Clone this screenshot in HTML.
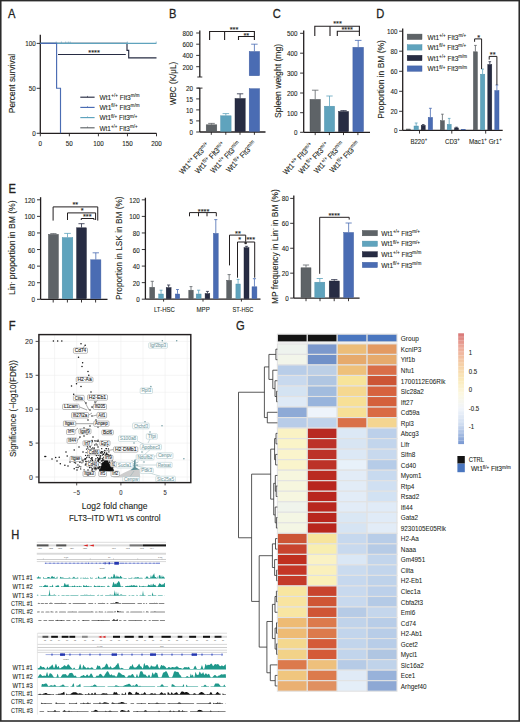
<!DOCTYPE html>
<html><head><meta charset="utf-8"><style>
html,body{margin:0;padding:0;background:#fff;}
svg{display:block;}
text{font-family:"Liberation Sans", sans-serif;}
</style></head><body>
<svg width="520" height="722" viewBox="0 0 520 722">
<rect x="0.75" y="0.6" width="518.5" height="720.4" fill="none" stroke="#2b2b2b" stroke-width="1.6"/>
<text transform="translate(8.00,18.10) scale(0.82,1)" font-size="13.6" text-anchor="start" fill="#231f20" stroke="#231f20" stroke-width="0.3">A</text>
<text transform="translate(169.00,18.20) scale(0.82,1)" font-size="13.6" text-anchor="start" fill="#231f20" stroke="#231f20" stroke-width="0.3">B</text>
<text transform="translate(272.70,18.20) scale(0.82,1)" font-size="13.6" text-anchor="start" fill="#231f20" stroke="#231f20" stroke-width="0.3">C</text>
<text transform="translate(376.20,18.20) scale(0.82,1)" font-size="13.6" text-anchor="start" fill="#231f20" stroke="#231f20" stroke-width="0.3">D</text>
<text transform="translate(8.40,192.80) scale(0.82,1)" font-size="13.6" text-anchor="start" fill="#231f20" stroke="#231f20" stroke-width="0.3">E</text>
<text transform="translate(8.70,329.50) scale(0.82,1)" font-size="13.6" text-anchor="start" fill="#231f20" stroke="#231f20" stroke-width="0.3">F</text>
<text transform="translate(235.90,329.50) scale(0.82,1)" font-size="13.6" text-anchor="start" fill="#231f20" stroke="#231f20" stroke-width="0.3">G</text>
<text transform="translate(11.20,539.00) scale(0.82,1)" font-size="13.6" text-anchor="start" fill="#231f20" stroke="#231f20" stroke-width="0.3">H</text>
<line x1="40.30" y1="34.80" x2="40.30" y2="133.30" stroke="#231f20" stroke-width="1.3"/>
<line x1="36.70" y1="43.40" x2="40.30" y2="43.40" stroke="#231f20" stroke-width="0.9"/>
<text transform="translate(35.70,46.40) scale(0.94,1)" font-size="6.7" text-anchor="end" fill="#231f20" stroke="#231f20" stroke-width="0.1">100</text>
<line x1="36.70" y1="88.30" x2="40.30" y2="88.30" stroke="#231f20" stroke-width="0.9"/>
<text transform="translate(35.70,91.30) scale(0.94,1)" font-size="6.7" text-anchor="end" fill="#231f20" stroke="#231f20" stroke-width="0.1">50</text>
<line x1="36.70" y1="133.30" x2="40.30" y2="133.30" stroke="#231f20" stroke-width="0.9"/>
<text transform="translate(35.70,136.30) scale(0.94,1)" font-size="6.7" text-anchor="end" fill="#231f20" stroke="#231f20" stroke-width="0.1">0</text>
<line x1="40.30" y1="133.30" x2="156.50" y2="133.30" stroke="#231f20" stroke-width="1.3"/>
<line x1="40.30" y1="133.30" x2="40.30" y2="136.30" stroke="#231f20" stroke-width="0.9"/>
<text transform="translate(40.30,146.00) scale(0.94,1)" font-size="6.7" text-anchor="middle" fill="#231f20" stroke="#231f20" stroke-width="0.1">0</text>
<line x1="69.35" y1="133.30" x2="69.35" y2="136.30" stroke="#231f20" stroke-width="0.9"/>
<text transform="translate(69.35,146.00) scale(0.94,1)" font-size="6.7" text-anchor="middle" fill="#231f20" stroke="#231f20" stroke-width="0.1">50</text>
<line x1="98.40" y1="133.30" x2="98.40" y2="136.30" stroke="#231f20" stroke-width="0.9"/>
<text transform="translate(98.40,146.00) scale(0.94,1)" font-size="6.7" text-anchor="middle" fill="#231f20" stroke="#231f20" stroke-width="0.1">100</text>
<line x1="127.45" y1="133.30" x2="127.45" y2="136.30" stroke="#231f20" stroke-width="0.9"/>
<text transform="translate(127.45,146.00) scale(0.94,1)" font-size="6.7" text-anchor="middle" fill="#231f20" stroke="#231f20" stroke-width="0.1">150</text>
<line x1="156.50" y1="133.30" x2="156.50" y2="136.30" stroke="#231f20" stroke-width="0.9"/>
<text transform="translate(156.50,146.00) scale(0.94,1)" font-size="6.7" text-anchor="middle" fill="#231f20" stroke="#231f20" stroke-width="0.1">200</text>
<text transform="translate(15.40,83.50) rotate(-90)" font-size="9.0" text-anchor="middle" fill="#231f20" stroke="#231f20" stroke-width="0.1" textLength="59.40" lengthAdjust="spacingAndGlyphs">Percent survival</text>
<path d="M40.3,43.4 H127 V50.4 H128.7 V57.9 H156.5" stroke="#272c43" stroke-width="1.15" fill="none"/>
<path d="M40.3,43.4 H156.5" stroke="#5fa3bd" stroke-width="1.15" fill="none"/>
<path d="M40.3,43.4 H56.6 V88.2 H60.5 V133.3" stroke="#4a6cb3" stroke-width="1.15" fill="none"/>
<line x1="56.20" y1="41.50" x2="56.20" y2="43.00" stroke="#5fa3bd" stroke-width="0.6"/>
<line x1="61.40" y1="41.50" x2="61.40" y2="43.00" stroke="#5fa3bd" stroke-width="0.6"/>
<line x1="65.70" y1="41.50" x2="65.70" y2="43.00" stroke="#5fa3bd" stroke-width="0.6"/>
<line x1="68.30" y1="41.50" x2="68.30" y2="43.00" stroke="#5fa3bd" stroke-width="0.6"/>
<line x1="70.20" y1="41.50" x2="70.20" y2="43.00" stroke="#5fa3bd" stroke-width="0.6"/>
<line x1="127.30" y1="41.50" x2="127.30" y2="43.00" stroke="#5fa3bd" stroke-width="0.6"/>
<line x1="156.20" y1="41.50" x2="156.20" y2="43.00" stroke="#5fa3bd" stroke-width="0.6"/>
<line x1="58.00" y1="54.50" x2="125.80" y2="54.50" stroke="#272c43" stroke-width="1.05"/>
<text transform="translate(94.00,54.90)" font-size="7.4" text-anchor="middle" fill="#231f20" stroke="#231f20" stroke-width="0.12">****</text>
<line x1="80.30" y1="97.20" x2="94.60" y2="97.20" stroke="#272c43" stroke-width="1.15"/>
<line x1="87.50" y1="95.90" x2="87.50" y2="97.20" stroke="#272c43" stroke-width="0.6"/>
<text transform="translate(99.50,100.00)" font-size="7.8" text-anchor="start" fill="#231f20" stroke="#231f20" stroke-width="0.1" textLength="40.00" lengthAdjust="spacingAndGlyphs">Wt1<tspan dy="-2.9" font-size="5.4">+/+</tspan><tspan dy="2.9"> Flt3</tspan><tspan dy="-2.9" font-size="5.4">m/m</tspan></text>
<line x1="80.30" y1="107.40" x2="94.60" y2="107.40" stroke="#4a6cb3" stroke-width="1.15"/>
<line x1="87.50" y1="106.10" x2="87.50" y2="107.40" stroke="#4a6cb3" stroke-width="0.6"/>
<text transform="translate(99.50,110.20)" font-size="7.8" text-anchor="start" fill="#231f20" stroke="#231f20" stroke-width="0.1" textLength="40.00" lengthAdjust="spacingAndGlyphs">Wt1<tspan dy="-2.9" font-size="5.4">fl/+</tspan><tspan dy="2.9"> Flt3</tspan><tspan dy="-2.9" font-size="5.4">m/m</tspan></text>
<line x1="80.30" y1="117.60" x2="94.60" y2="117.60" stroke="#5fa3bd" stroke-width="1.15"/>
<line x1="87.50" y1="116.30" x2="87.50" y2="117.60" stroke="#5fa3bd" stroke-width="0.6"/>
<text transform="translate(99.50,120.40)" font-size="7.8" text-anchor="start" fill="#231f20" stroke="#231f20" stroke-width="0.1" textLength="38.00" lengthAdjust="spacingAndGlyphs">Wt1<tspan dy="-2.9" font-size="5.4">fl/+</tspan><tspan dy="2.9"> Flt3</tspan><tspan dy="-2.9" font-size="5.4">m/+</tspan></text>
<line x1="80.30" y1="127.80" x2="94.60" y2="127.80" stroke="#5e6367" stroke-width="1.15"/>
<line x1="87.50" y1="126.50" x2="87.50" y2="127.80" stroke="#5e6367" stroke-width="0.6"/>
<text transform="translate(99.50,130.60)" font-size="7.8" text-anchor="start" fill="#231f20" stroke="#231f20" stroke-width="0.1" textLength="38.00" lengthAdjust="spacingAndGlyphs">Wt1<tspan dy="-2.9" font-size="5.4">+/+</tspan><tspan dy="2.9"> Flt3</tspan><tspan dy="-2.9" font-size="5.4">m/+</tspan></text>
<line x1="199.80" y1="30.40" x2="199.80" y2="77.00" stroke="#231f20" stroke-width="1.3"/>
<line x1="196.20" y1="33.00" x2="199.80" y2="33.00" stroke="#231f20" stroke-width="0.9"/>
<text transform="translate(193.00,36.00) scale(0.94,1)" font-size="6.7" text-anchor="end" fill="#231f20" stroke="#231f20" stroke-width="0.1">800</text>
<line x1="196.20" y1="44.20" x2="199.80" y2="44.20" stroke="#231f20" stroke-width="0.9"/>
<text transform="translate(193.00,47.20) scale(0.94,1)" font-size="6.7" text-anchor="end" fill="#231f20" stroke="#231f20" stroke-width="0.1">600</text>
<line x1="196.20" y1="55.40" x2="199.80" y2="55.40" stroke="#231f20" stroke-width="0.9"/>
<text transform="translate(193.00,58.40) scale(0.94,1)" font-size="6.7" text-anchor="end" fill="#231f20" stroke="#231f20" stroke-width="0.1">400</text>
<line x1="196.20" y1="66.70" x2="199.80" y2="66.70" stroke="#231f20" stroke-width="0.9"/>
<text transform="translate(193.00,69.70) scale(0.94,1)" font-size="6.7" text-anchor="end" fill="#231f20" stroke="#231f20" stroke-width="0.1">200</text>
<line x1="197.30" y1="77.00" x2="202.30" y2="77.00" stroke="#231f20" stroke-width="0.9"/>
<line x1="199.80" y1="88.00" x2="199.80" y2="132.00" stroke="#231f20" stroke-width="1.3"/>
<line x1="197.30" y1="88.10" x2="202.50" y2="88.10" stroke="#231f20" stroke-width="0.9"/>
<line x1="196.20" y1="88.10" x2="199.80" y2="88.10" stroke="#231f20" stroke-width="0.9"/>
<text transform="translate(193.00,91.10) scale(0.94,1)" font-size="6.7" text-anchor="end" fill="#231f20" stroke="#231f20" stroke-width="0.1">20</text>
<line x1="196.20" y1="98.90" x2="199.80" y2="98.90" stroke="#231f20" stroke-width="0.9"/>
<text transform="translate(193.00,101.90) scale(0.94,1)" font-size="6.7" text-anchor="end" fill="#231f20" stroke="#231f20" stroke-width="0.1">15</text>
<line x1="196.20" y1="109.90" x2="199.80" y2="109.90" stroke="#231f20" stroke-width="0.9"/>
<text transform="translate(193.00,112.90) scale(0.94,1)" font-size="6.7" text-anchor="end" fill="#231f20" stroke="#231f20" stroke-width="0.1">10</text>
<line x1="196.20" y1="120.90" x2="199.80" y2="120.90" stroke="#231f20" stroke-width="0.9"/>
<text transform="translate(193.00,123.90) scale(0.94,1)" font-size="6.7" text-anchor="end" fill="#231f20" stroke="#231f20" stroke-width="0.1">5</text>
<line x1="196.20" y1="132.00" x2="199.80" y2="132.00" stroke="#231f20" stroke-width="0.9"/>
<text transform="translate(193.00,135.00) scale(0.94,1)" font-size="6.7" text-anchor="end" fill="#231f20" stroke="#231f20" stroke-width="0.1">0</text>
<line x1="199.80" y1="132.00" x2="265.50" y2="132.00" stroke="#231f20" stroke-width="1.3"/>
<line x1="211.30" y1="132.00" x2="211.30" y2="134.80" stroke="#231f20" stroke-width="0.9"/>
<line x1="225.80" y1="132.00" x2="225.80" y2="134.80" stroke="#231f20" stroke-width="0.9"/>
<line x1="240.00" y1="132.00" x2="240.00" y2="134.80" stroke="#231f20" stroke-width="0.9"/>
<line x1="254.40" y1="132.00" x2="254.40" y2="134.80" stroke="#231f20" stroke-width="0.9"/>
<rect x="206.20" y="124.80" width="10.60" height="6.65" fill="#5e6367" stroke="#4b5053" stroke-width="0.45"/>
<line x1="211.50" y1="124.60" x2="211.50" y2="123.40" stroke="#5e6367" stroke-width="0.8"/>
<line x1="208.20" y1="123.40" x2="214.80" y2="123.40" stroke="#5e6367" stroke-width="0.8"/>
<rect x="220.60" y="115.80" width="10.50" height="15.65" fill="#5fa3bd" stroke="#4f91aa" stroke-width="0.45"/>
<line x1="225.85" y1="115.60" x2="225.85" y2="113.60" stroke="#5fa3bd" stroke-width="0.8"/>
<line x1="222.58" y1="113.60" x2="229.12" y2="113.60" stroke="#5fa3bd" stroke-width="0.8"/>
<rect x="235.00" y="98.50" width="10.20" height="32.95" fill="#272c43" stroke="#1d2133" stroke-width="0.45"/>
<line x1="240.10" y1="98.30" x2="240.10" y2="93.80" stroke="#272c43" stroke-width="0.8"/>
<line x1="236.92" y1="93.80" x2="243.28" y2="93.80" stroke="#272c43" stroke-width="0.8"/>
<rect x="249.20" y="88.70" width="10.40" height="42.75" fill="#4a6cb3" stroke="#3e5da0" stroke-width="0.45"/>
<rect x="249.20" y="51.50" width="10.40" height="24.25" fill="#4a6cb3" stroke="#3e5da0" stroke-width="0.45"/>
<line x1="254.40" y1="51.30" x2="254.40" y2="44.20" stroke="#4a6cb3" stroke-width="0.8"/>
<line x1="251.16" y1="44.20" x2="257.64" y2="44.20" stroke="#4a6cb3" stroke-width="0.8"/>
<path d="M209.6,40 V31.5 H254.4 V36.5" stroke="#231f20" stroke-width="1.1" fill="none"/>
<line x1="224.60" y1="31.50" x2="224.60" y2="40.00" stroke="#231f20" stroke-width="1.1"/>
<path d="M238.5,40 V36.5 H254.4 V40" stroke="#231f20" stroke-width="1.1" fill="none"/>
<text transform="translate(234.00,32.20)" font-size="7.4" text-anchor="middle" fill="#231f20" stroke="#231f20" stroke-width="0.12">***</text>
<text transform="translate(246.30,37.80)" font-size="7.4" text-anchor="middle" fill="#231f20" stroke="#231f20" stroke-width="0.12">**</text>
<text transform="translate(176.20,83.50) rotate(-90)" font-size="9.0" text-anchor="middle" fill="#231f20" stroke="#231f20" stroke-width="0.1" textLength="43.40" lengthAdjust="spacingAndGlyphs">WBC (K/μL)</text>
<text transform="translate(209.70,145.60) rotate(-47)" font-size="7.8" text-anchor="end" fill="#231f20" stroke="#231f20" stroke-width="0.1" textLength="40.00" lengthAdjust="spacingAndGlyphs">Wt1<tspan dy="-2.8" font-size="5.2">+/+</tspan><tspan dy="2.8"> Flt3</tspan><tspan dy="-2.8" font-size="5.2">m/+</tspan></text>
<text transform="translate(225.50,145.00) rotate(-47)" font-size="7.8" text-anchor="end" fill="#231f20" stroke="#231f20" stroke-width="0.1" textLength="40.00" lengthAdjust="spacingAndGlyphs">Wt1<tspan dy="-2.8" font-size="5.2">fl/+</tspan><tspan dy="2.8"> Flt3</tspan><tspan dy="-2.8" font-size="5.2">m/+</tspan></text>
<text transform="translate(241.00,144.40) rotate(-47)" font-size="7.8" text-anchor="end" fill="#231f20" stroke="#231f20" stroke-width="0.1" textLength="40.00" lengthAdjust="spacingAndGlyphs">Wt1<tspan dy="-2.8" font-size="5.2">+/+</tspan><tspan dy="2.8"> Flt3</tspan><tspan dy="-2.8" font-size="5.2">m/m</tspan></text>
<text transform="translate(256.70,143.80) rotate(-47)" font-size="7.8" text-anchor="end" fill="#231f20" stroke="#231f20" stroke-width="0.1" textLength="40.00" lengthAdjust="spacingAndGlyphs">Wt1<tspan dy="-2.8" font-size="5.2">fl/+</tspan><tspan dy="2.8"> Flt3</tspan><tspan dy="-2.8" font-size="5.2">m/m</tspan></text>
<line x1="303.70" y1="30.40" x2="303.70" y2="132.30" stroke="#231f20" stroke-width="1.3"/>
<line x1="300.10" y1="33.30" x2="303.70" y2="33.30" stroke="#231f20" stroke-width="0.9"/>
<text transform="translate(297.60,36.30) scale(0.94,1)" font-size="6.7" text-anchor="end" fill="#231f20" stroke="#231f20" stroke-width="0.1">500</text>
<line x1="300.10" y1="53.20" x2="303.70" y2="53.20" stroke="#231f20" stroke-width="0.9"/>
<text transform="translate(297.60,56.20) scale(0.94,1)" font-size="6.7" text-anchor="end" fill="#231f20" stroke="#231f20" stroke-width="0.1">400</text>
<line x1="300.10" y1="73.10" x2="303.70" y2="73.10" stroke="#231f20" stroke-width="0.9"/>
<text transform="translate(297.60,76.10) scale(0.94,1)" font-size="6.7" text-anchor="end" fill="#231f20" stroke="#231f20" stroke-width="0.1">300</text>
<line x1="300.10" y1="93.00" x2="303.70" y2="93.00" stroke="#231f20" stroke-width="0.9"/>
<text transform="translate(297.60,96.00) scale(0.94,1)" font-size="6.7" text-anchor="end" fill="#231f20" stroke="#231f20" stroke-width="0.1">200</text>
<line x1="300.10" y1="112.70" x2="303.70" y2="112.70" stroke="#231f20" stroke-width="0.9"/>
<text transform="translate(297.60,115.70) scale(0.94,1)" font-size="6.7" text-anchor="end" fill="#231f20" stroke="#231f20" stroke-width="0.1">100</text>
<line x1="300.10" y1="132.30" x2="303.70" y2="132.30" stroke="#231f20" stroke-width="0.9"/>
<text transform="translate(297.60,135.30) scale(0.94,1)" font-size="6.7" text-anchor="end" fill="#231f20" stroke="#231f20" stroke-width="0.1">0</text>
<line x1="303.70" y1="132.30" x2="370.00" y2="132.30" stroke="#231f20" stroke-width="1.3"/>
<line x1="315.20" y1="132.30" x2="315.20" y2="135.10" stroke="#231f20" stroke-width="0.9"/>
<line x1="329.40" y1="132.30" x2="329.40" y2="135.10" stroke="#231f20" stroke-width="0.9"/>
<line x1="343.50" y1="132.30" x2="343.50" y2="135.10" stroke="#231f20" stroke-width="0.9"/>
<line x1="357.90" y1="132.30" x2="357.90" y2="135.10" stroke="#231f20" stroke-width="0.9"/>
<rect x="310.00" y="99.40" width="10.40" height="32.35" fill="#5e6367" stroke="#4b5053" stroke-width="0.45"/>
<line x1="315.20" y1="99.20" x2="315.20" y2="90.20" stroke="#5e6367" stroke-width="0.8"/>
<line x1="311.96" y1="90.20" x2="318.44" y2="90.20" stroke="#5e6367" stroke-width="0.8"/>
<rect x="324.40" y="106.20" width="10.20" height="25.55" fill="#5fa3bd" stroke="#4f91aa" stroke-width="0.45"/>
<line x1="329.50" y1="106.00" x2="329.50" y2="96.00" stroke="#5fa3bd" stroke-width="0.8"/>
<line x1="326.32" y1="96.00" x2="332.68" y2="96.00" stroke="#5fa3bd" stroke-width="0.8"/>
<rect x="338.50" y="111.50" width="10.10" height="20.25" fill="#272c43" stroke="#1d2133" stroke-width="0.45"/>
<line x1="343.55" y1="111.30" x2="343.55" y2="110.60" stroke="#272c43" stroke-width="0.8"/>
<line x1="340.40" y1="110.60" x2="346.70" y2="110.60" stroke="#272c43" stroke-width="0.8"/>
<rect x="352.90" y="47.30" width="10.60" height="84.45" fill="#4a6cb3" stroke="#3e5da0" stroke-width="0.45"/>
<line x1="358.20" y1="47.10" x2="358.20" y2="40.40" stroke="#4a6cb3" stroke-width="0.8"/>
<line x1="354.90" y1="40.40" x2="361.50" y2="40.40" stroke="#4a6cb3" stroke-width="0.8"/>
<path d="M314.8,36 V26.2 H359.4 V31.2" stroke="#231f20" stroke-width="1.1" fill="none"/>
<line x1="330.00" y1="26.20" x2="330.00" y2="36.00" stroke="#231f20" stroke-width="1.1"/>
<path d="M337.3,36 V31.2 H359.4 V36" stroke="#231f20" stroke-width="1.1" fill="none"/>
<text transform="translate(337.50,26.30)" font-size="7.4" text-anchor="middle" fill="#231f20" stroke="#231f20" stroke-width="0.12">***</text>
<text transform="translate(347.20,32.30)" font-size="7.4" text-anchor="middle" fill="#231f20" stroke="#231f20" stroke-width="0.12">****</text>
<text transform="translate(280.50,80.90) rotate(-90)" font-size="9.0" text-anchor="middle" fill="#231f20" stroke="#231f20" stroke-width="0.1" textLength="74.00" lengthAdjust="spacingAndGlyphs">Spleen weight (mg)</text>
<text transform="translate(313.60,145.90) rotate(-47)" font-size="7.8" text-anchor="end" fill="#231f20" stroke="#231f20" stroke-width="0.1" textLength="40.00" lengthAdjust="spacingAndGlyphs">Wt1<tspan dy="-2.8" font-size="5.2">+/+</tspan><tspan dy="2.8"> Flt3</tspan><tspan dy="-2.8" font-size="5.2">m/+</tspan></text>
<text transform="translate(329.10,145.30) rotate(-47)" font-size="7.8" text-anchor="end" fill="#231f20" stroke="#231f20" stroke-width="0.1" textLength="40.00" lengthAdjust="spacingAndGlyphs">Wt1<tspan dy="-2.8" font-size="5.2">fl/+</tspan><tspan dy="2.8"> Flt3</tspan><tspan dy="-2.8" font-size="5.2">m/+</tspan></text>
<text transform="translate(344.50,144.70) rotate(-47)" font-size="7.8" text-anchor="end" fill="#231f20" stroke="#231f20" stroke-width="0.1" textLength="40.00" lengthAdjust="spacingAndGlyphs">Wt1<tspan dy="-2.8" font-size="5.2">+/+</tspan><tspan dy="2.8"> Flt3</tspan><tspan dy="-2.8" font-size="5.2">m/m</tspan></text>
<text transform="translate(360.20,144.10) rotate(-47)" font-size="7.8" text-anchor="end" fill="#231f20" stroke="#231f20" stroke-width="0.1" textLength="40.00" lengthAdjust="spacingAndGlyphs">Wt1<tspan dy="-2.8" font-size="5.2">fl/+</tspan><tspan dy="2.8"> Flt3</tspan><tspan dy="-2.8" font-size="5.2">m/m</tspan></text>
<line x1="402.70" y1="28.50" x2="402.70" y2="130.40" stroke="#231f20" stroke-width="1.3"/>
<line x1="399.10" y1="31.20" x2="402.70" y2="31.20" stroke="#231f20" stroke-width="0.9"/>
<text transform="translate(397.50,34.20) scale(0.94,1)" font-size="6.7" text-anchor="end" fill="#231f20" stroke="#231f20" stroke-width="0.1">100</text>
<line x1="399.10" y1="51.20" x2="402.70" y2="51.20" stroke="#231f20" stroke-width="0.9"/>
<text transform="translate(397.50,54.20) scale(0.94,1)" font-size="6.7" text-anchor="end" fill="#231f20" stroke="#231f20" stroke-width="0.1">80</text>
<line x1="399.10" y1="71.30" x2="402.70" y2="71.30" stroke="#231f20" stroke-width="0.9"/>
<text transform="translate(397.50,74.30) scale(0.94,1)" font-size="6.7" text-anchor="end" fill="#231f20" stroke="#231f20" stroke-width="0.1">60</text>
<line x1="399.10" y1="91.30" x2="402.70" y2="91.30" stroke="#231f20" stroke-width="0.9"/>
<text transform="translate(397.50,94.30) scale(0.94,1)" font-size="6.7" text-anchor="end" fill="#231f20" stroke="#231f20" stroke-width="0.1">40</text>
<line x1="399.10" y1="111.30" x2="402.70" y2="111.30" stroke="#231f20" stroke-width="0.9"/>
<text transform="translate(397.50,114.30) scale(0.94,1)" font-size="6.7" text-anchor="end" fill="#231f20" stroke="#231f20" stroke-width="0.1">20</text>
<line x1="399.10" y1="130.40" x2="402.70" y2="130.40" stroke="#231f20" stroke-width="0.9"/>
<text transform="translate(397.50,133.40) scale(0.94,1)" font-size="6.7" text-anchor="end" fill="#231f20" stroke="#231f20" stroke-width="0.1">0</text>
<line x1="402.70" y1="130.40" x2="502.70" y2="130.40" stroke="#231f20" stroke-width="1.3"/>
<line x1="419.50" y1="130.40" x2="419.50" y2="133.60" stroke="#231f20" stroke-width="0.9"/>
<line x1="451.80" y1="130.40" x2="451.80" y2="133.60" stroke="#231f20" stroke-width="0.9"/>
<line x1="485.70" y1="130.40" x2="485.70" y2="133.60" stroke="#231f20" stroke-width="0.9"/>
<rect x="406.50" y="129.00" width="3.90" height="0.85" fill="#5e6367" stroke="#4b5053" stroke-width="0.45"/>
<rect x="414.00" y="126.00" width="4.40" height="3.85" fill="#5fa3bd" stroke="#4f91aa" stroke-width="0.45"/>
<line x1="416.20" y1="125.80" x2="416.20" y2="123.00" stroke="#5fa3bd" stroke-width="0.8"/>
<line x1="414.76" y1="123.00" x2="417.64" y2="123.00" stroke="#5fa3bd" stroke-width="0.8"/>
<rect x="421.20" y="125.40" width="4.00" height="4.45" fill="#272c43" stroke="#1d2133" stroke-width="0.45"/>
<line x1="423.20" y1="125.20" x2="423.20" y2="124.60" stroke="#272c43" stroke-width="0.8"/>
<line x1="421.88" y1="124.60" x2="424.52" y2="124.60" stroke="#272c43" stroke-width="0.8"/>
<rect x="428.20" y="117.40" width="4.40" height="12.45" fill="#4a6cb3" stroke="#3e5da0" stroke-width="0.45"/>
<line x1="430.40" y1="117.20" x2="430.40" y2="108.30" stroke="#4a6cb3" stroke-width="0.8"/>
<line x1="428.96" y1="108.30" x2="431.84" y2="108.30" stroke="#4a6cb3" stroke-width="0.8"/>
<rect x="440.40" y="120.70" width="4.00" height="9.15" fill="#5e6367" stroke="#4b5053" stroke-width="0.45"/>
<line x1="442.40" y1="120.50" x2="442.40" y2="114.20" stroke="#5e6367" stroke-width="0.8"/>
<line x1="441.08" y1="114.20" x2="443.72" y2="114.20" stroke="#5e6367" stroke-width="0.8"/>
<rect x="447.20" y="124.30" width="4.00" height="5.55" fill="#5fa3bd" stroke="#4f91aa" stroke-width="0.45"/>
<line x1="449.20" y1="124.10" x2="449.20" y2="118.40" stroke="#5fa3bd" stroke-width="0.8"/>
<line x1="447.88" y1="118.40" x2="450.52" y2="118.40" stroke="#5fa3bd" stroke-width="0.8"/>
<rect x="454.60" y="127.90" width="3.80" height="1.95" fill="#272c43" stroke="#1d2133" stroke-width="0.45"/>
<line x1="456.50" y1="127.70" x2="456.50" y2="127.20" stroke="#272c43" stroke-width="0.8"/>
<line x1="455.24" y1="127.20" x2="457.76" y2="127.20" stroke="#272c43" stroke-width="0.8"/>
<rect x="461.50" y="129.40" width="3.90" height="0.45" fill="#4a6cb3" stroke="#3e5da0" stroke-width="0.45"/>
<rect x="473.40" y="51.80" width="4.00" height="78.05" fill="#5e6367" stroke="#4b5053" stroke-width="0.45"/>
<line x1="475.40" y1="51.60" x2="475.40" y2="45.40" stroke="#5e6367" stroke-width="0.8"/>
<line x1="474.08" y1="45.40" x2="476.72" y2="45.40" stroke="#5e6367" stroke-width="0.8"/>
<rect x="480.40" y="74.20" width="4.40" height="55.65" fill="#5fa3bd" stroke="#4f91aa" stroke-width="0.45"/>
<line x1="482.60" y1="74.00" x2="482.60" y2="69.10" stroke="#5fa3bd" stroke-width="0.8"/>
<line x1="481.16" y1="69.10" x2="484.04" y2="69.10" stroke="#5fa3bd" stroke-width="0.8"/>
<rect x="487.80" y="64.50" width="4.00" height="65.35" fill="#272c43" stroke="#1d2133" stroke-width="0.45"/>
<line x1="489.80" y1="64.30" x2="489.80" y2="61.70" stroke="#272c43" stroke-width="0.8"/>
<line x1="488.48" y1="61.70" x2="491.12" y2="61.70" stroke="#272c43" stroke-width="0.8"/>
<rect x="494.80" y="90.50" width="4.20" height="39.35" fill="#4a6cb3" stroke="#3e5da0" stroke-width="0.45"/>
<line x1="496.90" y1="90.30" x2="496.90" y2="85.00" stroke="#4a6cb3" stroke-width="0.8"/>
<line x1="495.52" y1="85.00" x2="498.28" y2="85.00" stroke="#4a6cb3" stroke-width="0.8"/>
<path d="M474.6,41.8 V38.9 H481.6 V69" stroke="#231f20" stroke-width="1.0" fill="none"/>
<path d="M489.2,59.6 V56.4 H496.9 V85" stroke="#231f20" stroke-width="1.0" fill="none"/>
<text transform="translate(478.60,39.70)" font-size="7.4" text-anchor="middle" fill="#231f20" stroke="#231f20" stroke-width="0.12">*</text>
<text transform="translate(492.70,57.10)" font-size="7.4" text-anchor="middle" fill="#231f20" stroke="#231f20" stroke-width="0.12">**</text>
<text transform="translate(418.80,144.30)" font-size="7.6" text-anchor="middle" fill="#231f20" stroke="#231f20" stroke-width="0.1" textLength="16.70" lengthAdjust="spacingAndGlyphs">B220<tspan dy="-3.3" font-size="5.4">+</tspan></text>
<text transform="translate(452.40,144.30)" font-size="7.6" text-anchor="middle" fill="#231f20" stroke="#231f20" stroke-width="0.1" textLength="14.80" lengthAdjust="spacingAndGlyphs">CD3<tspan dy="-3.3" font-size="5.4">+</tspan></text>
<text transform="translate(485.40,144.30)" font-size="7.6" text-anchor="middle" fill="#231f20" stroke="#231f20" stroke-width="0.1" textLength="32.70" lengthAdjust="spacingAndGlyphs">Mac1<tspan dy="-3.3" font-size="5.4">+</tspan><tspan dy="3.3"> Gr1</tspan><tspan dy="-3.3" font-size="5.4">+</tspan></text>
<text transform="translate(384.10,79.40) rotate(-90)" font-size="9.0" text-anchor="middle" fill="#231f20" stroke="#231f20" stroke-width="0.1" textLength="78.60" lengthAdjust="spacingAndGlyphs">Proportion in BM (%)</text>
<rect x="407.2" y="34.10" width="14.8" height="5.4" fill="#5e6367" stroke="#4b5053" stroke-width="0.45"/>
<text transform="translate(427.50,39.60)" font-size="7.8" text-anchor="start" fill="#231f20" stroke="#231f20" stroke-width="0.1" textLength="38.60" lengthAdjust="spacingAndGlyphs">Wt1<tspan dy="-2.9" font-size="5.4">+/+</tspan><tspan dy="2.9"> Flt3</tspan><tspan dy="-2.9" font-size="5.4">m/+</tspan></text>
<rect x="407.2" y="44.70" width="14.8" height="5.4" fill="#5fa3bd" stroke="#4f91aa" stroke-width="0.45"/>
<text transform="translate(427.50,50.20)" font-size="7.8" text-anchor="start" fill="#231f20" stroke="#231f20" stroke-width="0.1" textLength="38.60" lengthAdjust="spacingAndGlyphs">Wt1<tspan dy="-2.9" font-size="5.4">fl/+</tspan><tspan dy="2.9"> Flt3</tspan><tspan dy="-2.9" font-size="5.4">m/+</tspan></text>
<rect x="407.2" y="55.30" width="14.8" height="5.4" fill="#272c43" stroke="#1d2133" stroke-width="0.45"/>
<text transform="translate(427.50,60.80)" font-size="7.8" text-anchor="start" fill="#231f20" stroke="#231f20" stroke-width="0.1" textLength="39.60" lengthAdjust="spacingAndGlyphs">Wt1<tspan dy="-2.9" font-size="5.4">+/+</tspan><tspan dy="2.9"> Flt3</tspan><tspan dy="-2.9" font-size="5.4">m/m</tspan></text>
<rect x="407.2" y="65.90" width="14.8" height="5.4" fill="#4a6cb3" stroke="#3e5da0" stroke-width="0.45"/>
<text transform="translate(427.50,71.40)" font-size="7.8" text-anchor="start" fill="#231f20" stroke="#231f20" stroke-width="0.1" textLength="39.60" lengthAdjust="spacingAndGlyphs">Wt1<tspan dy="-2.9" font-size="5.4">fl/+</tspan><tspan dy="2.9"> Flt3</tspan><tspan dy="-2.9" font-size="5.4">m/m</tspan></text>
<line x1="40.60" y1="197.20" x2="40.60" y2="299.30" stroke="#231f20" stroke-width="1.3"/>
<line x1="37.00" y1="299.30" x2="40.60" y2="299.30" stroke="#231f20" stroke-width="0.9"/>
<text transform="translate(35.00,302.30) scale(0.94,1)" font-size="6.7" text-anchor="end" fill="#231f20" stroke="#231f20" stroke-width="0.1">0</text>
<line x1="37.00" y1="282.72" x2="40.60" y2="282.72" stroke="#231f20" stroke-width="0.9"/>
<text transform="translate(35.00,285.72) scale(0.94,1)" font-size="6.7" text-anchor="end" fill="#231f20" stroke="#231f20" stroke-width="0.1">20</text>
<line x1="37.00" y1="266.13" x2="40.60" y2="266.13" stroke="#231f20" stroke-width="0.9"/>
<text transform="translate(35.00,269.13) scale(0.94,1)" font-size="6.7" text-anchor="end" fill="#231f20" stroke="#231f20" stroke-width="0.1">40</text>
<line x1="37.00" y1="249.55" x2="40.60" y2="249.55" stroke="#231f20" stroke-width="0.9"/>
<text transform="translate(35.00,252.55) scale(0.94,1)" font-size="6.7" text-anchor="end" fill="#231f20" stroke="#231f20" stroke-width="0.1">60</text>
<line x1="37.00" y1="232.96" x2="40.60" y2="232.96" stroke="#231f20" stroke-width="0.9"/>
<text transform="translate(35.00,235.96) scale(0.94,1)" font-size="6.7" text-anchor="end" fill="#231f20" stroke="#231f20" stroke-width="0.1">80</text>
<line x1="37.00" y1="216.38" x2="40.60" y2="216.38" stroke="#231f20" stroke-width="0.9"/>
<text transform="translate(35.00,219.38) scale(0.94,1)" font-size="6.7" text-anchor="end" fill="#231f20" stroke="#231f20" stroke-width="0.1">100</text>
<line x1="37.00" y1="199.80" x2="40.60" y2="199.80" stroke="#231f20" stroke-width="0.9"/>
<text transform="translate(35.00,202.80) scale(0.94,1)" font-size="6.7" text-anchor="end" fill="#231f20" stroke="#231f20" stroke-width="0.1">120</text>
<line x1="40.60" y1="299.30" x2="107.50" y2="299.30" stroke="#231f20" stroke-width="1.3"/>
<line x1="53.20" y1="299.30" x2="53.20" y2="302.50" stroke="#231f20" stroke-width="0.9"/>
<line x1="67.40" y1="299.30" x2="67.40" y2="302.50" stroke="#231f20" stroke-width="0.9"/>
<line x1="81.50" y1="299.30" x2="81.50" y2="302.50" stroke="#231f20" stroke-width="0.9"/>
<line x1="95.60" y1="299.30" x2="95.60" y2="302.50" stroke="#231f20" stroke-width="0.9"/>
<rect x="48.40" y="234.40" width="10.00" height="64.35" fill="#5e6367" stroke="#4b5053" stroke-width="0.45"/>
<line x1="53.40" y1="234.20" x2="53.40" y2="233.60" stroke="#5e6367" stroke-width="0.8"/>
<line x1="50.28" y1="233.60" x2="56.52" y2="233.60" stroke="#5e6367" stroke-width="0.8"/>
<rect x="62.20" y="237.60" width="10.60" height="61.15" fill="#5fa3bd" stroke="#4f91aa" stroke-width="0.45"/>
<line x1="67.50" y1="237.40" x2="67.50" y2="233.40" stroke="#5fa3bd" stroke-width="0.8"/>
<line x1="64.20" y1="233.40" x2="70.80" y2="233.40" stroke="#5fa3bd" stroke-width="0.8"/>
<rect x="76.60" y="227.80" width="9.80" height="70.95" fill="#272c43" stroke="#1d2133" stroke-width="0.45"/>
<line x1="81.50" y1="227.60" x2="81.50" y2="223.70" stroke="#272c43" stroke-width="0.8"/>
<line x1="78.44" y1="223.70" x2="84.56" y2="223.70" stroke="#272c43" stroke-width="0.8"/>
<rect x="90.70" y="259.80" width="10.20" height="38.95" fill="#4a6cb3" stroke="#3e5da0" stroke-width="0.45"/>
<line x1="95.80" y1="259.60" x2="95.80" y2="252.80" stroke="#4a6cb3" stroke-width="0.8"/>
<line x1="92.62" y1="252.80" x2="98.98" y2="252.80" stroke="#4a6cb3" stroke-width="0.8"/>
<path d="M53.1,220.6 V206.9 H97.75 V220.6" stroke="#231f20" stroke-width="1.0" fill="none"/>
<path d="M67.5,220 V212.9 H95.6 V220" stroke="#231f20" stroke-width="1.0" fill="none"/>
<path d="M81.25,220 V218.5 H94 V220" stroke="#231f20" stroke-width="1.0" fill="none"/>
<text transform="translate(75.25,206.90)" font-size="7.4" text-anchor="middle" fill="#231f20" stroke="#231f20" stroke-width="0.12">**</text>
<text transform="translate(82.25,212.80)" font-size="7.4" text-anchor="middle" fill="#231f20" stroke="#231f20" stroke-width="0.12">*</text>
<text transform="translate(87.25,219.00)" font-size="7.4" text-anchor="middle" fill="#231f20" stroke="#231f20" stroke-width="0.12">***</text>
<text transform="translate(15.40,247.65) rotate(-90)" font-size="9.0" text-anchor="middle" fill="#231f20" stroke="#231f20" stroke-width="0.1" textLength="94.50" lengthAdjust="spacingAndGlyphs">Lin<tspan dy="-2.8" font-size="5.4">-</tspan><tspan dy="2.8"> proportion in BM (%)</tspan></text>
<line x1="145.40" y1="197.70" x2="145.40" y2="299.20" stroke="#231f20" stroke-width="1.3"/>
<line x1="141.80" y1="299.20" x2="145.40" y2="299.20" stroke="#231f20" stroke-width="0.9"/>
<text transform="translate(139.80,302.20) scale(0.94,1)" font-size="6.7" text-anchor="end" fill="#231f20" stroke="#231f20" stroke-width="0.1">0</text>
<line x1="141.80" y1="282.64" x2="145.40" y2="282.64" stroke="#231f20" stroke-width="0.9"/>
<text transform="translate(139.80,285.64) scale(0.94,1)" font-size="6.7" text-anchor="end" fill="#231f20" stroke="#231f20" stroke-width="0.1">20</text>
<line x1="141.80" y1="266.08" x2="145.40" y2="266.08" stroke="#231f20" stroke-width="0.9"/>
<text transform="translate(139.80,269.08) scale(0.94,1)" font-size="6.7" text-anchor="end" fill="#231f20" stroke="#231f20" stroke-width="0.1">40</text>
<line x1="141.80" y1="249.52" x2="145.40" y2="249.52" stroke="#231f20" stroke-width="0.9"/>
<text transform="translate(139.80,252.52) scale(0.94,1)" font-size="6.7" text-anchor="end" fill="#231f20" stroke="#231f20" stroke-width="0.1">60</text>
<line x1="141.80" y1="232.96" x2="145.40" y2="232.96" stroke="#231f20" stroke-width="0.9"/>
<text transform="translate(139.80,235.96) scale(0.94,1)" font-size="6.7" text-anchor="end" fill="#231f20" stroke="#231f20" stroke-width="0.1">80</text>
<line x1="141.80" y1="216.40" x2="145.40" y2="216.40" stroke="#231f20" stroke-width="0.9"/>
<text transform="translate(139.80,219.40) scale(0.94,1)" font-size="6.7" text-anchor="end" fill="#231f20" stroke="#231f20" stroke-width="0.1">100</text>
<line x1="141.80" y1="199.84" x2="145.40" y2="199.84" stroke="#231f20" stroke-width="0.9"/>
<text transform="translate(139.80,202.84) scale(0.94,1)" font-size="6.7" text-anchor="end" fill="#231f20" stroke="#231f20" stroke-width="0.1">120</text>
<line x1="145.40" y1="299.20" x2="260.50" y2="299.20" stroke="#231f20" stroke-width="1.3"/>
<line x1="163.60" y1="299.20" x2="163.60" y2="301.60" stroke="#231f20" stroke-width="0.9"/>
<line x1="203.00" y1="299.20" x2="203.00" y2="301.60" stroke="#231f20" stroke-width="0.9"/>
<line x1="241.40" y1="299.20" x2="241.40" y2="301.60" stroke="#231f20" stroke-width="0.9"/>
<rect x="149.80" y="287.30" width="4.90" height="11.35" fill="#5e6367" stroke="#4b5053" stroke-width="0.45"/>
<line x1="152.25" y1="287.10" x2="152.25" y2="281.30" stroke="#5e6367" stroke-width="0.8"/>
<line x1="150.66" y1="281.30" x2="153.84" y2="281.30" stroke="#5e6367" stroke-width="0.8"/>
<rect x="158.70" y="294.00" width="4.70" height="4.65" fill="#5fa3bd" stroke="#4f91aa" stroke-width="0.45"/>
<line x1="161.05" y1="293.80" x2="161.05" y2="290.20" stroke="#5fa3bd" stroke-width="0.8"/>
<line x1="159.52" y1="290.20" x2="162.58" y2="290.20" stroke="#5fa3bd" stroke-width="0.8"/>
<rect x="166.20" y="287.60" width="4.90" height="11.05" fill="#272c43" stroke="#1d2133" stroke-width="0.45"/>
<line x1="168.65" y1="287.40" x2="168.65" y2="285.00" stroke="#272c43" stroke-width="0.8"/>
<line x1="167.06" y1="285.00" x2="170.24" y2="285.00" stroke="#272c43" stroke-width="0.8"/>
<rect x="175.30" y="294.00" width="4.40" height="4.65" fill="#4a6cb3" stroke="#3e5da0" stroke-width="0.45"/>
<line x1="177.50" y1="293.80" x2="177.50" y2="289.50" stroke="#4a6cb3" stroke-width="0.8"/>
<line x1="176.06" y1="289.50" x2="178.94" y2="289.50" stroke="#4a6cb3" stroke-width="0.8"/>
<rect x="188.80" y="290.20" width="4.40" height="8.45" fill="#5e6367" stroke="#4b5053" stroke-width="0.45"/>
<line x1="191.00" y1="290.00" x2="191.00" y2="286.60" stroke="#5e6367" stroke-width="0.8"/>
<line x1="189.56" y1="286.60" x2="192.44" y2="286.60" stroke="#5e6367" stroke-width="0.8"/>
<rect x="196.20" y="294.00" width="4.90" height="4.65" fill="#5fa3bd" stroke="#4f91aa" stroke-width="0.45"/>
<line x1="198.65" y1="293.80" x2="198.65" y2="290.20" stroke="#5fa3bd" stroke-width="0.8"/>
<line x1="197.06" y1="290.20" x2="200.24" y2="290.20" stroke="#5fa3bd" stroke-width="0.8"/>
<rect x="205.10" y="293.60" width="4.70" height="5.05" fill="#272c43" stroke="#1d2133" stroke-width="0.45"/>
<line x1="207.45" y1="293.40" x2="207.45" y2="291.40" stroke="#272c43" stroke-width="0.8"/>
<line x1="205.92" y1="291.40" x2="208.98" y2="291.40" stroke="#272c43" stroke-width="0.8"/>
<rect x="213.40" y="233.40" width="4.80" height="65.25" fill="#4a6cb3" stroke="#3e5da0" stroke-width="0.45"/>
<line x1="215.80" y1="233.20" x2="215.80" y2="219.60" stroke="#4a6cb3" stroke-width="0.8"/>
<line x1="214.24" y1="219.60" x2="217.36" y2="219.60" stroke="#4a6cb3" stroke-width="0.8"/>
<rect x="226.70" y="280.30" width="4.90" height="18.35" fill="#5e6367" stroke="#4b5053" stroke-width="0.45"/>
<line x1="229.15" y1="280.10" x2="229.15" y2="274.60" stroke="#5e6367" stroke-width="0.8"/>
<line x1="227.56" y1="274.60" x2="230.74" y2="274.60" stroke="#5e6367" stroke-width="0.8"/>
<rect x="235.90" y="284.00" width="4.40" height="14.65" fill="#5fa3bd" stroke="#4f91aa" stroke-width="0.45"/>
<line x1="238.10" y1="283.80" x2="238.10" y2="279.40" stroke="#5fa3bd" stroke-width="0.8"/>
<line x1="236.66" y1="279.40" x2="239.54" y2="279.40" stroke="#5fa3bd" stroke-width="0.8"/>
<rect x="244.00" y="247.60" width="5.00" height="51.05" fill="#272c43" stroke="#1d2133" stroke-width="0.45"/>
<line x1="246.50" y1="247.40" x2="246.50" y2="246.30" stroke="#272c43" stroke-width="0.8"/>
<line x1="244.88" y1="246.30" x2="248.12" y2="246.30" stroke="#272c43" stroke-width="0.8"/>
<rect x="252.00" y="286.80" width="4.90" height="11.85" fill="#4a6cb3" stroke="#3e5da0" stroke-width="0.45"/>
<line x1="254.45" y1="286.60" x2="254.45" y2="278.70" stroke="#4a6cb3" stroke-width="0.8"/>
<line x1="252.86" y1="278.70" x2="256.04" y2="278.70" stroke="#4a6cb3" stroke-width="0.8"/>
<path d="M189.5,216.3 V212.6 H216.3 V216.3" stroke="#231f20" stroke-width="1.0" fill="none"/>
<line x1="198.50" y1="212.60" x2="198.50" y2="216.30" stroke="#231f20" stroke-width="1.0"/>
<line x1="207.00" y1="212.60" x2="207.00" y2="216.30" stroke="#231f20" stroke-width="1.0"/>
<text transform="translate(203.50,214.00)" font-size="7.4" text-anchor="middle" fill="#231f20" stroke="#231f20" stroke-width="0.12">****</text>
<path d="M229.5,265.4 V235.1 H245.7 V244.1" stroke="#231f20" stroke-width="1.0" fill="none"/>
<path d="M237.5,277.7 V242 H245 V244.1" stroke="#231f20" stroke-width="1.0" fill="none"/>
<path d="M246.2,244.1 V242 H254.7 V277.7" stroke="#231f20" stroke-width="1.0" fill="none"/>
<text transform="translate(237.90,235.60)" font-size="7.4" text-anchor="middle" fill="#231f20" stroke="#231f20" stroke-width="0.12">**</text>
<text transform="translate(239.70,242.10)" font-size="7.4" text-anchor="middle" fill="#231f20" stroke="#231f20" stroke-width="0.12">*</text>
<text transform="translate(250.70,242.10)" font-size="7.4" text-anchor="middle" fill="#231f20" stroke="#231f20" stroke-width="0.12">***</text>
<text transform="translate(164.40,312.00)" font-size="7.6" text-anchor="middle" fill="#231f20" stroke="#231f20" stroke-width="0.1" textLength="20.90" lengthAdjust="spacingAndGlyphs">LT-HSC</text>
<text transform="translate(203.10,312.00)" font-size="7.6" text-anchor="middle" fill="#231f20" stroke="#231f20" stroke-width="0.1" textLength="13.20" lengthAdjust="spacingAndGlyphs">MPP</text>
<text transform="translate(243.00,312.00)" font-size="7.6" text-anchor="middle" fill="#231f20" stroke="#231f20" stroke-width="0.1" textLength="21.00" lengthAdjust="spacingAndGlyphs">ST-HSC</text>
<text transform="translate(121.70,248.25) rotate(-90)" font-size="9.0" text-anchor="middle" fill="#231f20" stroke="#231f20" stroke-width="0.1" textLength="103.50" lengthAdjust="spacingAndGlyphs">Proportion in LSK in BM (%)</text>
<line x1="293.80" y1="195.40" x2="293.80" y2="298.10" stroke="#231f20" stroke-width="1.3"/>
<line x1="290.20" y1="298.10" x2="293.80" y2="298.10" stroke="#231f20" stroke-width="0.9"/>
<text transform="translate(288.70,301.10) scale(0.94,1)" font-size="6.7" text-anchor="end" fill="#231f20" stroke="#231f20" stroke-width="0.1">0</text>
<line x1="290.20" y1="273.17" x2="293.80" y2="273.17" stroke="#231f20" stroke-width="0.9"/>
<text transform="translate(288.70,276.17) scale(0.94,1)" font-size="6.7" text-anchor="end" fill="#231f20" stroke="#231f20" stroke-width="0.1">20</text>
<line x1="290.20" y1="248.25" x2="293.80" y2="248.25" stroke="#231f20" stroke-width="0.9"/>
<text transform="translate(288.70,251.25) scale(0.94,1)" font-size="6.7" text-anchor="end" fill="#231f20" stroke="#231f20" stroke-width="0.1">40</text>
<line x1="290.20" y1="223.32" x2="293.80" y2="223.32" stroke="#231f20" stroke-width="0.9"/>
<text transform="translate(288.70,226.32) scale(0.94,1)" font-size="6.7" text-anchor="end" fill="#231f20" stroke="#231f20" stroke-width="0.1">60</text>
<line x1="290.20" y1="198.40" x2="293.80" y2="198.40" stroke="#231f20" stroke-width="0.9"/>
<text transform="translate(288.70,201.40) scale(0.94,1)" font-size="6.7" text-anchor="end" fill="#231f20" stroke="#231f20" stroke-width="0.1">80</text>
<line x1="293.80" y1="298.10" x2="359.60" y2="298.10" stroke="#231f20" stroke-width="1.3"/>
<line x1="306.00" y1="298.10" x2="306.00" y2="301.20" stroke="#231f20" stroke-width="0.9"/>
<line x1="320.00" y1="298.10" x2="320.00" y2="301.20" stroke="#231f20" stroke-width="0.9"/>
<line x1="334.20" y1="298.10" x2="334.20" y2="301.20" stroke="#231f20" stroke-width="0.9"/>
<line x1="348.50" y1="298.10" x2="348.50" y2="301.20" stroke="#231f20" stroke-width="0.9"/>
<rect x="301.00" y="267.80" width="10.00" height="29.75" fill="#5e6367" stroke="#4b5053" stroke-width="0.45"/>
<line x1="306.00" y1="267.60" x2="306.00" y2="265.00" stroke="#5e6367" stroke-width="0.8"/>
<line x1="302.88" y1="265.00" x2="309.12" y2="265.00" stroke="#5e6367" stroke-width="0.8"/>
<rect x="314.80" y="282.20" width="10.00" height="15.35" fill="#5fa3bd" stroke="#4f91aa" stroke-width="0.45"/>
<line x1="319.80" y1="282.00" x2="319.80" y2="278.50" stroke="#5fa3bd" stroke-width="0.8"/>
<line x1="316.68" y1="278.50" x2="322.92" y2="278.50" stroke="#5fa3bd" stroke-width="0.8"/>
<rect x="329.20" y="281.00" width="10.10" height="16.55" fill="#272c43" stroke="#1d2133" stroke-width="0.45"/>
<line x1="334.25" y1="280.80" x2="334.25" y2="279.60" stroke="#272c43" stroke-width="0.8"/>
<line x1="331.10" y1="279.60" x2="337.40" y2="279.60" stroke="#272c43" stroke-width="0.8"/>
<rect x="343.70" y="232.50" width="9.90" height="65.05" fill="#4a6cb3" stroke="#3e5da0" stroke-width="0.45"/>
<line x1="348.65" y1="232.30" x2="348.65" y2="223.00" stroke="#4a6cb3" stroke-width="0.8"/>
<line x1="345.56" y1="223.00" x2="351.74" y2="223.00" stroke="#4a6cb3" stroke-width="0.8"/>
<path d="M319.7,273.8 V217.3 H349.2 V219.6" stroke="#231f20" stroke-width="1.0" fill="none"/>
<text transform="translate(334.20,217.90)" font-size="7.4" text-anchor="middle" fill="#231f20" stroke="#231f20" stroke-width="0.12">****</text>
<text transform="translate(277.60,246.60) rotate(-90)" font-size="9.0" text-anchor="middle" fill="#231f20" stroke="#231f20" stroke-width="0.1" textLength="114.70" lengthAdjust="spacingAndGlyphs">MP frequency in Lin<tspan dy="-2.8" font-size="5.4">-</tspan><tspan dy="2.8"> in BM (%)</tspan></text>
<rect x="362.3" y="230.50" width="15.1" height="5.3" fill="#5e6367" stroke="#4b5053" stroke-width="0.45"/>
<text transform="translate(381.30,235.80)" font-size="7.4" text-anchor="start" fill="#231f20" stroke="#231f20" stroke-width="0.1" textLength="38.70" lengthAdjust="spacingAndGlyphs">Wt1<tspan dy="-2.8" font-size="5.2">+/+</tspan><tspan dy="2.8"> Flt3</tspan><tspan dy="-2.8" font-size="5.2">m/+</tspan></text>
<rect x="362.3" y="241.10" width="15.1" height="5.3" fill="#5fa3bd" stroke="#4f91aa" stroke-width="0.45"/>
<text transform="translate(381.30,246.40)" font-size="7.4" text-anchor="start" fill="#231f20" stroke="#231f20" stroke-width="0.1" textLength="38.70" lengthAdjust="spacingAndGlyphs">Wt1<tspan dy="-2.8" font-size="5.2">fl/+</tspan><tspan dy="2.8"> Flt3</tspan><tspan dy="-2.8" font-size="5.2">m/+</tspan></text>
<rect x="362.3" y="251.70" width="15.1" height="5.3" fill="#272c43" stroke="#1d2133" stroke-width="0.45"/>
<text transform="translate(381.30,257.00)" font-size="7.4" text-anchor="start" fill="#231f20" stroke="#231f20" stroke-width="0.1" textLength="40.00" lengthAdjust="spacingAndGlyphs">Wt1<tspan dy="-2.8" font-size="5.2">+/+</tspan><tspan dy="2.8"> Flt3</tspan><tspan dy="-2.8" font-size="5.2">m/m</tspan></text>
<rect x="362.3" y="262.30" width="15.1" height="5.3" fill="#4a6cb3" stroke="#3e5da0" stroke-width="0.45"/>
<text transform="translate(381.30,267.60)" font-size="7.4" text-anchor="start" fill="#231f20" stroke="#231f20" stroke-width="0.1" textLength="40.00" lengthAdjust="spacingAndGlyphs">Wt1<tspan dy="-2.8" font-size="5.2">fl/+</tspan><tspan dy="2.8"> Flt3</tspan><tspan dy="-2.8" font-size="5.2">m/m</tspan></text>
<rect x="38.80" y="334.50" width="152.00" height="148.10" fill="#ffffff"/>
<line x1="54.60" y1="335.20" x2="54.60" y2="481.40" stroke="#ececec" stroke-width="0.55"/>
<line x1="76.70" y1="335.20" x2="76.70" y2="481.40" stroke="#ececec" stroke-width="0.55"/>
<line x1="98.80" y1="335.20" x2="98.80" y2="481.40" stroke="#ececec" stroke-width="0.55"/>
<line x1="120.90" y1="335.20" x2="120.90" y2="481.40" stroke="#ececec" stroke-width="0.55"/>
<line x1="143.00" y1="335.20" x2="143.00" y2="481.40" stroke="#ececec" stroke-width="0.55"/>
<line x1="165.10" y1="335.20" x2="165.10" y2="481.40" stroke="#ececec" stroke-width="0.55"/>
<line x1="187.20" y1="335.20" x2="187.20" y2="481.40" stroke="#ececec" stroke-width="0.55"/>
<line x1="39.20" y1="477.00" x2="190.20" y2="477.00" stroke="#ececec" stroke-width="0.55"/>
<line x1="39.20" y1="460.05" x2="190.20" y2="460.05" stroke="#ececec" stroke-width="0.55"/>
<line x1="39.20" y1="443.10" x2="190.20" y2="443.10" stroke="#ececec" stroke-width="0.55"/>
<line x1="39.20" y1="426.15" x2="190.20" y2="426.15" stroke="#ececec" stroke-width="0.55"/>
<line x1="39.20" y1="409.20" x2="190.20" y2="409.20" stroke="#ececec" stroke-width="0.55"/>
<line x1="39.20" y1="392.25" x2="190.20" y2="392.25" stroke="#ececec" stroke-width="0.55"/>
<line x1="39.20" y1="375.30" x2="190.20" y2="375.30" stroke="#ececec" stroke-width="0.55"/>
<line x1="39.20" y1="358.35" x2="190.20" y2="358.35" stroke="#ececec" stroke-width="0.55"/>
<line x1="39.20" y1="341.40" x2="190.20" y2="341.40" stroke="#ececec" stroke-width="0.55"/>
<path d="M112,477.5 L118,476 L124,472.8 L131,469.4 L139.5,469 L140.2,477.2 Z" fill="#cdcdcd"/>
<path d="M99.5,471 L101.5,465 L104,461 L105.8,458 L107.5,460 L109,463 L111.5,467 L114,470 L113.5,471.5 Z" fill="#111"/>
<circle cx="53.4" cy="341" r="0.75" fill="#111"/>
<circle cx="57.7" cy="341" r="0.75" fill="#111"/>
<circle cx="61.8" cy="341" r="0.75" fill="#111"/>
<circle cx="81" cy="343.8" r="0.75" fill="#111"/>
<circle cx="85.2" cy="345.3" r="0.75" fill="#111"/>
<circle cx="78.5" cy="357.2" r="0.75" fill="#111"/>
<circle cx="82.6" cy="362.7" r="0.75" fill="#111"/>
<circle cx="82" cy="366.5" r="0.75" fill="#111"/>
<circle cx="88" cy="371.5" r="0.75" fill="#111"/>
<circle cx="88.8" cy="375.3" r="0.75" fill="#111"/>
<circle cx="76.5" cy="383.8" r="0.75" fill="#111"/>
<circle cx="71.5" cy="386" r="0.75" fill="#111"/>
<circle cx="81" cy="386.5" r="0.75" fill="#111"/>
<circle cx="73.7" cy="394.2" r="0.75" fill="#111"/>
<circle cx="44.9" cy="456.5" r="0.75" fill="#111"/>
<circle cx="55.7" cy="457.6" r="0.75" fill="#111"/>
<circle cx="59.2" cy="457.2" r="0.75" fill="#111"/>
<circle cx="67.2" cy="456" r="0.75" fill="#111"/>
<circle cx="74.2" cy="449.9" r="0.75" fill="#111"/>
<circle cx="60.3" cy="463.8" r="0.75" fill="#111"/>
<circle cx="64.9" cy="465.3" r="0.75" fill="#111"/>
<circle cx="68" cy="466" r="0.75" fill="#111"/>
<circle cx="74.2" cy="468.8" r="0.75" fill="#111"/>
<circle cx="78" cy="467.6" r="0.75" fill="#111"/>
<circle cx="45.7" cy="456.6" r="0.75" fill="#111"/>
<circle cx="52" cy="459" r="0.75" fill="#111"/>
<circle cx="57" cy="461" r="0.75" fill="#111"/>
<circle cx="70" cy="462" r="0.75" fill="#111"/>
<circle cx="66" cy="452" r="0.75" fill="#111"/>
<circle cx="80" cy="437" r="0.75" fill="#111"/>
<circle cx="84" cy="436" r="0.75" fill="#111"/>
<circle cx="88" cy="420" r="0.75" fill="#111"/>
<circle cx="90" cy="410" r="0.75" fill="#111"/>
<circle cx="92" cy="407" r="0.75" fill="#111"/>
<circle cx="86" cy="403" r="0.75" fill="#111"/>
<circle cx="95" cy="402" r="0.75" fill="#111"/>
<circle cx="89" cy="398" r="0.75" fill="#111"/>
<circle cx="91" cy="392" r="0.75" fill="#111"/>
<circle cx="84" cy="428" r="0.75" fill="#111"/>
<circle cx="79" cy="447" r="0.75" fill="#111"/>
<circle cx="83" cy="452" r="0.75" fill="#111"/>
<circle cx="86" cy="444" r="0.75" fill="#111"/>
<circle cx="93" cy="437" r="0.75" fill="#111"/>
<circle cx="96" cy="441" r="0.75" fill="#111"/>
<circle cx="98" cy="447" r="0.75" fill="#111"/>
<circle cx="85" cy="459" r="0.75" fill="#111"/>
<circle cx="80" cy="462" r="0.75" fill="#111"/>
<circle cx="77" cy="470" r="0.75" fill="#111"/>
<circle cx="88" cy="470" r="0.75" fill="#111"/>
<circle cx="92" cy="469" r="0.75" fill="#111"/>
<circle cx="95" cy="465" r="0.75" fill="#111"/>
<circle cx="100" cy="458" r="0.75" fill="#111"/>
<circle cx="102" cy="452" r="0.75" fill="#111"/>
<circle cx="96" cy="452" r="0.75" fill="#111"/>
<circle cx="98" cy="427" r="0.75" fill="#111"/>
<circle cx="96" cy="420" r="0.75" fill="#111"/>
<circle cx="92" cy="416" r="0.75" fill="#111"/>
<circle cx="90" cy="426" r="0.75" fill="#111"/>
<circle cx="87" cy="434" r="0.75" fill="#111"/>
<circle cx="94" cy="449" r="0.75" fill="#111"/>
<circle cx="97.6" cy="465.7" r="0.65" fill="#111"/>
<circle cx="98.9" cy="451.0" r="0.65" fill="#111"/>
<circle cx="98.2" cy="441.1" r="0.65" fill="#111"/>
<circle cx="95.2" cy="454.6" r="0.65" fill="#111"/>
<circle cx="108.2" cy="455.7" r="0.65" fill="#111"/>
<circle cx="101.1" cy="468.4" r="0.65" fill="#111"/>
<circle cx="102.3" cy="470.5" r="0.65" fill="#111"/>
<circle cx="106.6" cy="448.7" r="0.65" fill="#111"/>
<circle cx="88.8" cy="449.3" r="0.65" fill="#111"/>
<circle cx="98.3" cy="464.7" r="0.65" fill="#111"/>
<circle cx="102.0" cy="464.2" r="0.65" fill="#111"/>
<circle cx="87.4" cy="446.2" r="0.65" fill="#111"/>
<circle cx="102.8" cy="460.3" r="0.65" fill="#111"/>
<circle cx="103.2" cy="460.0" r="0.65" fill="#111"/>
<circle cx="106.4" cy="458.8" r="0.65" fill="#111"/>
<circle cx="104.2" cy="468.5" r="0.65" fill="#111"/>
<circle cx="100.5" cy="470.6" r="0.65" fill="#111"/>
<circle cx="96.0" cy="462.7" r="0.65" fill="#111"/>
<circle cx="97.7" cy="441.2" r="0.65" fill="#111"/>
<circle cx="107.3" cy="464.6" r="0.65" fill="#111"/>
<circle cx="80.8" cy="466.8" r="0.65" fill="#111"/>
<circle cx="104.9" cy="462.8" r="0.65" fill="#111"/>
<circle cx="110.7" cy="463.1" r="0.65" fill="#111"/>
<circle cx="94.8" cy="466.3" r="0.65" fill="#111"/>
<circle cx="112.8" cy="467.9" r="0.65" fill="#111"/>
<circle cx="95.3" cy="460.1" r="0.65" fill="#111"/>
<circle cx="97.1" cy="445.0" r="0.65" fill="#111"/>
<circle cx="87.4" cy="463.0" r="0.65" fill="#111"/>
<circle cx="91.9" cy="451.7" r="0.65" fill="#111"/>
<circle cx="74.3" cy="462.6" r="0.65" fill="#111"/>
<circle cx="109.3" cy="467.8" r="0.65" fill="#111"/>
<circle cx="79.8" cy="462.1" r="0.65" fill="#111"/>
<circle cx="109.3" cy="470.0" r="0.65" fill="#111"/>
<circle cx="90.2" cy="447.0" r="0.65" fill="#111"/>
<circle cx="97.6" cy="457.7" r="0.65" fill="#111"/>
<circle cx="86.1" cy="452.6" r="0.65" fill="#111"/>
<circle cx="104.7" cy="469.9" r="0.65" fill="#111"/>
<circle cx="104.1" cy="465.2" r="0.65" fill="#111"/>
<circle cx="94.6" cy="468.9" r="0.65" fill="#111"/>
<circle cx="109.1" cy="467.6" r="0.65" fill="#111"/>
<circle cx="102.4" cy="455.0" r="0.65" fill="#111"/>
<circle cx="94.9" cy="453.7" r="0.65" fill="#111"/>
<circle cx="89.9" cy="450.2" r="0.65" fill="#111"/>
<circle cx="86.0" cy="444.5" r="0.65" fill="#111"/>
<circle cx="94.7" cy="440.8" r="0.65" fill="#111"/>
<circle cx="89.2" cy="457.5" r="0.65" fill="#111"/>
<circle cx="94.3" cy="450.9" r="0.65" fill="#111"/>
<circle cx="106.4" cy="469.8" r="0.65" fill="#111"/>
<circle cx="103.6" cy="454.4" r="0.65" fill="#111"/>
<circle cx="94.2" cy="447.9" r="0.65" fill="#111"/>
<circle cx="97.9" cy="451.3" r="0.65" fill="#111"/>
<circle cx="86.8" cy="457.5" r="0.65" fill="#111"/>
<circle cx="93.2" cy="463.9" r="0.65" fill="#111"/>
<circle cx="96.2" cy="466.8" r="0.65" fill="#111"/>
<circle cx="94.8" cy="445.0" r="0.65" fill="#111"/>
<circle cx="104.3" cy="467.3" r="0.65" fill="#111"/>
<circle cx="99.3" cy="467.7" r="0.65" fill="#111"/>
<circle cx="95.9" cy="468.7" r="0.65" fill="#111"/>
<circle cx="106.9" cy="458.4" r="0.65" fill="#111"/>
<circle cx="101.7" cy="451.7" r="0.65" fill="#111"/>
<circle cx="92.7" cy="447.8" r="0.65" fill="#111"/>
<circle cx="111.1" cy="462.7" r="0.65" fill="#111"/>
<circle cx="99.7" cy="471.2" r="0.65" fill="#111"/>
<circle cx="99.2" cy="458.4" r="0.65" fill="#111"/>
<circle cx="90.9" cy="458.7" r="0.65" fill="#111"/>
<circle cx="95.5" cy="463.2" r="0.65" fill="#111"/>
<circle cx="107.8" cy="454.4" r="0.65" fill="#111"/>
<circle cx="109.8" cy="467.4" r="0.65" fill="#111"/>
<circle cx="103.5" cy="457.3" r="0.65" fill="#111"/>
<circle cx="101.3" cy="467.6" r="0.65" fill="#111"/>
<circle cx="83.1" cy="461.8" r="0.65" fill="#111"/>
<circle cx="92.3" cy="457.9" r="0.65" fill="#111"/>
<circle cx="89.6" cy="467.1" r="0.65" fill="#111"/>
<circle cx="97.5" cy="467.9" r="0.65" fill="#111"/>
<circle cx="90.4" cy="461.0" r="0.65" fill="#111"/>
<circle cx="97.1" cy="450.6" r="0.65" fill="#111"/>
<circle cx="90.2" cy="464.0" r="0.65" fill="#111"/>
<circle cx="84.1" cy="469.8" r="0.65" fill="#111"/>
<circle cx="99.0" cy="459.0" r="0.65" fill="#111"/>
<circle cx="91.8" cy="457.6" r="0.65" fill="#111"/>
<circle cx="96.1" cy="443.9" r="0.65" fill="#111"/>
<circle cx="81.9" cy="462.8" r="0.65" fill="#111"/>
<circle cx="109.7" cy="462.2" r="0.65" fill="#111"/>
<circle cx="86.0" cy="464.0" r="0.65" fill="#111"/>
<circle cx="92.7" cy="462.5" r="0.65" fill="#111"/>
<circle cx="86.1" cy="464.0" r="0.65" fill="#111"/>
<circle cx="97.4" cy="461.8" r="0.65" fill="#111"/>
<circle cx="101.2" cy="463.8" r="0.65" fill="#111"/>
<circle cx="107.6" cy="455.1" r="0.65" fill="#111"/>
<circle cx="99.8" cy="459.5" r="0.65" fill="#111"/>
<circle cx="104.0" cy="464.4" r="0.65" fill="#111"/>
<circle cx="109.9" cy="462.6" r="0.65" fill="#111"/>
<circle cx="103.9" cy="463.7" r="0.65" fill="#111"/>
<circle cx="103.2" cy="464.0" r="0.65" fill="#111"/>
<circle cx="110.6" cy="466.3" r="0.65" fill="#111"/>
<circle cx="98.4" cy="459.4" r="0.65" fill="#111"/>
<circle cx="110.7" cy="468.1" r="0.65" fill="#111"/>
<circle cx="88.9" cy="453.3" r="0.65" fill="#111"/>
<circle cx="91.8" cy="442.2" r="0.65" fill="#111"/>
<circle cx="107.6" cy="468.9" r="0.65" fill="#111"/>
<circle cx="103.2" cy="459.8" r="0.65" fill="#111"/>
<circle cx="107.2" cy="469.0" r="0.65" fill="#111"/>
<circle cx="108.9" cy="451.9" r="0.65" fill="#111"/>
<circle cx="112.6" cy="468.0" r="0.65" fill="#111"/>
<circle cx="96.4" cy="455.5" r="0.65" fill="#111"/>
<circle cx="98.7" cy="460.4" r="0.65" fill="#111"/>
<circle cx="92.7" cy="464.3" r="0.65" fill="#111"/>
<circle cx="92.6" cy="460.6" r="0.65" fill="#111"/>
<circle cx="104.0" cy="453.6" r="0.65" fill="#111"/>
<circle cx="94.1" cy="471.5" r="0.65" fill="#111"/>
<circle cx="92.4" cy="441.2" r="0.65" fill="#111"/>
<circle cx="100.2" cy="455.9" r="0.65" fill="#111"/>
<circle cx="109.9" cy="467.8" r="0.65" fill="#111"/>
<circle cx="89.6" cy="467.6" r="0.65" fill="#111"/>
<circle cx="106.4" cy="454.6" r="0.65" fill="#111"/>
<circle cx="102.5" cy="452.8" r="0.65" fill="#111"/>
<circle cx="108.5" cy="459.0" r="0.65" fill="#111"/>
<circle cx="95.7" cy="468.3" r="0.65" fill="#111"/>
<circle cx="106.7" cy="453.6" r="0.65" fill="#111"/>
<circle cx="104.6" cy="469.3" r="0.65" fill="#111"/>
<circle cx="89.1" cy="455.8" r="0.65" fill="#111"/>
<circle cx="88.6" cy="444.8" r="0.65" fill="#111"/>
<circle cx="90.8" cy="449.4" r="0.65" fill="#111"/>
<circle cx="107.2" cy="459.8" r="0.65" fill="#111"/>
<circle cx="98.3" cy="460.9" r="0.65" fill="#111"/>
<circle cx="92.0" cy="440.5" r="0.65" fill="#111"/>
<circle cx="104.5" cy="457.5" r="0.65" fill="#111"/>
<circle cx="110.5" cy="455.1" r="0.65" fill="#111"/>
<circle cx="102.9" cy="463.4" r="0.65" fill="#111"/>
<circle cx="102.3" cy="463.6" r="0.65" fill="#111"/>
<circle cx="112.2" cy="460.8" r="0.65" fill="#111"/>
<circle cx="106.5" cy="465.5" r="0.65" fill="#111"/>
<circle cx="101.6" cy="453.1" r="0.65" fill="#111"/>
<circle cx="87.7" cy="462.2" r="0.65" fill="#111"/>
<circle cx="89.9" cy="442.5" r="0.65" fill="#111"/>
<circle cx="109.0" cy="465.9" r="0.65" fill="#111"/>
<circle cx="91.8" cy="448.8" r="0.65" fill="#111"/>
<circle cx="97.8" cy="462.6" r="0.65" fill="#111"/>
<circle cx="109.1" cy="469.2" r="0.65" fill="#111"/>
<circle cx="99.7" cy="470.2" r="0.65" fill="#111"/>
<circle cx="101.7" cy="448.7" r="0.65" fill="#111"/>
<circle cx="103.5" cy="463.5" r="0.65" fill="#111"/>
<circle cx="98.1" cy="440.1" r="0.65" fill="#111"/>
<circle cx="88.2" cy="452.0" r="0.65" fill="#111"/>
<circle cx="86.5" cy="449.1" r="0.65" fill="#111"/>
<circle cx="100.1" cy="455.9" r="0.65" fill="#111"/>
<circle cx="105.9" cy="466.5" r="0.65" fill="#111"/>
<circle cx="82.9" cy="460.5" r="0.65" fill="#111"/>
<circle cx="76.2" cy="467.3" r="0.65" fill="#111"/>
<circle cx="94.1" cy="468.0" r="0.65" fill="#111"/>
<circle cx="89.6" cy="467.5" r="0.65" fill="#111"/>
<circle cx="97.3" cy="463.9" r="0.65" fill="#111"/>
<circle cx="108.4" cy="467.7" r="0.65" fill="#111"/>
<circle cx="105.0" cy="468.8" r="0.65" fill="#111"/>
<circle cx="106.3" cy="458.5" r="0.65" fill="#111"/>
<circle cx="89.2" cy="450.8" r="0.65" fill="#111"/>
<circle cx="106.1" cy="456.8" r="0.65" fill="#111"/>
<circle cx="105.5" cy="466.1" r="0.65" fill="#111"/>
<circle cx="91.1" cy="467.6" r="0.65" fill="#111"/>
<circle cx="103.9" cy="464.0" r="0.65" fill="#111"/>
<circle cx="95.0" cy="466.8" r="0.65" fill="#111"/>
<circle cx="87.8" cy="448.0" r="0.65" fill="#111"/>
<circle cx="98.9" cy="466.8" r="0.65" fill="#111"/>
<circle cx="85.8" cy="461.5" r="0.65" fill="#111"/>
<circle cx="106.2" cy="467.2" r="0.65" fill="#111"/>
<circle cx="105.7" cy="454.1" r="0.65" fill="#111"/>
<circle cx="92.1" cy="462.3" r="0.65" fill="#111"/>
<circle cx="104.8" cy="450.4" r="0.65" fill="#111"/>
<circle cx="92.5" cy="460.2" r="0.65" fill="#111"/>
<circle cx="106.1" cy="459.8" r="0.65" fill="#111"/>
<circle cx="103.4" cy="463.0" r="0.65" fill="#111"/>
<circle cx="107.4" cy="446.0" r="0.65" fill="#111"/>
<circle cx="98.2" cy="455.3" r="0.65" fill="#111"/>
<circle cx="108.1" cy="470.3" r="0.65" fill="#111"/>
<circle cx="100.2" cy="458.0" r="0.65" fill="#111"/>
<circle cx="77.9" cy="464.9" r="0.65" fill="#111"/>
<circle cx="98.6" cy="468.6" r="0.65" fill="#111"/>
<circle cx="105.7" cy="455.3" r="0.65" fill="#111"/>
<circle cx="91.7" cy="458.9" r="0.65" fill="#111"/>
<circle cx="85.6" cy="455.4" r="0.65" fill="#111"/>
<circle cx="97.8" cy="453.5" r="0.65" fill="#111"/>
<circle cx="97.4" cy="460.8" r="0.65" fill="#111"/>
<circle cx="108.5" cy="448.9" r="0.65" fill="#111"/>
<circle cx="108.4" cy="455.6" r="0.65" fill="#111"/>
<circle cx="92.0" cy="470.3" r="0.65" fill="#111"/>
<circle cx="94.9" cy="451.8" r="0.65" fill="#111"/>
<circle cx="88.5" cy="461.1" r="0.65" fill="#111"/>
<circle cx="100.3" cy="452.8" r="0.65" fill="#111"/>
<circle cx="106.0" cy="448.6" r="0.65" fill="#111"/>
<circle cx="79.0" cy="459.5" r="0.65" fill="#111"/>
<circle cx="98.5" cy="461.4" r="0.65" fill="#111"/>
<circle cx="96.8" cy="468.8" r="0.65" fill="#111"/>
<circle cx="109.9" cy="469.6" r="0.65" fill="#111"/>
<circle cx="106.7" cy="452.9" r="0.65" fill="#111"/>
<circle cx="103.2" cy="467.0" r="0.65" fill="#111"/>
<circle cx="100.5" cy="452.8" r="0.65" fill="#111"/>
<circle cx="75.6" cy="463.0" r="0.65" fill="#111"/>
<circle cx="100.7" cy="466.8" r="0.65" fill="#111"/>
<circle cx="79.3" cy="466.2" r="0.65" fill="#111"/>
<circle cx="104.6" cy="461.8" r="0.65" fill="#111"/>
<circle cx="89.9" cy="446.2" r="0.65" fill="#111"/>
<circle cx="85.9" cy="458.7" r="0.65" fill="#111"/>
<circle cx="99.9" cy="462.6" r="0.65" fill="#111"/>
<circle cx="90.6" cy="442.7" r="0.65" fill="#111"/>
<circle cx="95.9" cy="458.7" r="0.65" fill="#111"/>
<circle cx="99.7" cy="466.6" r="0.65" fill="#111"/>
<circle cx="102.6" cy="462.1" r="0.65" fill="#111"/>
<circle cx="102.0" cy="460.7" r="0.65" fill="#111"/>
<circle cx="92.7" cy="469.0" r="0.65" fill="#111"/>
<circle cx="98.1" cy="458.9" r="0.65" fill="#111"/>
<circle cx="78.0" cy="459.6" r="0.65" fill="#111"/>
<circle cx="95.6" cy="453.4" r="0.65" fill="#111"/>
<circle cx="95.8" cy="469.8" r="0.65" fill="#111"/>
<circle cx="86.8" cy="461.3" r="0.65" fill="#111"/>
<circle cx="85.3" cy="465.0" r="0.65" fill="#111"/>
<circle cx="95.4" cy="467.8" r="0.65" fill="#111"/>
<circle cx="108.7" cy="470.4" r="0.65" fill="#111"/>
<circle cx="88.6" cy="444.6" r="0.65" fill="#111"/>
<circle cx="106.2" cy="469.6" r="0.65" fill="#111"/>
<circle cx="105.8" cy="467.2" r="0.65" fill="#111"/>
<circle cx="104.6" cy="452.4" r="0.65" fill="#111"/>
<circle cx="99.5" cy="469.2" r="0.65" fill="#111"/>
<circle cx="100.8" cy="455.8" r="0.65" fill="#111"/>
<circle cx="101.3" cy="461.0" r="0.65" fill="#111"/>
<circle cx="87.7" cy="455.7" r="0.65" fill="#111"/>
<circle cx="102.2" cy="458.4" r="0.65" fill="#111"/>
<circle cx="92.0" cy="460.0" r="0.65" fill="#111"/>
<circle cx="111.2" cy="465.6" r="0.65" fill="#111"/>
<circle cx="85.3" cy="459.0" r="0.65" fill="#111"/>
<circle cx="109.1" cy="461.1" r="0.65" fill="#111"/>
<circle cx="92.9" cy="463.5" r="0.65" fill="#111"/>
<circle cx="102.7" cy="459.1" r="0.65" fill="#111"/>
<circle cx="110.2" cy="458.4" r="0.65" fill="#111"/>
<circle cx="94.1" cy="452.6" r="0.65" fill="#111"/>
<circle cx="98.7" cy="467.6" r="0.65" fill="#111"/>
<circle cx="103.9" cy="457.9" r="0.65" fill="#111"/>
<circle cx="80.7" cy="468.9" r="0.65" fill="#111"/>
<circle cx="91.3" cy="462.8" r="0.65" fill="#111"/>
<circle cx="108.8" cy="454.9" r="0.65" fill="#111"/>
<circle cx="91.4" cy="452.5" r="0.65" fill="#111"/>
<path d="M130.5,470.2 L133.5,467.5 L134.3,460 L135.3,459 L135.6,467.2 L139.5,469.6 Z" fill="#5b8d96"/>
<line x1="134.80" y1="462.00" x2="131.50" y2="460.50" stroke="#5b8d96" stroke-width="0.5"/>
<line x1="135.00" y1="463.50" x2="138.50" y2="461.80" stroke="#5b8d96" stroke-width="0.5"/>
<line x1="134.60" y1="465.00" x2="132.00" y2="466.00" stroke="#5b8d96" stroke-width="0.5"/>
<line x1="135.20" y1="466.00" x2="138.00" y2="465.50" stroke="#5b8d96" stroke-width="0.5"/>
<line x1="135.00" y1="461.00" x2="136.50" y2="458.80" stroke="#5b8d96" stroke-width="0.5"/>
<line x1="134.70" y1="464.00" x2="131.00" y2="463.50" stroke="#5b8d96" stroke-width="0.5"/>
<circle cx="162.3" cy="340.8" r="0.75" fill="#6e9aa1"/>
<circle cx="176.7" cy="340.8" r="0.75" fill="#6e9aa1"/>
<circle cx="150.9" cy="386.5" r="0.75" fill="#6e9aa1"/>
<circle cx="145" cy="421.8" r="0.75" fill="#6e9aa1"/>
<circle cx="162" cy="425.7" r="0.75" fill="#6e9aa1"/>
<circle cx="183.9" cy="458.7" r="0.75" fill="#6e9aa1"/>
<circle cx="150" cy="432" r="0.75" fill="#6e9aa1"/>
<circle cx="134" cy="443" r="0.75" fill="#6e9aa1"/>
<circle cx="142" cy="452" r="0.75" fill="#6e9aa1"/>
<circle cx="138" cy="457" r="0.75" fill="#6e9aa1"/>
<circle cx="144" cy="462" r="0.75" fill="#6e9aa1"/>
<circle cx="135" cy="462" r="0.75" fill="#6e9aa1"/>
<circle cx="137" cy="465" r="0.75" fill="#6e9aa1"/>
<line x1="85.00" y1="345.30" x2="83.00" y2="348.00" stroke="#222" stroke-width="0.4"/>
<line x1="84.20" y1="400.70" x2="89.00" y2="410.00" stroke="#222" stroke-width="0.4"/>
<line x1="97.50" y1="400.20" x2="92.00" y2="408.00" stroke="#222" stroke-width="0.4"/>
<line x1="75.70" y1="423.70" x2="93.80" y2="423.70" stroke="#222" stroke-width="0.4"/>
<line x1="79.20" y1="406.80" x2="87.00" y2="410.00" stroke="#222" stroke-width="0.4"/>
<line x1="88.50" y1="415.20" x2="92.00" y2="413.00" stroke="#222" stroke-width="0.4"/>
<line x1="97.00" y1="415.00" x2="93.00" y2="416.00" stroke="#222" stroke-width="0.4"/>
<line x1="109.00" y1="423.00" x2="96.00" y2="424.00" stroke="#222" stroke-width="0.4"/>
<line x1="73.00" y1="432.00" x2="78.00" y2="428.00" stroke="#222" stroke-width="0.4"/>
<line x1="77.00" y1="441.00" x2="80.00" y2="437.00" stroke="#222" stroke-width="0.4"/>
<line x1="113.60" y1="449.50" x2="100.00" y2="452.00" stroke="#222" stroke-width="0.4"/>
<line x1="81.50" y1="459.00" x2="86.00" y2="460.00" stroke="#222" stroke-width="0.4"/>
<line x1="110.00" y1="463.00" x2="104.00" y2="462.00" stroke="#222" stroke-width="0.4"/>
<line x1="137.50" y1="441.00" x2="144.00" y2="444.30" stroke="#7da3a8" stroke-width="0.4"/>
<line x1="150.00" y1="449.70" x2="144.00" y2="455.00" stroke="#7da3a8" stroke-width="0.4"/>
<line x1="156.60" y1="455.60" x2="141.00" y2="460.00" stroke="#7da3a8" stroke-width="0.4"/>
<line x1="156.60" y1="465.00" x2="135.00" y2="465.00" stroke="#7da3a8" stroke-width="0.4"/>
<line x1="146.00" y1="468.00" x2="137.00" y2="466.00" stroke="#7da3a8" stroke-width="0.4"/>
<line x1="150.00" y1="439.00" x2="148.00" y2="443.00" stroke="#7da3a8" stroke-width="0.4"/>
<line x1="160.00" y1="476.20" x2="140.00" y2="470.00" stroke="#7da3a8" stroke-width="0.4"/>
<line x1="130.00" y1="476.70" x2="134.00" y2="471.00" stroke="#7da3a8" stroke-width="0.4"/>
<rect x="73.4" y="348.0" width="14.1" height="5.3" rx="1.0" fill="#fff" stroke="#7a7a7a" stroke-width="0.5"/>
<text x="80.5" y="352.2" font-size="5.4" text-anchor="middle" fill="#1e1e1e" stroke="#1e1e1e" stroke-width="0.12" textLength="11.5" lengthAdjust="spacingAndGlyphs">Cd74</text>
<rect x="76.2" y="377.2" width="16.8" height="5.0" rx="1.0" fill="#fff" stroke="#7a7a7a" stroke-width="0.5"/>
<text x="84.6" y="381.1" font-size="5.4" text-anchor="middle" fill="#1e1e1e" stroke="#1e1e1e" stroke-width="0.12" textLength="14.2" lengthAdjust="spacingAndGlyphs">H2-Aa</text>
<rect x="73.4" y="395.3" width="10.8" height="5.4" rx="1.0" fill="#fff" stroke="#7a7a7a" stroke-width="0.5"/>
<text x="78.8" y="399.6" font-size="5.4" text-anchor="middle" fill="#1e1e1e" stroke="#1e1e1e" stroke-width="0.12" textLength="8.2" lengthAdjust="spacingAndGlyphs">Ciita</text>
<rect x="87.5" y="394.8" width="20.0" height="5.4" rx="1.0" fill="#fff" stroke="#7a7a7a" stroke-width="0.5"/>
<text x="97.5" y="399.1" font-size="5.4" text-anchor="middle" fill="#1e1e1e" stroke="#1e1e1e" stroke-width="0.12" textLength="17.4" lengthAdjust="spacingAndGlyphs">H2-Eb1</text>
<rect x="62.6" y="404.2" width="16.6" height="5.3" rx="1.0" fill="#fff" stroke="#7a7a7a" stroke-width="0.5"/>
<text x="70.9" y="408.4" font-size="5.4" text-anchor="middle" fill="#1e1e1e" stroke="#1e1e1e" stroke-width="0.12" textLength="14.0" lengthAdjust="spacingAndGlyphs">L1cam</text>
<rect x="93.4" y="404.2" width="13.1" height="5.3" rx="1.0" fill="#fff" stroke="#7a7a7a" stroke-width="0.5"/>
<text x="100.0" y="408.4" font-size="5.4" text-anchor="middle" fill="#1e1e1e" stroke="#1e1e1e" stroke-width="0.12" textLength="10.5" lengthAdjust="spacingAndGlyphs">Ifi205</text>
<rect x="71.5" y="412.5" width="17.0" height="5.5" rx="1.0" fill="#fff" stroke="#7a7a7a" stroke-width="0.5"/>
<text x="80.0" y="416.9" font-size="5.4" text-anchor="middle" fill="#1e1e1e" stroke="#1e1e1e" stroke-width="0.12" textLength="14.4" lengthAdjust="spacingAndGlyphs">Ifi27l2a</text>
<rect x="97.0" y="412.5" width="9.6" height="5.5" rx="1.0" fill="#fff" stroke="#7a7a7a" stroke-width="0.5"/>
<text x="101.8" y="416.9" font-size="5.4" text-anchor="middle" fill="#1e1e1e" stroke="#1e1e1e" stroke-width="0.12" textLength="7.0" lengthAdjust="spacingAndGlyphs">Aif1</text>
<rect x="63.4" y="421.0" width="12.3" height="5.4" rx="1.0" fill="#fff" stroke="#7a7a7a" stroke-width="0.5"/>
<text x="69.5" y="425.3" font-size="5.4" text-anchor="middle" fill="#1e1e1e" stroke="#1e1e1e" stroke-width="0.12" textLength="9.7" lengthAdjust="spacingAndGlyphs">Itgax</text>
<rect x="93.8" y="421.0" width="15.2" height="5.4" rx="1.0" fill="#fff" stroke="#7a7a7a" stroke-width="0.5"/>
<text x="101.4" y="425.3" font-size="5.4" text-anchor="middle" fill="#1e1e1e" stroke="#1e1e1e" stroke-width="0.12" textLength="12.6" lengthAdjust="spacingAndGlyphs">Anpep</text>
<rect x="66.5" y="429.5" width="8.5" height="5.0" rx="1.0" fill="#fff" stroke="#7a7a7a" stroke-width="0.5"/>
<text x="70.8" y="433.4" font-size="5.4" text-anchor="middle" fill="#1e1e1e" stroke="#1e1e1e" stroke-width="0.12" textLength="5.9" lengthAdjust="spacingAndGlyphs">Irf4</text>
<rect x="78.8" y="428.8" width="12.2" height="5.0" rx="1.0" fill="#fff" stroke="#7a7a7a" stroke-width="0.5"/>
<text x="84.9" y="432.8" font-size="5.4" text-anchor="middle" fill="#1e1e1e" stroke="#1e1e1e" stroke-width="0.12" textLength="9.6" lengthAdjust="spacingAndGlyphs">Igsf9</text>
<rect x="101.8" y="430.0" width="11.6" height="4.8" rx="1.0" fill="#fff" stroke="#7a7a7a" stroke-width="0.5"/>
<text x="107.6" y="433.8" font-size="5.4" text-anchor="middle" fill="#1e1e1e" stroke="#1e1e1e" stroke-width="0.12" textLength="9.0" lengthAdjust="spacingAndGlyphs">Bcl6</text>
<rect x="67.0" y="438.0" width="10.2" height="5.3" rx="1.0" fill="#fff" stroke="#7a7a7a" stroke-width="0.5"/>
<text x="72.1" y="442.2" font-size="5.4" text-anchor="middle" fill="#1e1e1e" stroke="#1e1e1e" stroke-width="0.12" textLength="7.6" lengthAdjust="spacingAndGlyphs">Ifi44</text>
<rect x="83.0" y="440.7" width="8.8" height="5.1" rx="1.0" fill="#fff" stroke="#7a7a7a" stroke-width="0.5"/>
<text x="87.4" y="444.8" font-size="5.4" text-anchor="middle" fill="#1e1e1e" stroke="#1e1e1e" stroke-width="0.12" textLength="6.2" lengthAdjust="spacingAndGlyphs">Irf7</text>
<rect x="99.8" y="440.7" width="10.2" height="5.1" rx="1.0" fill="#fff" stroke="#7a7a7a" stroke-width="0.5"/>
<text x="104.9" y="444.8" font-size="5.4" text-anchor="middle" fill="#1e1e1e" stroke="#1e1e1e" stroke-width="0.12" textLength="7.6" lengthAdjust="spacingAndGlyphs">Egr1</text>
<rect x="87.5" y="449.5" width="12.3" height="5.3" rx="1.0" fill="#fff" stroke="#7a7a7a" stroke-width="0.5"/>
<text x="93.7" y="453.8" font-size="5.4" text-anchor="middle" fill="#1e1e1e" stroke="#1e1e1e" stroke-width="0.12" textLength="9.7" lengthAdjust="spacingAndGlyphs">Cd86</text>
<rect x="113.6" y="446.8" width="24.2" height="5.4" rx="1.0" fill="#fff" stroke="#7a7a7a" stroke-width="0.5"/>
<text x="125.7" y="451.1" font-size="5.4" text-anchor="middle" fill="#1e1e1e" stroke="#1e1e1e" stroke-width="0.12" textLength="21.6" lengthAdjust="spacingAndGlyphs">H2-DMb1</text>
<rect x="70.0" y="456.4" width="11.5" height="5.1" rx="1.0" fill="#fff" stroke="#7a7a7a" stroke-width="0.5"/>
<text x="75.8" y="460.4" font-size="5.4" text-anchor="middle" fill="#1e1e1e" stroke="#1e1e1e" stroke-width="0.12" textLength="8.9" lengthAdjust="spacingAndGlyphs">Itgae</text>
<rect x="103.8" y="455.3" width="9.2" height="4.9" rx="1.0" fill="#fff" stroke="#7a7a7a" stroke-width="0.5"/>
<text x="108.4" y="459.1" font-size="5.4" text-anchor="middle" fill="#1e1e1e" stroke="#1e1e1e" stroke-width="0.12" textLength="6.6" lengthAdjust="spacingAndGlyphs">Irf9</text>
<rect x="86.5" y="461.5" width="12.0" height="5.3" rx="1.0" fill="#fff" stroke="#7a7a7a" stroke-width="0.5"/>
<text x="92.5" y="465.8" font-size="5.4" text-anchor="middle" fill="#1e1e1e" stroke="#1e1e1e" stroke-width="0.12" textLength="9.4" lengthAdjust="spacingAndGlyphs">Cd40</text>
<rect x="110.3" y="461.5" width="6.0" height="5.3" rx="1.0" fill="#fff" stroke="#7a7a7a" stroke-width="0.5"/>
<text x="113.3" y="465.8" font-size="5.4" text-anchor="middle" fill="#1e1e1e" stroke="#1e1e1e" stroke-width="0.12" textLength="3.4" lengthAdjust="spacingAndGlyphs">Ifi2</text>
<rect x="83.0" y="471.2" width="12.2" height="5.3" rx="1.0" fill="#fff" stroke="#7a7a7a" stroke-width="0.5"/>
<text x="89.1" y="475.4" font-size="5.4" text-anchor="middle" fill="#1e1e1e" stroke="#1e1e1e" stroke-width="0.12" textLength="9.6" lengthAdjust="spacingAndGlyphs">Itga3</text>
<rect x="98.8" y="471.2" width="7.7" height="5.3" rx="1.0" fill="#fff" stroke="#7a7a7a" stroke-width="0.5"/>
<text x="102.7" y="475.4" font-size="5.4" text-anchor="middle" fill="#1e1e1e" stroke="#1e1e1e" stroke-width="0.12" textLength="5.1" lengthAdjust="spacingAndGlyphs">Irf5</text>
<rect x="111.0" y="471.2" width="8.3" height="5.3" rx="1.0" fill="#fff" stroke="#7a7a7a" stroke-width="0.5"/>
<text x="115.2" y="475.4" font-size="5.4" text-anchor="middle" fill="#1e1e1e" stroke="#1e1e1e" stroke-width="0.12" textLength="5.7" lengthAdjust="spacingAndGlyphs">Irf2</text>
<rect x="148.7" y="342.8" width="18.8" height="5.4" rx="1.0" fill="#fff" stroke="#a6c3c6" stroke-width="0.5"/>
<text x="158.1" y="347.1" font-size="5.4" text-anchor="middle" fill="#7fa5aa" stroke="#7fa5aa" stroke-width="0.12" textLength="16.2" lengthAdjust="spacingAndGlyphs">Igf2bp3</text>
<rect x="140.2" y="388.0" width="12.3" height="5.5" rx="1.0" fill="#fff" stroke="#a6c3c6" stroke-width="0.5"/>
<text x="146.3" y="392.4" font-size="5.4" text-anchor="middle" fill="#7fa5aa" stroke="#7fa5aa" stroke-width="0.12" textLength="9.7" lengthAdjust="spacingAndGlyphs">Rpl3</text>
<rect x="132.6" y="423.0" width="16.6" height="5.8" rx="1.0" fill="#fff" stroke="#a6c3c6" stroke-width="0.5"/>
<text x="140.9" y="427.8" font-size="5.4" text-anchor="middle" fill="#7fa5aa" stroke="#7fa5aa" stroke-width="0.12" textLength="14.0" lengthAdjust="spacingAndGlyphs">Chchd3</text>
<rect x="146.3" y="433.7" width="11.1" height="5.4" rx="1.0" fill="#fff" stroke="#a6c3c6" stroke-width="0.5"/>
<text x="151.9" y="438.1" font-size="5.4" text-anchor="middle" fill="#7fa5aa" stroke="#7fa5aa" stroke-width="0.12" textLength="8.5" lengthAdjust="spacingAndGlyphs">Tfpi</text>
<rect x="118.5" y="435.8" width="19.0" height="5.6" rx="1.0" fill="#fff" stroke="#a6c3c6" stroke-width="0.5"/>
<text x="128.0" y="440.3" font-size="5.4" text-anchor="middle" fill="#7fa5aa" stroke="#7fa5aa" stroke-width="0.12" textLength="16.4" lengthAdjust="spacingAndGlyphs">S100a8</text>
<rect x="140.2" y="444.3" width="21.3" height="5.4" rx="1.0" fill="#fff" stroke="#a6c3c6" stroke-width="0.5"/>
<text x="150.8" y="448.6" font-size="5.4" text-anchor="middle" fill="#7fa5aa" stroke="#7fa5aa" stroke-width="0.12" textLength="18.7" lengthAdjust="spacingAndGlyphs">Apobec3</text>
<rect x="156.6" y="452.8" width="16.4" height="5.7" rx="1.0" fill="#fff" stroke="#a6c3c6" stroke-width="0.5"/>
<text x="164.8" y="457.4" font-size="5.4" text-anchor="middle" fill="#7fa5aa" stroke="#7fa5aa" stroke-width="0.12" textLength="13.8" lengthAdjust="spacingAndGlyphs">Cenpv</text>
<rect x="136.2" y="454.6" width="17.9" height="5.3" rx="1.0" fill="#fff" stroke="#a6c3c6" stroke-width="0.5"/>
<text x="145.1" y="458.8" font-size="5.4" text-anchor="middle" fill="#7fa5aa" stroke="#7fa5aa" stroke-width="0.12" textLength="15.3" lengthAdjust="spacingAndGlyphs">Ndufb2</text>
<rect x="156.6" y="462.3" width="15.5" height="5.4" rx="1.0" fill="#fff" stroke="#a6c3c6" stroke-width="0.5"/>
<text x="164.3" y="466.6" font-size="5.4" text-anchor="middle" fill="#7fa5aa" stroke="#7fa5aa" stroke-width="0.12" textLength="12.9" lengthAdjust="spacingAndGlyphs">Retsat</text>
<rect x="116.5" y="462.3" width="16.4" height="5.7" rx="1.0" fill="#fff" stroke="#a6c3c6" stroke-width="0.5"/>
<text x="124.7" y="466.9" font-size="5.4" text-anchor="middle" fill="#7fa5aa" stroke="#7fa5aa" stroke-width="0.12" textLength="13.8" lengthAdjust="spacingAndGlyphs">Sucla1</text>
<rect x="140.0" y="468.0" width="13.3" height="5.4" rx="1.0" fill="#fff" stroke="#a6c3c6" stroke-width="0.5"/>
<text x="146.7" y="472.3" font-size="5.4" text-anchor="middle" fill="#7fa5aa" stroke="#7fa5aa" stroke-width="0.12" textLength="10.7" lengthAdjust="spacingAndGlyphs">Pdk3</text>
<rect x="122.7" y="476.7" width="16.7" height="5.3" rx="1.0" fill="#fff" stroke="#a6c3c6" stroke-width="0.5"/>
<text x="131.1" y="480.9" font-size="5.4" text-anchor="middle" fill="#7fa5aa" stroke="#7fa5aa" stroke-width="0.12" textLength="14.1" lengthAdjust="spacingAndGlyphs">Cenpw</text>
<rect x="155.8" y="476.2" width="19.6" height="5.8" rx="1.0" fill="#fff" stroke="#a6c3c6" stroke-width="0.5"/>
<text x="165.6" y="480.9" font-size="5.4" text-anchor="middle" fill="#7fa5aa" stroke="#7fa5aa" stroke-width="0.12" textLength="17.0" lengthAdjust="spacingAndGlyphs">Slc25a5</text>
<rect x="38.9" y="334.6" width="151.9" height="148.0" fill="none" stroke="#231f20" stroke-width="1.45"/>
<line x1="35.60" y1="477.00" x2="38.50" y2="477.00" stroke="#231f20" stroke-width="0.8"/>
<text transform="translate(32.80,479.50)" font-size="7.0" text-anchor="end" fill="#333" stroke="#333" stroke-width="0.1">0</text>
<line x1="35.60" y1="443.10" x2="38.50" y2="443.10" stroke="#231f20" stroke-width="0.8"/>
<text transform="translate(32.80,445.60)" font-size="7.0" text-anchor="end" fill="#333" stroke="#333" stroke-width="0.1">5</text>
<line x1="35.60" y1="409.20" x2="38.50" y2="409.20" stroke="#231f20" stroke-width="0.8"/>
<text transform="translate(32.80,411.70)" font-size="7.0" text-anchor="end" fill="#333" stroke="#333" stroke-width="0.1">10</text>
<line x1="35.60" y1="375.30" x2="38.50" y2="375.30" stroke="#231f20" stroke-width="0.8"/>
<text transform="translate(32.80,377.80)" font-size="7.0" text-anchor="end" fill="#333" stroke="#333" stroke-width="0.1">15</text>
<line x1="35.60" y1="341.40" x2="38.50" y2="341.40" stroke="#231f20" stroke-width="0.8"/>
<text transform="translate(32.80,343.90)" font-size="7.0" text-anchor="end" fill="#333" stroke="#333" stroke-width="0.1">20</text>
<line x1="76.70" y1="482.60" x2="76.70" y2="485.40" stroke="#231f20" stroke-width="0.8"/>
<text transform="translate(76.70,495.20) scale(0.86,1)" font-size="6.8" text-anchor="middle" fill="#333" stroke="#333" stroke-width="0.1">−5</text>
<line x1="120.90" y1="482.60" x2="120.90" y2="485.40" stroke="#231f20" stroke-width="0.8"/>
<text transform="translate(120.90,495.20) scale(0.86,1)" font-size="6.8" text-anchor="middle" fill="#333" stroke="#333" stroke-width="0.1">0</text>
<line x1="165.10" y1="482.60" x2="165.10" y2="485.40" stroke="#231f20" stroke-width="0.8"/>
<text transform="translate(165.10,495.20) scale(0.86,1)" font-size="6.8" text-anchor="middle" fill="#333" stroke="#333" stroke-width="0.1">5</text>
<text transform="translate(114.60,508.90)" font-size="9.2" text-anchor="middle" fill="#231f20" stroke="#231f20" stroke-width="0.1" textLength="65.60" lengthAdjust="spacingAndGlyphs">Log2 fold change</text>
<text transform="translate(114.70,520.50)" font-size="9.2" text-anchor="middle" fill="#231f20" stroke="#231f20" stroke-width="0.1" textLength="91.60" lengthAdjust="spacingAndGlyphs">FLT3–ITD WT1 vs control</text>
<text transform="translate(16.10,408.55) rotate(-90)" font-size="9.0" text-anchor="middle" fill="#231f20" stroke="#231f20" stroke-width="0.1" textLength="96.90" lengthAdjust="spacingAndGlyphs">Significance (−log10(FDR))</text>
<rect x="277.40" y="334.2" width="29.90" height="7.7" fill="#141414" stroke="#dedede" stroke-width="1.1"/>
<rect x="307.30" y="334.2" width="29.90" height="7.7" fill="#141414" stroke="#dedede" stroke-width="1.1"/>
<rect x="337.20" y="334.2" width="29.90" height="7.7" fill="#4a76bf" stroke="#dedede" stroke-width="1.1"/>
<rect x="367.10" y="334.2" width="29.90" height="7.7" fill="#4a76bf" stroke="#dedede" stroke-width="1.1"/>
<rect x="277.40" y="343.90" width="29.90" height="10.52" fill="#eef3ee" stroke="#e2e2e2" stroke-width="1.1"/>
<rect x="307.30" y="343.90" width="29.90" height="10.52" fill="#7b98cc" stroke="#e2e2e2" stroke-width="1.1"/>
<rect x="337.20" y="343.90" width="29.90" height="10.52" fill="#ecbd78" stroke="#e2e2e2" stroke-width="1.1"/>
<rect x="367.10" y="343.90" width="29.90" height="10.52" fill="#e39a62" stroke="#e2e2e2" stroke-width="1.1"/>
<rect x="277.40" y="354.42" width="29.90" height="10.52" fill="#f2f5ea" stroke="#e2e2e2" stroke-width="1.1"/>
<rect x="307.30" y="354.42" width="29.90" height="10.52" fill="#7090c8" stroke="#e2e2e2" stroke-width="1.1"/>
<rect x="337.20" y="354.42" width="29.90" height="10.52" fill="#e6aa6c" stroke="#e2e2e2" stroke-width="1.1"/>
<rect x="367.10" y="354.42" width="29.90" height="10.52" fill="#e6aa6c" stroke="#e2e2e2" stroke-width="1.1"/>
<rect x="277.40" y="364.95" width="29.90" height="10.52" fill="#b8cde8" stroke="#e2e2e2" stroke-width="1.1"/>
<rect x="307.30" y="364.95" width="29.90" height="10.52" fill="#bccfe6" stroke="#e2e2e2" stroke-width="1.1"/>
<rect x="337.20" y="364.95" width="29.90" height="10.52" fill="#eec07a" stroke="#e2e2e2" stroke-width="1.1"/>
<rect x="367.10" y="364.95" width="29.90" height="10.52" fill="#d96e48" stroke="#e2e2e2" stroke-width="1.1"/>
<rect x="277.40" y="375.47" width="29.90" height="10.52" fill="#c8d9ee" stroke="#e2e2e2" stroke-width="1.1"/>
<rect x="307.30" y="375.47" width="29.90" height="10.52" fill="#b0c6e2" stroke="#e2e2e2" stroke-width="1.1"/>
<rect x="337.20" y="375.47" width="29.90" height="10.52" fill="#f7e49a" stroke="#e2e2e2" stroke-width="1.1"/>
<rect x="367.10" y="375.47" width="29.90" height="10.52" fill="#cc5535" stroke="#e2e2e2" stroke-width="1.1"/>
<rect x="277.40" y="386.00" width="29.90" height="10.52" fill="#d4e3f2" stroke="#e2e2e2" stroke-width="1.1"/>
<rect x="307.30" y="386.00" width="29.90" height="10.52" fill="#a2bcde" stroke="#e2e2e2" stroke-width="1.1"/>
<rect x="337.20" y="386.00" width="29.90" height="10.52" fill="#f5d890" stroke="#e2e2e2" stroke-width="1.1"/>
<rect x="367.10" y="386.00" width="29.90" height="10.52" fill="#d6623e" stroke="#e2e2e2" stroke-width="1.1"/>
<rect x="277.40" y="396.52" width="29.90" height="10.52" fill="#dfeaf6" stroke="#e2e2e2" stroke-width="1.1"/>
<rect x="307.30" y="396.52" width="29.90" height="10.52" fill="#98b4dc" stroke="#e2e2e2" stroke-width="1.1"/>
<rect x="337.20" y="396.52" width="29.90" height="10.52" fill="#f7e096" stroke="#e2e2e2" stroke-width="1.1"/>
<rect x="367.10" y="396.52" width="29.90" height="10.52" fill="#d4603c" stroke="#e2e2e2" stroke-width="1.1"/>
<rect x="277.40" y="407.04" width="29.90" height="10.52" fill="#8eaad6" stroke="#e2e2e2" stroke-width="1.1"/>
<rect x="307.30" y="407.04" width="29.90" height="10.52" fill="#eef4fb" stroke="#e2e2e2" stroke-width="1.1"/>
<rect x="337.20" y="407.04" width="29.90" height="10.52" fill="#f7e096" stroke="#e2e2e2" stroke-width="1.1"/>
<rect x="367.10" y="407.04" width="29.90" height="10.52" fill="#d96a44" stroke="#e2e2e2" stroke-width="1.1"/>
<rect x="277.40" y="417.57" width="29.90" height="10.52" fill="#b8cce8" stroke="#e2e2e2" stroke-width="1.1"/>
<rect x="307.30" y="417.57" width="29.90" height="10.52" fill="#c0d3ea" stroke="#e2e2e2" stroke-width="1.1"/>
<rect x="337.20" y="417.57" width="29.90" height="10.52" fill="#d97048" stroke="#e2e2e2" stroke-width="1.1"/>
<rect x="367.10" y="417.57" width="29.90" height="10.52" fill="#f4d590" stroke="#e2e2e2" stroke-width="1.1"/>
<rect x="277.40" y="428.09" width="29.90" height="10.52" fill="#faf2c4" stroke="#e2e2e2" stroke-width="1.1"/>
<rect x="307.30" y="428.09" width="29.90" height="10.52" fill="#b82a22" stroke="#e2e2e2" stroke-width="1.1"/>
<rect x="337.20" y="428.09" width="29.90" height="10.52" fill="#dce8f5" stroke="#e2e2e2" stroke-width="1.1"/>
<rect x="367.10" y="428.09" width="29.90" height="10.52" fill="#bcd0ea" stroke="#e2e2e2" stroke-width="1.1"/>
<rect x="277.40" y="438.62" width="29.90" height="10.52" fill="#faf4c8" stroke="#e2e2e2" stroke-width="1.1"/>
<rect x="307.30" y="438.62" width="29.90" height="10.52" fill="#bc3228" stroke="#e2e2e2" stroke-width="1.1"/>
<rect x="337.20" y="438.62" width="29.90" height="10.52" fill="#d8e5f3" stroke="#e2e2e2" stroke-width="1.1"/>
<rect x="367.10" y="438.62" width="29.90" height="10.52" fill="#c2d5ec" stroke="#e2e2e2" stroke-width="1.1"/>
<rect x="277.40" y="449.14" width="29.90" height="10.52" fill="#faf4cc" stroke="#e2e2e2" stroke-width="1.1"/>
<rect x="307.30" y="449.14" width="29.90" height="10.52" fill="#bc3228" stroke="#e2e2e2" stroke-width="1.1"/>
<rect x="337.20" y="449.14" width="29.90" height="10.52" fill="#dce8f5" stroke="#e2e2e2" stroke-width="1.1"/>
<rect x="367.10" y="449.14" width="29.90" height="10.52" fill="#c8d9ee" stroke="#e2e2e2" stroke-width="1.1"/>
<rect x="277.40" y="459.66" width="29.90" height="10.52" fill="#faf4cc" stroke="#e2e2e2" stroke-width="1.1"/>
<rect x="307.30" y="459.66" width="29.90" height="10.52" fill="#bc3228" stroke="#e2e2e2" stroke-width="1.1"/>
<rect x="337.20" y="459.66" width="29.90" height="10.52" fill="#e8f1fa" stroke="#e2e2e2" stroke-width="1.1"/>
<rect x="367.10" y="459.66" width="29.90" height="10.52" fill="#b6cce8" stroke="#e2e2e2" stroke-width="1.1"/>
<rect x="277.40" y="470.19" width="29.90" height="10.52" fill="#f6f6de" stroke="#e2e2e2" stroke-width="1.1"/>
<rect x="307.30" y="470.19" width="29.90" height="10.52" fill="#ba2a20" stroke="#e2e2e2" stroke-width="1.1"/>
<rect x="337.20" y="470.19" width="29.90" height="10.52" fill="#e2ecf7" stroke="#e2e2e2" stroke-width="1.1"/>
<rect x="367.10" y="470.19" width="29.90" height="10.52" fill="#c8daef" stroke="#e2e2e2" stroke-width="1.1"/>
<rect x="277.40" y="480.71" width="29.90" height="10.52" fill="#f6f6de" stroke="#e2e2e2" stroke-width="1.1"/>
<rect x="307.30" y="480.71" width="29.90" height="10.52" fill="#b8261e" stroke="#e2e2e2" stroke-width="1.1"/>
<rect x="337.20" y="480.71" width="29.90" height="10.52" fill="#e2ecf7" stroke="#e2e2e2" stroke-width="1.1"/>
<rect x="367.10" y="480.71" width="29.90" height="10.52" fill="#d0e0f2" stroke="#e2e2e2" stroke-width="1.1"/>
<rect x="277.40" y="491.24" width="29.90" height="10.52" fill="#f6f6e0" stroke="#e2e2e2" stroke-width="1.1"/>
<rect x="307.30" y="491.24" width="29.90" height="10.52" fill="#b8261e" stroke="#e2e2e2" stroke-width="1.1"/>
<rect x="337.20" y="491.24" width="29.90" height="10.52" fill="#e2ecf7" stroke="#e2e2e2" stroke-width="1.1"/>
<rect x="367.10" y="491.24" width="29.90" height="10.52" fill="#d2e2f3" stroke="#e2e2e2" stroke-width="1.1"/>
<rect x="277.40" y="501.76" width="29.90" height="10.52" fill="#f0f4ec" stroke="#e2e2e2" stroke-width="1.1"/>
<rect x="307.30" y="501.76" width="29.90" height="10.52" fill="#b8261e" stroke="#e2e2e2" stroke-width="1.1"/>
<rect x="337.20" y="501.76" width="29.90" height="10.52" fill="#e2ecf7" stroke="#e2e2e2" stroke-width="1.1"/>
<rect x="367.10" y="501.76" width="29.90" height="10.52" fill="#e0ebf7" stroke="#e2e2e2" stroke-width="1.1"/>
<rect x="277.40" y="512.28" width="29.90" height="10.52" fill="#f4f6e4" stroke="#e2e2e2" stroke-width="1.1"/>
<rect x="307.30" y="512.28" width="29.90" height="10.52" fill="#b8261e" stroke="#e2e2e2" stroke-width="1.1"/>
<rect x="337.20" y="512.28" width="29.90" height="10.52" fill="#dae7f4" stroke="#e2e2e2" stroke-width="1.1"/>
<rect x="367.10" y="512.28" width="29.90" height="10.52" fill="#e0ebf7" stroke="#e2e2e2" stroke-width="1.1"/>
<rect x="277.40" y="522.81" width="29.90" height="10.52" fill="#f4f6e4" stroke="#e2e2e2" stroke-width="1.1"/>
<rect x="307.30" y="522.81" width="29.90" height="10.52" fill="#b8261e" stroke="#e2e2e2" stroke-width="1.1"/>
<rect x="337.20" y="522.81" width="29.90" height="10.52" fill="#d6e4f3" stroke="#e2e2e2" stroke-width="1.1"/>
<rect x="367.10" y="522.81" width="29.90" height="10.52" fill="#e2ecf7" stroke="#e2e2e2" stroke-width="1.1"/>
<rect x="277.40" y="533.33" width="29.90" height="10.52" fill="#cc5535" stroke="#e2e2e2" stroke-width="1.1"/>
<rect x="307.30" y="533.33" width="29.90" height="10.52" fill="#f7e49c" stroke="#e2e2e2" stroke-width="1.1"/>
<rect x="337.20" y="533.33" width="29.90" height="10.52" fill="#c6d8ee" stroke="#e2e2e2" stroke-width="1.1"/>
<rect x="367.10" y="533.33" width="29.90" height="10.52" fill="#b8cde8" stroke="#e2e2e2" stroke-width="1.1"/>
<rect x="277.40" y="543.86" width="29.90" height="10.52" fill="#c8442e" stroke="#e2e2e2" stroke-width="1.1"/>
<rect x="307.30" y="543.86" width="29.90" height="10.52" fill="#f8eeb0" stroke="#e2e2e2" stroke-width="1.1"/>
<rect x="337.20" y="543.86" width="29.90" height="10.52" fill="#c8d9ee" stroke="#e2e2e2" stroke-width="1.1"/>
<rect x="367.10" y="543.86" width="29.90" height="10.52" fill="#b6cbe6" stroke="#e2e2e2" stroke-width="1.1"/>
<rect x="277.40" y="554.38" width="29.90" height="10.52" fill="#c0301f" stroke="#e2e2e2" stroke-width="1.1"/>
<rect x="307.30" y="554.38" width="29.90" height="10.52" fill="#faf2c4" stroke="#e2e2e2" stroke-width="1.1"/>
<rect x="337.20" y="554.38" width="29.90" height="10.52" fill="#dae7f5" stroke="#e2e2e2" stroke-width="1.1"/>
<rect x="367.10" y="554.38" width="29.90" height="10.52" fill="#c2d5ec" stroke="#e2e2e2" stroke-width="1.1"/>
<rect x="277.40" y="564.90" width="29.90" height="10.52" fill="#c43626" stroke="#e2e2e2" stroke-width="1.1"/>
<rect x="307.30" y="564.90" width="29.90" height="10.52" fill="#faf0bc" stroke="#e2e2e2" stroke-width="1.1"/>
<rect x="337.20" y="564.90" width="29.90" height="10.52" fill="#cadbef" stroke="#e2e2e2" stroke-width="1.1"/>
<rect x="367.10" y="564.90" width="29.90" height="10.52" fill="#c2d5ec" stroke="#e2e2e2" stroke-width="1.1"/>
<rect x="277.40" y="575.43" width="29.90" height="10.52" fill="#c43a28" stroke="#e2e2e2" stroke-width="1.1"/>
<rect x="307.30" y="575.43" width="29.90" height="10.52" fill="#faf0b8" stroke="#e2e2e2" stroke-width="1.1"/>
<rect x="337.20" y="575.43" width="29.90" height="10.52" fill="#c6d8ee" stroke="#e2e2e2" stroke-width="1.1"/>
<rect x="367.10" y="575.43" width="29.90" height="10.52" fill="#bed2ea" stroke="#e2e2e2" stroke-width="1.1"/>
<rect x="277.40" y="585.95" width="29.90" height="10.52" fill="#f8e6a0" stroke="#e2e2e2" stroke-width="1.1"/>
<rect x="307.30" y="585.95" width="29.90" height="10.52" fill="#c8442e" stroke="#e2e2e2" stroke-width="1.1"/>
<rect x="337.20" y="585.95" width="29.90" height="10.52" fill="#c8d9ee" stroke="#e2e2e2" stroke-width="1.1"/>
<rect x="367.10" y="585.95" width="29.90" height="10.52" fill="#bcd0ea" stroke="#e2e2e2" stroke-width="1.1"/>
<rect x="277.40" y="596.48" width="29.90" height="10.52" fill="#f8e4a0" stroke="#e2e2e2" stroke-width="1.1"/>
<rect x="307.30" y="596.48" width="29.90" height="10.52" fill="#cf5535" stroke="#e2e2e2" stroke-width="1.1"/>
<rect x="337.20" y="596.48" width="29.90" height="10.52" fill="#c8d9ee" stroke="#e2e2e2" stroke-width="1.1"/>
<rect x="367.10" y="596.48" width="29.90" height="10.52" fill="#b4cae6" stroke="#e2e2e2" stroke-width="1.1"/>
<rect x="277.40" y="607.00" width="29.90" height="10.52" fill="#f8e6a2" stroke="#e2e2e2" stroke-width="1.1"/>
<rect x="307.30" y="607.00" width="29.90" height="10.52" fill="#cf5535" stroke="#e2e2e2" stroke-width="1.1"/>
<rect x="337.20" y="607.00" width="29.90" height="10.52" fill="#b6cbe6" stroke="#e2e2e2" stroke-width="1.1"/>
<rect x="367.10" y="607.00" width="29.90" height="10.52" fill="#c4d6ec" stroke="#e2e2e2" stroke-width="1.1"/>
<rect x="277.40" y="617.52" width="29.90" height="10.52" fill="#eebb74" stroke="#e2e2e2" stroke-width="1.1"/>
<rect x="307.30" y="617.52" width="29.90" height="10.52" fill="#dc7a4c" stroke="#e2e2e2" stroke-width="1.1"/>
<rect x="337.20" y="617.52" width="29.90" height="10.52" fill="#c0d3ea" stroke="#e2e2e2" stroke-width="1.1"/>
<rect x="367.10" y="617.52" width="29.90" height="10.52" fill="#b8cde8" stroke="#e2e2e2" stroke-width="1.1"/>
<rect x="277.40" y="628.05" width="29.90" height="10.52" fill="#eebb74" stroke="#e2e2e2" stroke-width="1.1"/>
<rect x="307.30" y="628.05" width="29.90" height="10.52" fill="#dc7a4c" stroke="#e2e2e2" stroke-width="1.1"/>
<rect x="337.20" y="628.05" width="29.90" height="10.52" fill="#c2d5ec" stroke="#e2e2e2" stroke-width="1.1"/>
<rect x="367.10" y="628.05" width="29.90" height="10.52" fill="#b8cde8" stroke="#e2e2e2" stroke-width="1.1"/>
<rect x="277.40" y="638.57" width="29.90" height="10.52" fill="#f4d88e" stroke="#e2e2e2" stroke-width="1.1"/>
<rect x="307.30" y="638.57" width="29.90" height="10.52" fill="#d45a38" stroke="#e2e2e2" stroke-width="1.1"/>
<rect x="337.20" y="638.57" width="29.90" height="10.52" fill="#c2d5ec" stroke="#e2e2e2" stroke-width="1.1"/>
<rect x="367.10" y="638.57" width="29.90" height="10.52" fill="#b8cde8" stroke="#e2e2e2" stroke-width="1.1"/>
<rect x="277.40" y="649.10" width="29.90" height="10.52" fill="#f2d288" stroke="#e2e2e2" stroke-width="1.1"/>
<rect x="307.30" y="649.10" width="29.90" height="10.52" fill="#d45a38" stroke="#e2e2e2" stroke-width="1.1"/>
<rect x="337.20" y="649.10" width="29.90" height="10.52" fill="#c2d5ec" stroke="#e2e2e2" stroke-width="1.1"/>
<rect x="367.10" y="649.10" width="29.90" height="10.52" fill="#b0c6e2" stroke="#e2e2e2" stroke-width="1.1"/>
<rect x="277.40" y="659.62" width="29.90" height="10.52" fill="#dc7a4c" stroke="#e2e2e2" stroke-width="1.1"/>
<rect x="307.30" y="659.62" width="29.90" height="10.52" fill="#eec07c" stroke="#e2e2e2" stroke-width="1.1"/>
<rect x="337.20" y="659.62" width="29.90" height="10.52" fill="#b6cbe6" stroke="#e2e2e2" stroke-width="1.1"/>
<rect x="367.10" y="659.62" width="29.90" height="10.52" fill="#c0d3ea" stroke="#e2e2e2" stroke-width="1.1"/>
<rect x="277.40" y="670.14" width="29.90" height="10.52" fill="#f0c67e" stroke="#e2e2e2" stroke-width="1.1"/>
<rect x="307.30" y="670.14" width="29.90" height="10.52" fill="#dc7a4c" stroke="#e2e2e2" stroke-width="1.1"/>
<rect x="337.20" y="670.14" width="29.90" height="10.52" fill="#e0eaf6" stroke="#e2e2e2" stroke-width="1.1"/>
<rect x="367.10" y="670.14" width="29.90" height="10.52" fill="#98b2da" stroke="#e2e2e2" stroke-width="1.1"/>
<rect x="277.40" y="680.67" width="29.90" height="10.52" fill="#eab072" stroke="#e2e2e2" stroke-width="1.1"/>
<rect x="307.30" y="680.67" width="29.90" height="10.52" fill="#e09060" stroke="#e2e2e2" stroke-width="1.1"/>
<rect x="337.20" y="680.67" width="29.90" height="10.52" fill="#e4eef8" stroke="#e2e2e2" stroke-width="1.1"/>
<rect x="367.10" y="680.67" width="29.90" height="10.52" fill="#8ea8d4" stroke="#e2e2e2" stroke-width="1.1"/>
<text transform="translate(400.80,341.00) scale(0.88,1)" font-size="7.4" text-anchor="start" fill="#231f20" stroke="#231f20" stroke-width="0.06">Group</text>
<text transform="translate(400.80,351.96) scale(0.86,1)" font-size="7.4" text-anchor="start" fill="#231f20" stroke="#231f20" stroke-width="0.06">KcnIP3</text>
<text transform="translate(400.80,362.49) scale(0.86,1)" font-size="7.4" text-anchor="start" fill="#231f20" stroke="#231f20" stroke-width="0.06">Yif1b</text>
<text transform="translate(400.80,373.01) scale(0.86,1)" font-size="7.4" text-anchor="start" fill="#231f20" stroke="#231f20" stroke-width="0.06">Nfu1</text>
<text transform="translate(400.80,383.53) scale(0.86,1)" font-size="7.4" text-anchor="start" fill="#231f20" stroke="#231f20" stroke-width="0.06">1700112E06Rik</text>
<text transform="translate(400.80,394.06) scale(0.86,1)" font-size="7.4" text-anchor="start" fill="#231f20" stroke="#231f20" stroke-width="0.06">Slc28a2</text>
<text transform="translate(400.80,404.58) scale(0.86,1)" font-size="7.4" text-anchor="start" fill="#231f20" stroke="#231f20" stroke-width="0.06">Ift27</text>
<text transform="translate(400.80,415.11) scale(0.86,1)" font-size="7.4" text-anchor="start" fill="#231f20" stroke="#231f20" stroke-width="0.06">Cd59a</text>
<text transform="translate(400.80,425.63) scale(0.86,1)" font-size="7.4" text-anchor="start" fill="#231f20" stroke="#231f20" stroke-width="0.06">Rpl3</text>
<text transform="translate(400.80,436.15) scale(0.86,1)" font-size="7.4" text-anchor="start" fill="#231f20" stroke="#231f20" stroke-width="0.06">Abcg3</text>
<text transform="translate(400.80,446.68) scale(0.86,1)" font-size="7.4" text-anchor="start" fill="#231f20" stroke="#231f20" stroke-width="0.06">Lifr</text>
<text transform="translate(400.80,457.20) scale(0.86,1)" font-size="7.4" text-anchor="start" fill="#231f20" stroke="#231f20" stroke-width="0.06">Slfn8</text>
<text transform="translate(400.80,467.73) scale(0.86,1)" font-size="7.4" text-anchor="start" fill="#231f20" stroke="#231f20" stroke-width="0.06">Cd40</text>
<text transform="translate(400.80,478.25) scale(0.86,1)" font-size="7.4" text-anchor="start" fill="#231f20" stroke="#231f20" stroke-width="0.06">Myom1</text>
<text transform="translate(400.80,488.77) scale(0.86,1)" font-size="7.4" text-anchor="start" fill="#231f20" stroke="#231f20" stroke-width="0.06">Rtp4</text>
<text transform="translate(400.80,499.30) scale(0.86,1)" font-size="7.4" text-anchor="start" fill="#231f20" stroke="#231f20" stroke-width="0.06">Rsad2</text>
<text transform="translate(400.80,509.82) scale(0.86,1)" font-size="7.4" text-anchor="start" fill="#231f20" stroke="#231f20" stroke-width="0.06">Ifi44</text>
<text transform="translate(400.80,520.35) scale(0.86,1)" font-size="7.4" text-anchor="start" fill="#231f20" stroke="#231f20" stroke-width="0.06">Gata2</text>
<text transform="translate(400.80,530.87) scale(0.86,1)" font-size="7.4" text-anchor="start" fill="#231f20" stroke="#231f20" stroke-width="0.06">9230105E05Rik</text>
<text transform="translate(400.80,541.39) scale(0.86,1)" font-size="7.4" text-anchor="start" fill="#231f20" stroke="#231f20" stroke-width="0.06">H2-Aa</text>
<text transform="translate(400.80,551.92) scale(0.86,1)" font-size="7.4" text-anchor="start" fill="#231f20" stroke="#231f20" stroke-width="0.06">Naaa</text>
<text transform="translate(400.80,562.44) scale(0.86,1)" font-size="7.4" text-anchor="start" fill="#231f20" stroke="#231f20" stroke-width="0.06">Gm4951</text>
<text transform="translate(400.80,572.97) scale(0.86,1)" font-size="7.4" text-anchor="start" fill="#231f20" stroke="#231f20" stroke-width="0.06">Ciita</text>
<text transform="translate(400.80,583.49) scale(0.86,1)" font-size="7.4" text-anchor="start" fill="#231f20" stroke="#231f20" stroke-width="0.06">H2-Eb1</text>
<text transform="translate(400.80,594.01) scale(0.86,1)" font-size="7.4" text-anchor="start" fill="#231f20" stroke="#231f20" stroke-width="0.06">Clec1a</text>
<text transform="translate(400.80,604.54) scale(0.86,1)" font-size="7.4" text-anchor="start" fill="#231f20" stroke="#231f20" stroke-width="0.06">Cbfa2t3</text>
<text transform="translate(400.80,615.06) scale(0.86,1)" font-size="7.4" text-anchor="start" fill="#231f20" stroke="#231f20" stroke-width="0.06">Eml6</text>
<text transform="translate(400.80,625.59) scale(0.86,1)" font-size="7.4" text-anchor="start" fill="#231f20" stroke="#231f20" stroke-width="0.06">Cd74</text>
<text transform="translate(400.80,636.11) scale(0.86,1)" font-size="7.4" text-anchor="start" fill="#231f20" stroke="#231f20" stroke-width="0.06">H2-Ab1</text>
<text transform="translate(400.80,646.63) scale(0.86,1)" font-size="7.4" text-anchor="start" fill="#231f20" stroke="#231f20" stroke-width="0.06">Gcet2</text>
<text transform="translate(400.80,657.16) scale(0.86,1)" font-size="7.4" text-anchor="start" fill="#231f20" stroke="#231f20" stroke-width="0.06">Mycl1</text>
<text transform="translate(400.80,667.68) scale(0.86,1)" font-size="7.4" text-anchor="start" fill="#231f20" stroke="#231f20" stroke-width="0.06">Slc16a2</text>
<text transform="translate(400.80,678.21) scale(0.86,1)" font-size="7.4" text-anchor="start" fill="#231f20" stroke="#231f20" stroke-width="0.06">Ece1</text>
<text transform="translate(400.80,688.73) scale(0.86,1)" font-size="7.4" text-anchor="start" fill="#231f20" stroke="#231f20" stroke-width="0.06">Arhgef40</text>
<path d="M277.40,349.16 H275.90 V359.69 H277.40" stroke="#2e2e2e" stroke-width="0.8" fill="none"/>
<path d="M277.40,391.26 H276.60 V401.78 H277.40" stroke="#2e2e2e" stroke-width="0.8" fill="none"/>
<path d="M277.40,380.73 H275.00 V396.52 H276.60" stroke="#2e2e2e" stroke-width="0.8" fill="none"/>
<path d="M277.40,370.21 H272.80 V388.63 H275.00" stroke="#2e2e2e" stroke-width="0.8" fill="none"/>
<path d="M275.90,354.42 H268.90 V379.42 H272.80" stroke="#2e2e2e" stroke-width="0.8" fill="none"/>
<path d="M277.40,412.31 H267.30 V422.83 H277.40" stroke="#2e2e2e" stroke-width="0.8" fill="none"/>
<path d="M268.90,366.92 H264.40 V417.57 H267.30" stroke="#2e2e2e" stroke-width="0.8" fill="none"/>
<path d="M277.40,433.35 H276.00 V443.88 H277.40" stroke="#2e2e2e" stroke-width="0.8" fill="none"/>
<path d="M277.40,454.40 H275.60 V464.93 H277.40" stroke="#2e2e2e" stroke-width="0.8" fill="none"/>
<path d="M276.00,438.62 H274.60 V459.66 H275.60" stroke="#2e2e2e" stroke-width="0.8" fill="none"/>
<path d="M277.40,485.97 H276.20 V496.50 H277.40" stroke="#2e2e2e" stroke-width="0.8" fill="none"/>
<path d="M277.40,475.45 H275.30 V491.24 H276.20" stroke="#2e2e2e" stroke-width="0.8" fill="none"/>
<path d="M277.40,517.55 H276.40 V528.07 H277.40" stroke="#2e2e2e" stroke-width="0.8" fill="none"/>
<path d="M277.40,507.02 H275.20 V522.81 H276.40" stroke="#2e2e2e" stroke-width="0.8" fill="none"/>
<path d="M275.30,483.34 H273.70 V514.91 H275.20" stroke="#2e2e2e" stroke-width="0.8" fill="none"/>
<path d="M274.60,449.14 H270.70 V499.13 H273.70" stroke="#2e2e2e" stroke-width="0.8" fill="none"/>
<path d="M277.40,538.59 H275.50 V549.12 H277.40" stroke="#2e2e2e" stroke-width="0.8" fill="none"/>
<path d="M277.40,570.17 H276.60 V580.69 H277.40" stroke="#2e2e2e" stroke-width="0.8" fill="none"/>
<path d="M277.40,559.64 H274.60 V575.43 H276.60" stroke="#2e2e2e" stroke-width="0.8" fill="none"/>
<path d="M275.50,543.86 H272.40 V567.53 H274.60" stroke="#2e2e2e" stroke-width="0.8" fill="none"/>
<path d="M277.40,591.21 H276.40 V601.74 H277.40" stroke="#2e2e2e" stroke-width="0.8" fill="none"/>
<path d="M276.40,596.48 H275.00 V612.26 H277.40" stroke="#2e2e2e" stroke-width="0.8" fill="none"/>
<path d="M277.40,622.79 H276.50 V633.31 H277.40" stroke="#2e2e2e" stroke-width="0.8" fill="none"/>
<path d="M277.40,643.83 H276.60 V654.36 H277.40" stroke="#2e2e2e" stroke-width="0.8" fill="none"/>
<path d="M276.50,628.05 H275.10 V649.10 H276.60" stroke="#2e2e2e" stroke-width="0.8" fill="none"/>
<path d="M275.00,604.37 H272.40 V638.57 H275.10" stroke="#2e2e2e" stroke-width="0.8" fill="none"/>
<path d="M277.40,675.41 H275.20 V685.93 H277.40" stroke="#2e2e2e" stroke-width="0.8" fill="none"/>
<path d="M277.40,664.88 H270.30 V680.67 H275.20" stroke="#2e2e2e" stroke-width="0.8" fill="none"/>
<path d="M272.40,621.47 H266.90 V672.77 H270.30" stroke="#2e2e2e" stroke-width="0.8" fill="none"/>
<path d="M272.40,555.70 H259.20 V647.12 H266.90" stroke="#2e2e2e" stroke-width="0.8" fill="none"/>
<path d="M270.70,474.13 H251.60 V601.41 H259.20" stroke="#2e2e2e" stroke-width="0.8" fill="none"/>
<path d="M264.40,392.24 H238.50 V537.77 H251.60" stroke="#2e2e2e" stroke-width="0.8" fill="none"/>
<defs><linearGradient id="cb" x1="0" y1="0" x2="0" y2="1"><stop offset="0" stop-color="#d87676"/><stop offset="0.12" stop-color="#eca99a"/><stop offset="0.28" stop-color="#f5cfa6"/><stop offset="0.42" stop-color="#faeabb"/><stop offset="0.55" stop-color="#fcf8e2"/><stop offset="0.68" stop-color="#f0f4fa"/><stop offset="0.82" stop-color="#d0ddf0"/><stop offset="1" stop-color="#7898d2"/></linearGradient></defs>
<rect x="458.2" y="333.3" width="5.8" height="110.8" fill="url(#cb)"/>
<line x1="458.20" y1="336.99" x2="464.00" y2="336.99" stroke="#ffffff" stroke-width="0.25"/>
<line x1="458.20" y1="340.69" x2="464.00" y2="340.69" stroke="#ffffff" stroke-width="0.25"/>
<line x1="458.20" y1="344.38" x2="464.00" y2="344.38" stroke="#ffffff" stroke-width="0.25"/>
<line x1="458.20" y1="348.07" x2="464.00" y2="348.07" stroke="#ffffff" stroke-width="0.25"/>
<line x1="458.20" y1="351.77" x2="464.00" y2="351.77" stroke="#ffffff" stroke-width="0.25"/>
<line x1="458.20" y1="355.46" x2="464.00" y2="355.46" stroke="#ffffff" stroke-width="0.25"/>
<line x1="458.20" y1="359.15" x2="464.00" y2="359.15" stroke="#ffffff" stroke-width="0.25"/>
<line x1="458.20" y1="362.85" x2="464.00" y2="362.85" stroke="#ffffff" stroke-width="0.25"/>
<line x1="458.20" y1="366.54" x2="464.00" y2="366.54" stroke="#ffffff" stroke-width="0.25"/>
<line x1="458.20" y1="370.23" x2="464.00" y2="370.23" stroke="#ffffff" stroke-width="0.25"/>
<line x1="458.20" y1="373.93" x2="464.00" y2="373.93" stroke="#ffffff" stroke-width="0.25"/>
<line x1="458.20" y1="377.62" x2="464.00" y2="377.62" stroke="#ffffff" stroke-width="0.25"/>
<line x1="458.20" y1="381.31" x2="464.00" y2="381.31" stroke="#ffffff" stroke-width="0.25"/>
<line x1="458.20" y1="385.01" x2="464.00" y2="385.01" stroke="#ffffff" stroke-width="0.25"/>
<line x1="458.20" y1="388.70" x2="464.00" y2="388.70" stroke="#ffffff" stroke-width="0.25"/>
<line x1="458.20" y1="392.39" x2="464.00" y2="392.39" stroke="#ffffff" stroke-width="0.25"/>
<line x1="458.20" y1="396.09" x2="464.00" y2="396.09" stroke="#ffffff" stroke-width="0.25"/>
<line x1="458.20" y1="399.78" x2="464.00" y2="399.78" stroke="#ffffff" stroke-width="0.25"/>
<line x1="458.20" y1="403.47" x2="464.00" y2="403.47" stroke="#ffffff" stroke-width="0.25"/>
<line x1="458.20" y1="407.17" x2="464.00" y2="407.17" stroke="#ffffff" stroke-width="0.25"/>
<line x1="458.20" y1="410.86" x2="464.00" y2="410.86" stroke="#ffffff" stroke-width="0.25"/>
<line x1="458.20" y1="414.55" x2="464.00" y2="414.55" stroke="#ffffff" stroke-width="0.25"/>
<line x1="458.20" y1="418.25" x2="464.00" y2="418.25" stroke="#ffffff" stroke-width="0.25"/>
<line x1="458.20" y1="421.94" x2="464.00" y2="421.94" stroke="#ffffff" stroke-width="0.25"/>
<line x1="458.20" y1="425.63" x2="464.00" y2="425.63" stroke="#ffffff" stroke-width="0.25"/>
<line x1="458.20" y1="429.33" x2="464.00" y2="429.33" stroke="#ffffff" stroke-width="0.25"/>
<line x1="458.20" y1="433.02" x2="464.00" y2="433.02" stroke="#ffffff" stroke-width="0.25"/>
<line x1="458.20" y1="436.71" x2="464.00" y2="436.71" stroke="#ffffff" stroke-width="0.25"/>
<line x1="458.20" y1="440.41" x2="464.00" y2="440.41" stroke="#ffffff" stroke-width="0.25"/>
<text transform="translate(468.80,355.00) scale(0.86,1)" font-size="7.0" text-anchor="start" fill="#231f20" stroke="#231f20" stroke-width="0.1">1</text>
<text transform="translate(468.80,373.80) scale(0.86,1)" font-size="7.0" text-anchor="start" fill="#231f20" stroke="#231f20" stroke-width="0.1">0.5</text>
<text transform="translate(468.80,392.20) scale(0.86,1)" font-size="7.0" text-anchor="start" fill="#231f20" stroke="#231f20" stroke-width="0.1">0</text>
<text transform="translate(468.80,410.60) scale(0.86,1)" font-size="7.0" text-anchor="start" fill="#231f20" stroke="#231f20" stroke-width="0.1">-0.5</text>
<text transform="translate(468.80,428.80) scale(0.86,1)" font-size="7.0" text-anchor="start" fill="#231f20" stroke="#231f20" stroke-width="0.1">-1</text>
<rect x="457.40" y="456.00" width="7.40" height="7.60" fill="#141414"/>
<rect x="457.40" y="463.60" width="7.40" height="8.60" fill="#4a76bf"/>
<text transform="translate(468.80,462.40) scale(0.84,1)" font-size="7.0" text-anchor="start" fill="#231f20" stroke="#231f20" stroke-width="0.1">CTRL</text>
<text transform="translate(471.00,471.40)" font-size="7.6" text-anchor="start" fill="#231f20" stroke="#231f20" stroke-width="0.1" textLength="39.90" lengthAdjust="spacingAndGlyphs">Wt1<tspan dy="-2.8" font-size="5.2">fl/+</tspan><tspan dy="2.8"> Flt3</tspan><tspan dy="-2.8" font-size="5.2">m/m</tspan></text>
<line x1="36.80" y1="542.30" x2="166.00" y2="542.30" stroke="#cfcfcf" stroke-width="0.7"/>
<rect x="36.80" y="544.40" width="129.20" height="2.00" fill="#dcdcdc"/>
<rect x="36.80" y="544.40" width="11.70" height="2.00" fill="#555"/>
<rect x="56.20" y="544.40" width="10.10" height="2.00" fill="#555"/>
<rect x="129.60" y="544.40" width="13.40" height="2.00" fill="#777"/>
<rect x="143.00" y="544.40" width="23.00" height="2.00" fill="#1a1a1a"/>
<path d="M83.1,545.5 L87.8,544.4 L87.8,546.6 Z" fill="#d22"/>
<path d="M89.2,545.5 L93.9,544.4 L93.9,546.6 Z" fill="#d22"/>
<line x1="36.80" y1="553.30" x2="166.00" y2="553.30" stroke="#bdbdbd" stroke-width="0.6"/>
<line x1="36.80" y1="554.20" x2="166.00" y2="554.20" stroke="#bdbdbd" stroke-width="0.6"/>
<line x1="36.80" y1="561.60" x2="166.00" y2="561.60" stroke="#bdbdbd" stroke-width="0.6"/>
<line x1="36.80" y1="559.50" x2="166.00" y2="559.50" stroke="#9a9a9a" stroke-width="0.5"/>
<line x1="44.80" y1="563.30" x2="160.00" y2="563.30" stroke="#4a5fc1" stroke-width="0.5"/>
<text x="38.0" y="549.2" font-size="2.2" fill="#555">qE1</text>
<text x="49.0" y="549.2" font-size="2.2" fill="#555">qE2</text>
<text x="58.0" y="549.2" font-size="2.2" fill="#555">qE3</text>
<text x="70.0" y="549.2" font-size="2.2" fill="#555">qE4</text>
<text x="83.0" y="549.2" font-size="2.2" fill="#555">qE5</text>
<text x="112.0" y="549.2" font-size="2.2" fill="#555">qF1</text>
<text x="126.0" y="549.2" font-size="2.2" fill="#555">qF2</text>
<text x="140.0" y="549.2" font-size="2.2" fill="#555">qF3</text>
<text x="150.0" y="549.2" font-size="2.2" fill="#555">qF4</text>
<line x1="43.40" y1="558.30" x2="43.40" y2="559.50" stroke="#999" stroke-width="0.4"/>
<line x1="66.30" y1="558.30" x2="66.30" y2="559.50" stroke="#999" stroke-width="0.4"/>
<line x1="90.30" y1="558.30" x2="90.30" y2="559.50" stroke="#999" stroke-width="0.4"/>
<line x1="113.50" y1="558.30" x2="113.50" y2="559.50" stroke="#999" stroke-width="0.4"/>
<line x1="137.70" y1="558.30" x2="137.70" y2="559.50" stroke="#999" stroke-width="0.4"/>
<line x1="162.00" y1="558.30" x2="162.00" y2="559.50" stroke="#999" stroke-width="0.4"/>
<text x="64.0" y="557.6" font-size="2.2" fill="#555">8 kb</text>
<text x="108.0" y="557.6" font-size="2.2" fill="#555">1k</text>
<text x="158.0" y="557.6" font-size="2.2" fill="#555">1 kb</text>
<rect x="45.40" y="562.60" width="0.80" height="1.40" fill="#4a5fc8"/>
<rect x="49.60" y="562.60" width="0.80" height="1.40" fill="#4a5fc8"/>
<rect x="53.60" y="562.60" width="0.80" height="1.40" fill="#4a5fc8"/>
<rect x="57.60" y="562.60" width="0.80" height="1.40" fill="#4a5fc8"/>
<rect x="61.60" y="562.60" width="0.80" height="1.40" fill="#4a5fc8"/>
<rect x="65.60" y="562.60" width="0.80" height="1.40" fill="#4a5fc8"/>
<rect x="69.60" y="562.60" width="0.80" height="1.40" fill="#4a5fc8"/>
<rect x="73.60" y="562.60" width="0.80" height="1.40" fill="#4a5fc8"/>
<rect x="77.60" y="562.60" width="0.80" height="1.40" fill="#4a5fc8"/>
<rect x="81.60" y="562.60" width="0.80" height="1.40" fill="#4a5fc8"/>
<rect x="85.60" y="562.60" width="0.80" height="1.40" fill="#4a5fc8"/>
<rect x="88.10" y="562.60" width="0.80" height="1.40" fill="#4a5fc8"/>
<rect x="91.60" y="562.60" width="0.80" height="1.40" fill="#4a5fc8"/>
<rect x="95.80" y="562.60" width="0.80" height="1.40" fill="#4a5fc8"/>
<rect x="99.60" y="562.60" width="0.80" height="1.40" fill="#4a5fc8"/>
<rect x="102.90" y="562.60" width="0.80" height="1.40" fill="#4a5fc8"/>
<rect x="106.60" y="562.60" width="0.80" height="1.40" fill="#4a5fc8"/>
<rect x="109.60" y="562.60" width="0.80" height="1.40" fill="#4a5fc8"/>
<rect x="111.60" y="562.60" width="0.80" height="1.40" fill="#4a5fc8"/>
<rect x="120.60" y="562.60" width="0.80" height="1.40" fill="#4a5fc8"/>
<rect x="122.60" y="562.60" width="0.80" height="1.40" fill="#4a5fc8"/>
<rect x="125.60" y="562.60" width="0.80" height="1.40" fill="#4a5fc8"/>
<rect x="129.60" y="562.60" width="0.80" height="1.40" fill="#4a5fc8"/>
<rect x="133.60" y="562.60" width="0.80" height="1.40" fill="#4a5fc8"/>
<rect x="137.60" y="562.60" width="0.80" height="1.40" fill="#4a5fc8"/>
<rect x="141.60" y="562.60" width="0.80" height="1.40" fill="#4a5fc8"/>
<rect x="145.60" y="562.60" width="0.80" height="1.40" fill="#4a5fc8"/>
<rect x="149.60" y="562.60" width="0.80" height="1.40" fill="#4a5fc8"/>
<rect x="153.60" y="562.60" width="0.80" height="1.40" fill="#4a5fc8"/>
<rect x="156.60" y="562.60" width="0.80" height="1.40" fill="#4a5fc8"/>
<rect x="158.60" y="562.60" width="0.80" height="1.40" fill="#4a5fc8"/>
<rect x="114.30" y="561.90" width="4.60" height="2.80" fill="#2436b0"/>
<rect x="108.50" y="562.30" width="1.40" height="2.00" fill="#2436b0"/>
<rect x="104.50" y="562.30" width="1.20" height="2.00" fill="#2436b0"/>
<text x="99.5" y="569.3" font-size="2.4" fill="#555">Gm5</text>
<polygon points="36.9,578.6 36.9,576.66 37.3,577.47 37.7,577.70 38.1,576.37 38.5,576.27 38.9,577.12 39.3,577.37 39.7,577.47 40.1,577.41 40.5,577.04 40.9,578.60 41.3,578.60 41.7,578.60 42.1,578.60 42.5,578.60 42.9,578.60 43.3,576.66 43.7,577.49 44.1,577.94 44.5,577.95 44.9,578.00 45.3,578.00 45.7,578.00 46.1,578.00 46.5,578.00 46.9,577.97 47.3,577.38 47.7,576.91 48.1,576.88 48.5,577.12 48.9,577.11 49.3,577.10 49.7,577.60 50.1,578.00 50.5,577.96 50.9,577.46 51.3,576.80 51.7,576.20 52.1,575.93 52.5,576.17 52.9,576.76 53.3,577.24 53.7,577.06 54.1,576.53 54.5,576.92 54.9,577.94 55.3,578.00 55.7,578.00 56.1,578.00 56.5,577.84 56.9,576.83 57.3,576.48 57.7,578.60 58.1,578.60 58.5,578.60 58.9,578.60 59.3,578.60 59.7,578.60 60.1,577.36 60.5,576.94 60.9,576.84 61.3,577.18 61.7,577.68 62.1,577.87 62.5,577.54 62.9,577.23 63.3,577.59 63.7,578.00 64.1,578.00 64.5,578.00 64.9,578.00 65.3,578.00 65.7,578.00 66.1,578.00 66.5,578.00 66.9,578.00 67.3,578.00 67.7,578.00 68.1,578.00 68.5,578.00 68.9,577.40 69.3,577.16 69.7,577.76 70.1,578.00 70.5,577.87 70.9,578.60 71.3,578.60 71.7,578.00 72.1,578.00 72.5,577.71 72.9,577.75 73.3,577.24 73.7,576.72 74.1,576.69 74.5,577.17 74.9,577.81 75.3,578.00 75.7,578.00 76.1,577.86 76.5,578.00 76.9,578.00 77.3,577.63 77.7,577.19 78.1,577.42 78.5,578.60 78.9,578.60 79.3,578.60 79.7,578.60 80.1,578.60 80.5,577.84 80.9,577.66 81.3,577.46 81.7,578.60 82.1,578.60 82.5,578.60 82.9,577.41 83.3,577.40 83.7,578.00 84.1,578.00 84.5,578.00 84.9,577.85 85.3,577.54 85.7,577.82 86.1,578.00 86.5,578.00 86.9,577.96 87.3,577.71 87.7,577.71 88.1,577.96 88.5,578.00 88.9,578.60 89.3,578.60 89.7,578.60 90.1,578.60 90.5,577.06 90.9,577.62 91.3,578.00 91.7,578.00 92.1,577.62 92.5,577.86 92.9,578.60 93.3,578.60 93.7,578.60 94.1,578.60 94.5,578.60 94.9,578.60 95.3,578.00 95.7,578.00 96.1,578.00 96.5,578.00 96.9,577.59 97.3,578.60 97.7,578.60 98.1,576.55 98.5,576.28 98.9,577.02 99.3,577.86 99.7,577.77 100.1,577.78 100.5,578.00 100.9,578.00 101.3,578.00 101.7,577.78 102.1,578.00 102.5,577.94 102.9,577.74 103.3,577.87 103.7,577.17 104.1,576.82 104.5,577.16 104.9,576.92 105.3,576.59 105.7,576.52 106.1,578.60 106.5,578.60 106.9,578.60 107.3,578.60 107.7,578.60 108.1,577.58 108.5,577.42 108.9,577.53 109.3,577.84 109.7,578.00 110.1,577.96 110.5,577.72 110.9,577.44 111.3,576.98 111.7,576.52 112.1,576.85 112.5,577.64 112.9,577.52 113.3,575.93 113.7,574.10 114.1,573.76 114.5,574.43 114.9,575.22 115.3,576.34 115.7,577.44 116.1,577.53 116.5,576.28 116.9,575.31 117.3,576.10 117.7,576.92 118.1,576.60 118.5,576.40 118.9,576.98 119.3,577.44 119.7,577.05 120.1,576.19 120.5,575.74 120.9,576.11 121.3,576.85 121.7,577.24 122.1,577.12 122.5,578.60 122.9,578.60 123.3,578.60 123.7,577.74 124.1,577.91 124.5,577.90 124.9,577.91 125.3,578.00 125.7,578.00 126.1,578.00 126.5,578.00 126.9,578.60 127.3,578.60 127.7,578.60 128.1,578.60 128.5,577.90 128.9,577.69 129.3,578.00 129.7,578.00 130.1,578.00 130.5,578.00 130.9,578.00 131.3,577.96 131.7,577.46 132.1,577.32 132.5,578.60 132.9,578.60 133.3,578.60 133.7,577.80 134.1,577.95 134.5,577.79 134.9,577.40 135.3,577.19 135.7,577.38 136.1,577.63 136.5,577.53 136.9,577.22 137.3,577.13 137.7,577.15 138.1,577.00 138.5,577.18 138.9,577.85 139.3,578.00 139.7,577.98 140.1,577.35 140.5,578.00 140.9,578.00 141.3,577.84 141.7,577.67 142.1,577.80 142.5,578.00 142.9,578.60 143.3,578.60 143.7,578.60 144.1,578.60 144.5,578.60 144.9,577.72 145.3,578.00 145.7,577.85 146.1,577.30 146.5,576.60 146.9,576.13 147.3,576.34 147.7,576.91 148.1,577.43 148.5,577.87 148.9,578.00 149.3,578.00 149.7,578.00 150.1,578.00 150.5,576.93 150.9,575.12 151.3,576.10 151.7,577.50 152.1,577.12 152.5,575.92 152.9,574.91 153.3,574.71 153.7,574.35 154.1,572.95 154.5,575.04 154.9,576.90 155.3,576.94 155.7,577.04 156.1,577.49 156.5,577.97 156.9,577.78 157.3,575.99 157.7,578.60 158.1,578.60 158.5,578.60 158.9,575.45 159.3,575.52 159.7,574.89 160.1,575.04 160.5,576.34 160.9,577.61 161.3,577.67 161.7,575.69 162.1,575.28 162.5,576.92 162.9,576.93 163.3,576.45 163.7,576.51 164.1,577.12 164.5,577.83 164.9,578.00 165.0,578.6" fill="#1f988b"/>
<text transform="translate(32.80,579.60)" font-size="6.6" text-anchor="end" fill="#231f20" stroke="#231f20" stroke-width="0.08" textLength="20.40" lengthAdjust="spacingAndGlyphs">WT1 #1</text>
<polygon points="36.9,587.0 36.9,587.00 37.3,587.00 37.7,587.00 38.1,587.00 38.5,587.00 38.9,587.00 39.3,586.40 39.7,586.40 40.1,586.40 40.5,586.40 40.9,586.40 41.3,586.39 41.7,586.08 42.1,587.00 42.5,587.00 42.9,586.37 43.3,586.25 43.7,585.94 44.1,585.65 44.5,585.32 44.9,584.91 45.3,584.78 45.7,585.27 46.1,585.82 46.5,585.64 46.9,585.01 47.3,585.09 47.7,585.93 48.1,586.40 48.5,587.00 48.9,587.00 49.3,587.00 49.7,586.15 50.1,586.40 50.5,586.30 50.9,585.92 51.3,586.40 51.7,586.40 52.1,586.07 52.5,584.75 52.9,584.63 53.3,587.00 53.7,587.00 54.1,587.00 54.5,587.00 54.9,587.00 55.3,587.00 55.7,586.04 56.1,585.15 56.5,585.91 56.9,586.01 57.3,585.44 57.7,585.13 58.1,585.30 58.5,585.62 58.9,585.62 59.3,587.00 59.7,587.00 60.1,587.00 60.5,587.00 60.9,587.00 61.3,586.40 61.7,586.12 62.1,586.25 62.5,586.40 62.9,586.40 63.3,586.40 63.7,585.97 64.1,584.56 64.5,583.25 64.9,583.08 65.3,583.87 65.7,584.71 66.1,585.32 66.5,585.20 66.9,583.96 67.3,584.91 67.7,584.57 68.1,583.63 68.5,584.66 68.9,586.23 69.3,586.40 69.7,586.40 70.1,586.40 70.5,586.40 70.9,586.40 71.3,586.40 71.7,586.40 72.1,586.14 72.5,585.76 72.9,586.03 73.3,586.40 73.7,586.19 74.1,585.56 74.5,585.36 74.9,585.89 75.3,586.40 75.7,586.40 76.1,586.40 76.5,586.40 76.9,586.36 77.3,586.10 77.7,586.12 78.1,586.39 78.5,586.40 78.9,586.40 79.3,585.89 79.7,585.65 80.1,586.07 80.5,586.40 80.9,586.40 81.3,585.84 81.7,587.00 82.1,587.00 82.5,587.00 82.9,587.00 83.3,585.24 83.7,585.12 84.1,585.79 84.5,585.56 84.9,585.88 85.3,586.33 85.7,585.88 86.1,585.31 86.5,585.29 86.9,585.81 87.3,586.29 87.7,586.19 88.1,585.85 88.5,586.03 88.9,586.40 89.3,586.40 89.7,586.40 90.1,586.40 90.5,586.40 90.9,586.14 91.3,585.98 91.7,587.00 92.1,587.00 92.5,587.00 92.9,587.00 93.3,587.00 93.7,587.00 94.1,585.31 94.5,585.36 94.9,585.89 95.3,586.30 95.7,586.01 96.1,585.92 96.5,586.40 96.9,586.40 97.3,586.40 97.7,585.65 98.1,585.40 98.5,586.36 98.9,586.35 99.3,585.55 99.7,586.06 100.1,586.40 100.5,586.40 100.9,586.40 101.3,586.37 101.7,586.01 102.1,585.96 102.5,586.26 102.9,586.40 103.3,586.40 103.7,586.24 104.1,586.16 104.5,586.40 104.9,586.25 105.3,587.00 105.7,587.00 106.1,587.00 106.5,587.00 106.9,587.00 107.3,586.40 107.7,585.91 108.1,584.96 108.5,586.10 108.9,586.40 109.3,586.40 109.7,586.40 110.1,587.00 110.5,587.00 110.9,587.00 111.3,587.00 111.7,587.00 112.1,586.40 112.5,585.36 112.9,583.52 113.3,582.26 113.7,582.05 114.1,582.81 114.5,584.24 114.9,584.52 115.3,583.33 115.7,584.10 116.1,584.73 116.5,583.75 116.9,582.88 117.3,582.85 117.7,582.80 118.1,581.79 118.5,581.00 118.9,581.37 119.3,581.81 119.7,582.38 120.1,583.77 120.5,585.39 120.9,586.40 121.3,586.40 121.7,586.40 122.1,586.40 122.5,586.40 122.9,585.76 123.3,587.00 123.7,587.00 124.1,587.00 124.5,587.00 124.9,587.00 125.3,586.07 125.7,586.32 126.1,586.16 126.5,585.90 126.9,585.96 127.3,586.02 127.7,585.82 128.1,585.76 128.5,586.04 128.9,586.26 129.3,586.07 129.7,585.62 130.1,585.40 130.5,585.66 130.9,585.76 131.3,584.67 131.7,585.14 132.1,585.93 132.5,585.55 132.9,585.21 133.3,585.24 133.7,585.37 134.1,585.29 134.5,585.24 134.9,585.58 135.3,585.92 135.7,585.80 136.1,585.48 136.5,585.48 136.9,585.80 137.3,585.69 137.7,587.00 138.1,587.00 138.5,587.00 138.9,587.00 139.3,585.82 139.7,585.31 140.1,586.37 140.5,586.40 140.9,586.40 141.3,586.40 141.7,586.29 142.1,586.33 142.5,586.31 142.9,585.88 143.3,585.81 143.7,586.33 144.1,586.40 144.5,586.40 144.9,585.98 145.3,586.36 145.7,586.40 146.1,586.40 146.5,586.40 146.9,586.40 147.3,586.40 147.7,586.10 148.1,585.05 148.5,584.59 148.9,584.82 149.3,585.05 149.7,585.36 150.1,585.81 150.5,585.44 150.9,583.96 151.3,584.14 151.7,585.76 152.1,585.99 152.5,585.04 152.9,583.93 153.3,583.56 153.7,584.19 154.1,585.08 154.5,585.25 154.9,584.75 155.3,584.68 155.7,585.50 156.1,586.40 156.5,586.40 156.9,586.40 157.3,586.40 157.7,586.40 158.1,585.73 158.5,584.79 158.9,584.45 159.3,583.65 159.7,582.86 160.1,583.68 160.5,584.00 160.9,583.80 161.3,584.48 161.7,584.99 162.1,584.69 162.5,584.34 162.9,584.40 163.3,584.51 163.7,584.09 164.1,583.27 164.5,582.86 164.9,583.45 165.0,587.0" fill="#1f988b"/>
<text transform="translate(32.80,588.60)" font-size="6.6" text-anchor="end" fill="#231f20" stroke="#231f20" stroke-width="0.08" textLength="20.40" lengthAdjust="spacingAndGlyphs">WT1 #2</text>
<polygon points="36.9,595.5 36.9,594.90 37.3,594.73 37.7,594.69 38.1,594.83 38.5,595.50 38.9,595.50 39.3,595.50 39.7,595.50 40.1,595.50 40.5,595.50 40.9,594.87 41.3,594.90 41.7,594.90 42.1,594.90 42.5,594.90 42.9,594.89 43.3,594.90 43.7,594.90 44.1,594.90 44.5,594.90 44.9,594.90 45.3,594.90 45.7,594.90 46.1,594.90 46.5,594.90 46.9,595.50 47.3,595.50 47.7,594.90 48.1,594.83 48.5,594.82 48.9,594.90 49.3,594.90 49.7,594.90 50.1,594.88 50.5,594.89 50.9,594.88 51.3,594.88 51.7,594.88 52.1,594.90 52.5,594.90 52.9,594.90 53.3,594.90 53.7,594.64 54.1,594.40 54.5,594.54 54.9,594.80 55.3,594.90 55.7,594.90 56.1,594.90 56.5,595.50 56.9,595.50 57.3,595.50 57.7,595.50 58.1,594.90 58.5,594.90 58.9,594.90 59.3,594.90 59.7,595.50 60.1,595.50 60.5,595.50 60.9,595.50 61.3,595.50 61.7,594.90 62.1,594.90 62.5,594.90 62.9,594.90 63.3,594.90 63.7,594.90 64.1,594.90 64.5,594.90 64.9,595.50 65.3,595.50 65.7,594.90 66.1,594.90 66.5,594.90 66.9,594.90 67.3,594.90 67.7,594.90 68.1,594.90 68.5,594.90 68.9,594.90 69.3,594.90 69.7,595.50 70.1,595.50 70.5,594.90 70.9,594.90 71.3,594.90 71.7,594.90 72.1,594.90 72.5,594.90 72.9,594.90 73.3,594.90 73.7,594.90 74.1,594.90 74.5,594.90 74.9,594.90 75.3,594.90 75.7,594.90 76.1,594.90 76.5,594.90 76.9,594.90 77.3,594.90 77.7,594.90 78.1,594.86 78.5,595.50 78.9,595.50 79.3,595.50 79.7,595.50 80.1,595.50 80.5,594.90 80.9,594.90 81.3,594.90 81.7,594.90 82.1,594.90 82.5,594.90 82.9,594.90 83.3,594.90 83.7,594.90 84.1,594.76 84.5,594.67 84.9,594.76 85.3,594.87 85.7,594.89 86.1,594.85 86.5,594.82 86.9,594.79 87.3,594.82 87.7,594.90 88.1,594.90 88.5,594.90 88.9,594.90 89.3,594.90 89.7,594.90 90.1,594.90 90.5,594.82 90.9,594.84 91.3,594.90 91.7,594.90 92.1,594.90 92.5,594.90 92.9,594.90 93.3,594.90 93.7,594.90 94.1,594.90 94.5,594.90 94.9,595.50 95.3,595.50 95.7,595.50 96.1,595.50 96.5,595.50 96.9,595.50 97.3,594.90 97.7,594.90 98.1,594.90 98.5,594.87 98.9,594.64 99.3,595.50 99.7,595.50 100.1,595.50 100.5,594.90 100.9,594.90 101.3,594.90 101.7,594.88 102.1,594.83 102.5,594.90 102.9,594.90 103.3,595.50 103.7,595.50 104.1,595.50 104.5,595.50 104.9,595.50 105.3,594.90 105.7,594.90 106.1,594.90 106.5,594.90 106.9,594.89 107.3,594.90 107.7,594.90 108.1,594.90 108.5,594.90 108.9,594.90 109.3,594.90 109.7,594.76 110.1,594.60 110.5,594.68 110.9,594.70 111.3,594.80 111.7,594.90 112.1,594.90 112.5,594.90 112.9,594.59 113.3,594.90 113.7,594.90 114.1,594.90 114.5,594.90 114.9,594.90 115.3,594.82 115.7,594.47 116.1,594.80 116.5,594.90 116.9,594.64 117.3,594.22 117.7,594.14 118.1,594.51 118.5,594.90 118.9,594.90 119.3,594.90 119.7,594.90 120.1,594.90 120.5,594.60 120.9,594.35 121.3,594.43 121.7,594.51 122.1,594.74 122.5,594.90 122.9,594.90 123.3,594.90 123.7,594.90 124.1,594.90 124.5,594.90 124.9,594.90 125.3,594.90 125.7,594.90 126.1,594.90 126.5,595.50 126.9,595.50 127.3,595.50 127.7,595.50 128.1,595.50 128.5,595.50 128.9,594.90 129.3,594.90 129.7,594.90 130.1,594.90 130.5,595.50 130.9,595.50 131.3,595.50 131.7,594.90 132.1,594.90 132.5,594.90 132.9,594.90 133.3,594.90 133.7,594.90 134.1,594.90 134.5,595.50 134.9,595.50 135.3,595.50 135.7,595.50 136.1,595.50 136.5,594.86 136.9,594.90 137.3,594.90 137.7,594.90 138.1,595.50 138.5,595.50 138.9,595.50 139.3,595.50 139.7,594.90 140.1,594.90 140.5,594.87 140.9,594.90 141.3,594.88 141.7,594.90 142.1,594.90 142.5,594.90 142.9,594.90 143.3,594.90 143.7,594.90 144.1,594.90 144.5,594.90 144.9,594.90 145.3,594.90 145.7,595.50 146.1,595.50 146.5,595.50 146.9,595.50 147.3,595.50 147.7,595.50 148.1,594.90 148.5,594.90 148.9,594.90 149.3,594.90 149.7,594.90 150.1,594.90 150.5,594.90 150.9,594.90 151.3,595.50 151.7,595.50 152.1,594.90 152.5,594.90 152.9,594.90 153.3,594.90 153.7,594.81 154.1,594.90 154.5,594.90 154.9,594.88 155.3,594.90 155.7,594.90 156.1,594.90 156.5,595.50 156.9,595.50 157.3,595.50 157.7,595.50 158.1,594.90 158.5,594.90 158.9,594.90 159.3,594.90 159.7,594.90 160.1,594.90 160.5,594.90 160.9,594.90 161.3,594.90 161.7,594.90 162.1,594.90 162.5,594.90 162.9,595.50 163.3,595.50 163.7,595.50 164.1,595.50 164.5,595.50 164.9,594.90 165.0,595.5" fill="#1f988b"/>
<text transform="translate(32.80,597.60)" font-size="6.6" text-anchor="end" fill="#231f20" stroke="#231f20" stroke-width="0.08" textLength="20.40" lengthAdjust="spacingAndGlyphs">WT1 #3</text>
<polygon points="36.9,603.6 36.9,603.60 37.3,603.60 37.7,603.60 38.1,602.83 38.5,602.98 38.9,603.00 39.3,603.00 39.7,603.00 40.1,603.60 40.5,603.60 40.9,603.00 41.3,603.00 41.7,603.00 42.1,603.00 42.5,603.00 42.9,603.00 43.3,603.00 43.7,603.00 44.1,603.60 44.5,603.60 44.9,603.00 45.3,603.00 45.7,603.00 46.1,603.00 46.5,603.00 46.9,603.00 47.3,602.98 47.7,602.89 48.1,603.60 48.5,603.60 48.9,603.60 49.3,603.00 49.7,603.00 50.1,603.00 50.5,602.78 50.9,602.72 51.3,602.84 51.7,603.00 52.1,603.00 52.5,603.00 52.9,603.60 53.3,603.60 53.7,603.60 54.1,603.60 54.5,603.00 54.9,603.00 55.3,603.00 55.7,603.00 56.1,603.00 56.5,603.00 56.9,603.00 57.3,603.00 57.7,603.00 58.1,603.00 58.5,603.00 58.9,603.00 59.3,603.00 59.7,603.00 60.1,603.00 60.5,603.00 60.9,603.00 61.3,602.91 61.7,602.80 62.1,602.94 62.5,603.00 62.9,603.00 63.3,603.00 63.7,603.00 64.1,603.00 64.5,603.00 64.9,603.00 65.3,603.00 65.7,603.00 66.1,603.00 66.5,603.60 66.9,603.60 67.3,603.60 67.7,603.60 68.1,603.60 68.5,603.60 68.9,603.00 69.3,603.00 69.7,603.00 70.1,603.00 70.5,603.00 70.9,603.00 71.3,603.60 71.7,603.60 72.1,603.60 72.5,603.60 72.9,603.00 73.3,603.00 73.7,603.00 74.1,603.00 74.5,603.00 74.9,603.00 75.3,603.00 75.7,603.00 76.1,603.00 76.5,603.00 76.9,603.00 77.3,603.00 77.7,603.00 78.1,603.00 78.5,603.00 78.9,603.00 79.3,603.00 79.7,603.00 80.1,603.00 80.5,603.00 80.9,603.00 81.3,603.00 81.7,603.00 82.1,603.00 82.5,603.00 82.9,603.00 83.3,603.00 83.7,603.00 84.1,603.00 84.5,603.00 84.9,603.00 85.3,603.00 85.7,603.00 86.1,603.60 86.5,603.60 86.9,603.60 87.3,603.60 87.7,603.60 88.1,603.60 88.5,603.00 88.9,603.00 89.3,603.00 89.7,603.00 90.1,603.00 90.5,602.96 90.9,602.96 91.3,603.00 91.7,603.00 92.1,603.00 92.5,603.00 92.9,603.00 93.3,603.60 93.7,603.60 94.1,603.60 94.5,603.60 94.9,603.00 95.3,602.99 95.7,602.99 96.1,603.60 96.5,603.60 96.9,603.60 97.3,603.60 97.7,603.60 98.1,603.00 98.5,603.00 98.9,603.00 99.3,603.00 99.7,603.00 100.1,602.99 100.5,603.00 100.9,603.00 101.3,603.00 101.7,603.00 102.1,603.00 102.5,602.98 102.9,602.85 103.3,602.91 103.7,603.00 104.1,603.00 104.5,603.00 104.9,603.00 105.3,603.60 105.7,603.60 106.1,603.60 106.5,603.60 106.9,602.90 107.3,603.00 107.7,603.00 108.1,603.00 108.5,603.60 108.9,603.60 109.3,603.60 109.7,603.60 110.1,603.60 110.5,603.00 110.9,603.00 111.3,603.00 111.7,603.00 112.1,603.00 112.5,603.00 112.9,603.00 113.3,602.83 113.7,602.92 114.1,603.00 114.5,603.00 114.9,602.99 115.3,602.61 115.7,602.25 116.1,602.02 116.5,602.00 116.9,602.16 117.3,602.33 117.7,602.31 118.1,602.31 118.5,602.59 118.9,603.00 119.3,603.00 119.7,603.00 120.1,603.00 120.5,603.00 120.9,603.00 121.3,603.60 121.7,603.60 122.1,603.00 122.5,603.00 122.9,603.00 123.3,603.00 123.7,603.00 124.1,603.00 124.5,603.00 124.9,603.00 125.3,603.00 125.7,603.00 126.1,603.00 126.5,603.00 126.9,603.00 127.3,603.00 127.7,603.00 128.1,603.00 128.5,603.00 128.9,603.00 129.3,603.00 129.7,603.00 130.1,603.00 130.5,603.00 130.9,603.00 131.3,603.00 131.7,603.00 132.1,603.00 132.5,603.00 132.9,603.00 133.3,603.00 133.7,603.00 134.1,603.00 134.5,603.00 134.9,603.00 135.3,603.60 135.7,603.60 136.1,603.60 136.5,603.60 136.9,603.60 137.3,603.60 137.7,603.00 138.1,603.00 138.5,603.00 138.9,603.00 139.3,603.00 139.7,603.00 140.1,603.00 140.5,603.00 140.9,603.00 141.3,603.00 141.7,603.00 142.1,603.60 142.5,603.60 142.9,603.60 143.3,603.00 143.7,603.00 144.1,603.00 144.5,603.00 144.9,603.60 145.3,603.60 145.7,603.60 146.1,603.00 146.5,603.00 146.9,603.00 147.3,603.60 147.7,603.60 148.1,603.60 148.5,603.60 148.9,603.60 149.3,603.00 149.7,603.00 150.1,603.00 150.5,603.00 150.9,603.00 151.3,603.00 151.7,603.00 152.1,603.00 152.5,603.00 152.9,603.00 153.3,603.00 153.7,603.00 154.1,602.88 154.5,602.86 154.9,603.00 155.3,603.00 155.7,603.00 156.1,603.00 156.5,603.00 156.9,602.77 157.3,602.99 157.7,603.00 158.1,603.60 158.5,603.60 158.9,603.00 159.3,603.00 159.7,603.00 160.1,603.00 160.5,603.00 160.9,602.93 161.3,603.00 161.7,603.00 162.1,603.00 162.5,603.00 162.9,603.00 163.3,603.00 163.7,603.00 164.1,603.00 164.5,603.60 164.9,603.60 165.0,603.6" fill="#111"/>
<text transform="translate(32.80,605.70)" font-size="6.6" text-anchor="end" fill="#231f20" stroke="#231f20" stroke-width="0.08" textLength="21.90" lengthAdjust="spacingAndGlyphs">CTRL #1</text>
<polygon points="36.9,612.3 36.9,611.70 37.3,611.70 37.7,611.70 38.1,611.70 38.5,611.64 38.9,611.47 39.3,611.48 39.7,612.30 40.1,612.30 40.5,612.30 40.9,612.30 41.3,611.70 41.7,611.70 42.1,611.70 42.5,611.70 42.9,611.70 43.3,611.70 43.7,611.70 44.1,612.30 44.5,612.30 44.9,612.30 45.3,612.30 45.7,611.70 46.1,611.70 46.5,611.70 46.9,611.70 47.3,611.70 47.7,611.70 48.1,611.70 48.5,611.70 48.9,611.66 49.3,611.67 49.7,612.30 50.1,612.30 50.5,612.30 50.9,611.14 51.3,611.42 51.7,611.70 52.1,611.70 52.5,611.70 52.9,611.70 53.3,611.70 53.7,612.30 54.1,612.30 54.5,612.30 54.9,612.30 55.3,611.70 55.7,611.70 56.1,611.70 56.5,611.70 56.9,611.62 57.3,611.65 57.7,612.30 58.1,612.30 58.5,612.30 58.9,612.30 59.3,611.70 59.7,611.70 60.1,611.70 60.5,611.70 60.9,611.70 61.3,611.70 61.7,611.70 62.1,611.68 62.5,611.70 62.9,611.70 63.3,611.70 63.7,611.70 64.1,611.70 64.5,611.67 64.9,611.66 65.3,611.67 65.7,611.70 66.1,612.30 66.5,612.30 66.9,612.30 67.3,612.30 67.7,611.70 68.1,611.70 68.5,611.70 68.9,611.70 69.3,611.70 69.7,611.70 70.1,611.70 70.5,611.70 70.9,611.70 71.3,611.70 71.7,611.70 72.1,611.70 72.5,611.62 72.9,611.69 73.3,611.70 73.7,611.70 74.1,611.70 74.5,611.70 74.9,611.70 75.3,611.70 75.7,611.70 76.1,611.70 76.5,611.70 76.9,611.70 77.3,612.30 77.7,612.30 78.1,612.30 78.5,611.70 78.9,611.69 79.3,611.70 79.7,611.70 80.1,611.70 80.5,611.70 80.9,611.70 81.3,611.70 81.7,611.70 82.1,611.70 82.5,611.70 82.9,611.70 83.3,611.70 83.7,611.70 84.1,611.70 84.5,611.70 84.9,611.70 85.3,611.70 85.7,611.70 86.1,611.70 86.5,611.70 86.9,611.70 87.3,611.70 87.7,611.70 88.1,611.70 88.5,611.70 88.9,611.70 89.3,611.70 89.7,611.70 90.1,611.70 90.5,611.70 90.9,611.70 91.3,611.70 91.7,611.51 92.1,611.55 92.5,611.70 92.9,611.70 93.3,611.70 93.7,612.30 94.1,612.30 94.5,612.30 94.9,612.30 95.3,611.70 95.7,611.70 96.1,611.70 96.5,611.70 96.9,611.70 97.3,611.70 97.7,612.30 98.1,612.30 98.5,612.30 98.9,611.56 99.3,611.55 99.7,611.65 100.1,611.70 100.5,611.70 100.9,611.70 101.3,611.70 101.7,611.70 102.1,611.70 102.5,611.70 102.9,611.70 103.3,612.30 103.7,612.30 104.1,612.30 104.5,612.30 104.9,611.70 105.3,611.70 105.7,611.70 106.1,611.70 106.5,612.30 106.9,612.30 107.3,611.70 107.7,611.70 108.1,611.70 108.5,611.70 108.9,611.70 109.3,611.70 109.7,611.70 110.1,611.70 110.5,611.70 110.9,611.70 111.3,611.70 111.7,611.70 112.1,611.70 112.5,611.70 112.9,611.70 113.3,611.70 113.7,612.30 114.1,612.30 114.5,611.38 114.9,611.41 115.3,611.03 115.7,612.30 116.1,612.30 116.5,612.30 116.9,612.30 117.3,610.76 117.7,610.79 118.1,611.08 118.5,611.26 118.9,611.40 119.3,611.62 119.7,611.70 120.1,611.55 120.5,611.58 120.9,611.70 121.3,611.70 121.7,611.70 122.1,611.70 122.5,611.70 122.9,611.70 123.3,611.70 123.7,611.70 124.1,612.30 124.5,612.30 124.9,612.30 125.3,612.30 125.7,612.30 126.1,612.30 126.5,611.70 126.9,611.70 127.3,611.70 127.7,611.70 128.1,611.70 128.5,611.70 128.9,611.68 129.3,612.30 129.7,612.30 130.1,612.30 130.5,611.70 130.9,611.70 131.3,611.70 131.7,611.70 132.1,611.70 132.5,611.70 132.9,611.70 133.3,611.70 133.7,611.70 134.1,611.70 134.5,611.70 134.9,611.70 135.3,611.70 135.7,611.70 136.1,611.70 136.5,611.70 136.9,611.70 137.3,611.70 137.7,611.70 138.1,611.70 138.5,611.70 138.9,611.70 139.3,611.70 139.7,611.70 140.1,611.70 140.5,611.70 140.9,611.70 141.3,611.70 141.7,611.70 142.1,611.70 142.5,612.30 142.9,612.30 143.3,612.30 143.7,611.58 144.1,611.54 144.5,612.30 144.9,612.30 145.3,612.30 145.7,612.30 146.1,611.70 146.5,611.56 146.9,611.51 147.3,611.60 147.7,611.70 148.1,611.70 148.5,611.70 148.9,612.30 149.3,612.30 149.7,612.30 150.1,612.30 150.5,611.70 150.9,611.70 151.3,611.70 151.7,611.70 152.1,611.70 152.5,611.70 152.9,611.70 153.3,611.70 153.7,611.70 154.1,611.70 154.5,611.60 154.9,611.55 155.3,611.62 155.7,611.70 156.1,611.70 156.5,611.70 156.9,611.70 157.3,611.70 157.7,611.70 158.1,611.70 158.5,611.64 158.9,611.70 159.3,611.70 159.7,611.70 160.1,611.70 160.5,611.70 160.9,611.70 161.3,611.70 161.7,611.70 162.1,611.70 162.5,611.70 162.9,611.70 163.3,611.70 163.7,611.70 164.1,611.70 164.5,611.70 164.9,611.70 165.0,612.3" fill="#111"/>
<text transform="translate(32.80,614.20)" font-size="6.6" text-anchor="end" fill="#231f20" stroke="#231f20" stroke-width="0.08" textLength="21.90" lengthAdjust="spacingAndGlyphs">CTRL #2</text>
<polygon points="36.9,620.8 36.9,620.80 37.3,620.80 37.7,620.80 38.1,620.80 38.5,620.20 38.9,620.20 39.3,620.20 39.7,620.20 40.1,620.20 40.5,620.20 40.9,620.20 41.3,620.20 41.7,620.80 42.1,620.80 42.5,620.80 42.9,620.80 43.3,620.80 43.7,620.20 44.1,620.20 44.5,620.20 44.9,620.20 45.3,620.20 45.7,620.20 46.1,620.20 46.5,620.20 46.9,620.20 47.3,620.80 47.7,620.80 48.1,620.80 48.5,620.80 48.9,620.12 49.3,620.20 49.7,620.20 50.1,620.20 50.5,620.20 50.9,620.20 51.3,620.20 51.7,620.20 52.1,620.20 52.5,620.20 52.9,620.20 53.3,620.20 53.7,620.20 54.1,620.80 54.5,620.80 54.9,620.80 55.3,620.80 55.7,620.03 56.1,619.99 56.5,620.17 56.9,620.16 57.3,619.84 57.7,619.99 58.1,620.20 58.5,620.20 58.9,620.20 59.3,620.20 59.7,620.20 60.1,620.20 60.5,620.15 60.9,620.07 61.3,619.95 61.7,619.92 62.1,620.20 62.5,620.20 62.9,620.20 63.3,620.20 63.7,620.20 64.1,620.20 64.5,620.20 64.9,620.80 65.3,620.80 65.7,620.80 66.1,620.80 66.5,620.20 66.9,620.20 67.3,620.20 67.7,620.20 68.1,620.20 68.5,620.20 68.9,620.20 69.3,620.20 69.7,620.20 70.1,620.11 70.5,620.80 70.9,620.80 71.3,620.80 71.7,620.80 72.1,620.80 72.5,620.80 72.9,620.20 73.3,620.20 73.7,620.20 74.1,620.20 74.5,620.20 74.9,620.20 75.3,620.20 75.7,620.20 76.1,620.80 76.5,620.80 76.9,620.80 77.3,620.80 77.7,620.80 78.1,620.20 78.5,620.20 78.9,620.20 79.3,620.20 79.7,620.80 80.1,620.80 80.5,620.80 80.9,620.80 81.3,620.80 81.7,620.80 82.1,620.20 82.5,620.15 82.9,620.13 83.3,620.02 83.7,620.09 84.1,620.20 84.5,620.20 84.9,620.15 85.3,620.20 85.7,620.20 86.1,620.20 86.5,620.20 86.9,620.20 87.3,620.20 87.7,620.20 88.1,620.20 88.5,620.18 88.9,620.20 89.3,620.20 89.7,620.80 90.1,620.80 90.5,620.80 90.9,620.80 91.3,620.80 91.7,620.20 92.1,620.20 92.5,620.20 92.9,620.20 93.3,620.20 93.7,620.20 94.1,620.20 94.5,620.20 94.9,620.20 95.3,620.20 95.7,620.20 96.1,620.20 96.5,620.20 96.9,620.20 97.3,620.20 97.7,620.20 98.1,620.12 98.5,620.02 98.9,620.12 99.3,620.20 99.7,620.20 100.1,620.20 100.5,620.20 100.9,620.20 101.3,620.20 101.7,620.10 102.1,620.11 102.5,620.19 102.9,620.14 103.3,620.03 103.7,620.20 104.1,620.20 104.5,620.20 104.9,620.20 105.3,620.20 105.7,620.20 106.1,620.20 106.5,620.20 106.9,620.20 107.3,620.20 107.7,620.20 108.1,620.20 108.5,620.20 108.9,620.20 109.3,620.20 109.7,620.20 110.1,620.80 110.5,620.80 110.9,620.80 111.3,620.80 111.7,620.80 112.1,620.20 112.5,620.20 112.9,619.98 113.3,619.50 113.7,619.30 114.1,619.20 114.5,619.58 114.9,620.08 115.3,620.16 115.7,620.07 116.1,620.07 116.5,619.98 116.9,619.62 117.3,619.27 117.7,619.40 118.1,620.80 118.5,620.80 118.9,620.80 119.3,620.20 119.7,620.20 120.1,620.20 120.5,620.20 120.9,620.20 121.3,620.20 121.7,620.80 122.1,620.80 122.5,620.80 122.9,620.80 123.3,620.80 123.7,620.20 124.1,620.20 124.5,620.20 124.9,620.20 125.3,620.15 125.7,620.20 126.1,620.20 126.5,620.80 126.9,620.80 127.3,620.80 127.7,620.80 128.1,620.80 128.5,620.20 128.9,620.20 129.3,620.20 129.7,620.20 130.1,620.20 130.5,620.20 130.9,620.20 131.3,620.20 131.7,620.20 132.1,620.20 132.5,620.20 132.9,620.20 133.3,620.20 133.7,620.20 134.1,620.20 134.5,620.20 134.9,620.20 135.3,620.20 135.7,620.09 136.1,620.20 136.5,620.20 136.9,620.20 137.3,620.20 137.7,620.20 138.1,620.20 138.5,620.20 138.9,620.20 139.3,620.20 139.7,620.20 140.1,620.20 140.5,620.20 140.9,620.20 141.3,620.20 141.7,620.15 142.1,620.20 142.5,620.80 142.9,620.80 143.3,620.80 143.7,620.80 144.1,620.20 144.5,620.20 144.9,620.20 145.3,620.20 145.7,620.20 146.1,620.20 146.5,620.80 146.9,620.80 147.3,620.80 147.7,620.80 148.1,620.80 148.5,620.80 148.9,620.20 149.3,620.20 149.7,620.20 150.1,620.20 150.5,620.20 150.9,620.80 151.3,620.80 151.7,620.80 152.1,620.20 152.5,620.19 152.9,620.20 153.3,620.20 153.7,620.20 154.1,620.20 154.5,620.20 154.9,620.20 155.3,620.20 155.7,620.20 156.1,620.20 156.5,620.20 156.9,620.20 157.3,620.20 157.7,620.20 158.1,620.20 158.5,620.20 158.9,620.80 159.3,620.80 159.7,620.80 160.1,620.20 160.5,620.20 160.9,620.20 161.3,620.20 161.7,620.20 162.1,620.20 162.5,620.20 162.9,620.20 163.3,620.20 163.7,620.20 164.1,620.20 164.5,620.20 164.9,620.20 165.0,620.8" fill="#111"/>
<text transform="translate(32.80,623.00)" font-size="6.6" text-anchor="end" fill="#231f20" stroke="#231f20" stroke-width="0.08" textLength="21.90" lengthAdjust="spacingAndGlyphs">CTRL #3</text>
<path d="M48.9,595.5 L49.6,589.3 L50.300000000000004,595.5 Z" fill="#1f988b"/>
<path d="M113.8,595.5 L114.5,590.0 L115.2,595.5 Z" fill="#1f988b"/>
<path d="M115.3,595.5 L116,591.3 L116.7,595.5 Z" fill="#1f988b"/>
<path d="M142.3,595.5 L143,590.5 L143.7,595.5 Z" fill="#1f988b"/>
<path d="M151.8,595.5 L152.5,592.3 L153.2,595.5 Z" fill="#1f988b"/>
<path d="M117.3,595.5 L118,591.9 L118.7,595.5 Z" fill="#1f988b"/>
<line x1="37.40" y1="633.20" x2="37.40" y2="714.50" stroke="#d8d8d8" stroke-width="0.6"/>
<line x1="37.60" y1="633.20" x2="227.00" y2="633.20" stroke="#cfcfcf" stroke-width="0.7"/>
<rect x="37.60" y="635.80" width="189.40" height="2.00" fill="#dcdcdc"/>
<rect x="42.50" y="635.80" width="5.80" height="2.00" fill="#555"/>
<rect x="51.20" y="635.80" width="6.70" height="2.00" fill="#111"/>
<rect x="61.70" y="635.80" width="6.80" height="2.00" fill="#111"/>
<rect x="69.40" y="635.80" width="5.80" height="2.00" fill="#111"/>
<rect x="82.00" y="635.80" width="5.70" height="2.00" fill="#888"/>
<rect x="113.00" y="635.80" width="7.00" height="2.00" fill="#111"/>
<rect x="124.60" y="635.80" width="9.20" height="2.00" fill="#111"/>
<rect x="138.50" y="635.80" width="4.50" height="2.00" fill="#222"/>
<rect x="148.60" y="635.80" width="4.60" height="2.00" fill="#111"/>
<rect x="161.50" y="635.80" width="9.30" height="2.00" fill="#111"/>
<rect x="177.70" y="635.80" width="4.60" height="2.00" fill="#222"/>
<rect x="189.20" y="635.80" width="6.90" height="2.00" fill="#111"/>
<rect x="203.00" y="635.80" width="7.00" height="2.00" fill="#111"/>
<rect x="214.60" y="635.80" width="6.90" height="2.00" fill="#222"/>
<path d="M98.3,636.9 L101.5,635.8 L101.5,638.0 Z" fill="#d22"/>
<path d="M102,636.9 L105.5,635.8 L105.5,638.0 Z" fill="#d22"/>
<line x1="37.60" y1="644.40" x2="227.00" y2="644.40" stroke="#bdbdbd" stroke-width="0.6"/>
<line x1="37.60" y1="650.20" x2="227.00" y2="650.20" stroke="#bdbdbd" stroke-width="0.6"/>
<line x1="37.60" y1="652.40" x2="227.00" y2="652.40" stroke="#bdbdbd" stroke-width="0.6"/>
<line x1="37.60" y1="647.50" x2="227.00" y2="647.50" stroke="#9a9a9a" stroke-width="0.5"/>
<line x1="45.60" y1="654.60" x2="221.00" y2="654.60" stroke="#4a5fc1" stroke-width="0.5"/>
<text x="44.0" y="641.0" font-size="2.0" fill="#555">q8</text>
<text x="50.0" y="641.0" font-size="2.0" fill="#555">q5</text>
<text x="58.0" y="641.0" font-size="2.0" fill="#555">q4</text>
<text x="66.0" y="641.0" font-size="2.0" fill="#555">q3</text>
<text x="74.0" y="641.0" font-size="2.0" fill="#555">q2</text>
<text x="84.0" y="641.0" font-size="2.0" fill="#555">q3</text>
<text x="92.0" y="641.0" font-size="2.0" fill="#555">q2</text>
<text x="100.0" y="641.0" font-size="2.0" fill="#555">q1</text>
<text x="110.0" y="641.0" font-size="2.0" fill="#555">q2</text>
<text x="118.0" y="641.0" font-size="2.0" fill="#555">q1</text>
<text x="126.0" y="641.0" font-size="2.0" fill="#555">q0</text>
<text x="136.0" y="641.0" font-size="2.0" fill="#555">q1</text>
<text x="144.0" y="641.0" font-size="2.0" fill="#555">q0</text>
<text x="152.0" y="641.0" font-size="2.0" fill="#555">q8</text>
<text x="160.0" y="641.0" font-size="2.0" fill="#555">q7</text>
<text x="168.0" y="641.0" font-size="2.0" fill="#555">q6</text>
<text x="176.0" y="641.0" font-size="2.0" fill="#555">q5</text>
<text x="186.0" y="641.0" font-size="2.0" fill="#555">q6</text>
<text x="196.0" y="641.0" font-size="2.0" fill="#555">q7</text>
<text x="206.0" y="641.0" font-size="2.0" fill="#555">q8</text>
<text x="214.0" y="641.0" font-size="2.0" fill="#555">q7</text>
<text x="222.0" y="641.0" font-size="2.0" fill="#555">q6</text>
<rect x="51.40" y="653.60" width="1.20" height="2.00" fill="#3b50c0"/>
<rect x="61.40" y="653.60" width="1.20" height="2.00" fill="#3b50c0"/>
<rect x="69.40" y="653.60" width="1.20" height="2.00" fill="#3b50c0"/>
<rect x="79.40" y="653.60" width="1.20" height="2.00" fill="#3b50c0"/>
<rect x="89.40" y="653.60" width="1.20" height="2.00" fill="#3b50c0"/>
<rect x="99.40" y="653.60" width="1.20" height="2.00" fill="#3b50c0"/>
<rect x="111.40" y="653.60" width="1.20" height="2.00" fill="#3b50c0"/>
<rect x="121.40" y="653.60" width="1.20" height="2.00" fill="#3b50c0"/>
<rect x="131.40" y="653.60" width="1.20" height="2.00" fill="#3b50c0"/>
<rect x="141.40" y="653.60" width="1.20" height="2.00" fill="#3b50c0"/>
<rect x="151.40" y="653.60" width="1.20" height="2.00" fill="#3b50c0"/>
<rect x="161.40" y="653.60" width="1.20" height="2.00" fill="#3b50c0"/>
<rect x="171.40" y="653.60" width="1.20" height="2.00" fill="#3b50c0"/>
<rect x="181.40" y="653.60" width="1.20" height="2.00" fill="#3b50c0"/>
<rect x="191.40" y="653.60" width="1.20" height="2.00" fill="#3b50c0"/>
<rect x="201.40" y="653.60" width="1.20" height="2.00" fill="#3b50c0"/>
<rect x="211.40" y="653.60" width="1.20" height="2.00" fill="#3b50c0"/>
<rect x="221.40" y="653.60" width="1.20" height="2.00" fill="#3b50c0"/>
<rect x="60.00" y="653.40" width="5.00" height="2.40" fill="#2436b0"/>
<rect x="112.00" y="653.40" width="5.00" height="2.40" fill="#2436b0"/>
<rect x="150.00" y="653.40" width="6.00" height="2.40" fill="#2436b0"/>
<rect x="192.00" y="653.40" width="5.00" height="2.40" fill="#2436b0"/>
<text x="63.0" y="660.2" font-size="2.4" fill="#555">Tcf21</text>
<text x="97.0" y="646.8" font-size="2.2" fill="#555">94 kb</text>
<text x="160.0" y="646.8" font-size="2.2" fill="#555">Gm</text>
<polygon points="37.8,669.5 37.8,667.73 38.3,667.98 38.8,668.31 39.3,667.97 39.8,666.97 40.3,665.96 40.8,665.67 41.3,666.18 41.8,666.93 42.3,667.33 42.8,667.29 43.3,667.10 43.8,667.12 44.3,667.45 44.8,668.00 45.3,668.56 45.8,668.94 46.3,668.80 46.8,667.71 47.3,666.55 47.8,667.02 48.3,668.13 48.8,668.23 49.3,667.52 49.8,666.77 50.3,666.42 50.8,666.39 51.3,666.05 51.8,665.11 52.3,664.46 52.8,665.17 53.3,666.85 53.8,668.06 54.3,667.97 54.8,666.69 55.3,664.93 55.8,663.84 56.3,664.24 56.8,665.79 57.3,667.22 57.8,667.17 58.3,666.03 58.8,666.17 59.3,667.68 59.8,668.50 60.3,668.37 60.8,667.95 61.3,667.55 61.8,667.25 62.3,667.00 62.8,666.68 63.3,666.22 63.8,665.71 64.3,665.36 64.8,665.36 65.3,665.72 65.8,666.20 66.3,666.41 66.8,666.10 67.3,665.36 67.8,664.62 68.3,664.34 68.8,664.66 69.3,665.34 69.8,666.04 70.3,666.64 70.8,667.20 71.3,667.77 71.8,668.34 72.3,668.80 72.8,668.98 73.3,668.61 73.8,667.81 74.3,667.60 74.8,668.37 75.3,669.05 75.8,669.05 76.3,669.05 76.8,669.05 77.3,669.05 77.8,669.05 78.3,669.05 78.8,668.37 79.3,666.55 79.8,664.50 80.3,664.02 80.8,665.62 81.3,667.71 81.8,668.85 82.3,668.54 82.8,666.57 83.3,664.63 83.8,665.14 84.3,666.44 84.8,666.77 85.3,667.06 85.8,667.77 86.3,668.26 86.8,668.13 87.3,667.64 87.8,667.30 88.3,667.38 88.8,667.81 89.3,668.24 89.8,668.37 90.3,668.16 90.8,667.76 91.3,667.42 91.8,667.32 92.3,667.54 92.8,667.99 93.3,668.50 93.8,668.93 94.3,669.05 94.8,669.05 95.3,669.05 95.8,669.05 96.3,668.28 96.8,666.90 97.3,665.53 97.8,665.13 98.3,665.87 98.8,666.49 99.3,665.96 99.8,665.67 100.3,666.97 100.8,668.41 101.3,668.76 101.8,668.40 102.3,667.86 102.8,667.44 103.3,667.25 103.8,667.22 104.3,667.06 104.8,666.52 105.3,665.56 105.8,664.46 106.3,663.67 106.8,663.55 107.3,664.20 107.8,665.37 108.3,666.65 108.8,667.54 109.3,667.66 109.8,667.00 110.3,666.31 110.8,666.47 111.3,667.37 111.8,668.14 112.3,668.30 112.8,668.04 113.3,667.70 113.8,667.46 114.3,667.29 114.8,667.02 115.3,666.50 115.8,665.77 116.3,665.12 116.8,664.63 117.3,663.91 117.8,662.95 118.3,662.89 118.8,664.51 119.3,666.75 119.8,668.16 120.3,668.50 120.8,668.30 121.3,668.01 121.8,667.86 122.3,667.92 122.8,668.18 123.3,668.54 123.8,668.89 124.3,669.05 124.8,669.05 125.3,669.05 125.8,669.05 126.3,669.05 126.8,669.05 127.3,669.05 127.8,669.05 128.3,669.05 128.8,668.97 129.3,668.07 129.8,666.81 130.3,665.98 130.8,666.14 131.3,666.50 131.8,665.73 132.3,664.36 132.8,664.49 133.3,666.13 133.8,667.35 134.3,667.56 134.8,667.45 135.3,667.51 135.8,667.56 136.3,667.28 136.8,666.64 137.3,665.99 137.8,665.64 138.3,665.12 138.8,663.99 139.3,663.70 139.8,665.12 140.3,666.25 140.8,666.25 141.3,666.41 141.8,667.31 142.3,668.29 142.8,668.41 143.3,666.95 143.8,664.35 144.3,662.96 144.8,663.98 145.3,665.44 145.8,665.74 146.3,665.31 146.8,664.96 147.3,665.00 147.8,665.38 148.3,666.00 148.8,666.73 149.3,667.44 149.8,667.80 150.3,667.23 150.8,665.82 151.3,665.18 151.8,665.90 152.3,666.44 152.8,666.32 153.3,666.32 153.8,666.67 154.3,666.84 154.8,666.62 155.3,666.42 155.8,666.16 156.3,665.32 156.8,664.26 157.3,664.03 157.8,665.03 158.3,666.65 158.8,667.97 159.3,668.44 159.8,668.02 160.3,666.93 160.8,665.66 161.3,664.92 161.8,665.07 162.3,665.69 162.8,665.85 163.3,665.48 163.8,665.52 164.3,666.03 164.8,666.37 165.3,666.67 165.8,667.30 166.3,668.05 166.8,668.48 167.3,668.37 167.8,667.83 168.3,667.19 168.8,666.88 169.3,667.04 169.8,667.46 170.3,667.75 170.8,667.72 171.3,667.43 171.8,667.14 172.3,667.00 172.8,667.03 173.3,667.16 173.8,667.30 174.3,667.39 174.8,667.37 175.3,667.18 175.8,666.83 176.3,666.44 176.8,666.25 177.3,666.39 177.8,666.84 178.3,667.37 178.8,667.77 179.3,667.92 179.8,667.91 180.3,667.88 180.8,667.97 181.3,668.20 181.8,668.51 182.3,668.74 182.8,668.71 183.3,668.31 183.8,667.69 184.3,667.21 184.8,667.08 185.3,667.14 185.8,667.16 186.3,667.17 186.8,667.34 187.3,667.60 187.8,667.53 188.3,667.00 188.8,666.76 189.3,667.47 189.8,668.56 190.3,669.05 190.8,669.05 191.3,669.05 191.8,669.05 192.3,669.05 192.8,669.05 193.3,668.90 193.8,668.07 194.3,666.92 194.8,665.97 195.3,665.83 195.8,666.60 196.3,667.75 196.8,668.70 197.3,669.05 197.8,669.05 198.3,669.05 198.8,669.05 199.3,669.05 199.8,669.05 200.3,669.05 200.8,668.35 201.3,666.67 201.8,665.28 202.3,665.69 202.8,667.41 203.3,668.79 203.8,669.05 204.3,668.78 204.8,666.98 205.3,664.45 205.8,663.74 206.3,664.96 206.8,665.64 207.3,665.30 207.8,664.87 208.3,664.79 208.8,664.97 209.3,665.08 209.8,664.85 210.3,664.27 210.8,663.66 211.3,663.49 211.8,663.94 212.3,664.82 212.8,665.63 213.3,665.92 213.8,665.57 214.3,664.84 214.8,664.19 215.3,663.97 215.8,664.14 216.3,664.39 216.8,664.40 217.3,664.17 217.8,664.00 218.3,664.20 218.8,664.83 219.3,665.59 219.8,666.12 220.3,666.19 220.8,665.91 221.3,665.56 221.8,665.43 222.3,665.62 222.8,665.96 223.3,666.18 223.8,666.05 224.3,665.53 224.8,664.88 225.3,664.43 225.8,664.47 226.0,669.5" fill="#1f988b"/>
<text transform="translate(32.80,670.00)" font-size="6.6" text-anchor="end" fill="#231f20" stroke="#231f20" stroke-width="0.08" textLength="20.40" lengthAdjust="spacingAndGlyphs">WT1 #1</text>
<polygon points="37.8,677.8 37.8,677.09 38.3,676.51 38.8,675.76 39.3,674.97 39.8,674.36 40.3,674.13 40.8,674.34 41.3,674.88 41.8,675.48 42.3,675.90 42.8,676.00 43.3,675.85 43.8,675.64 44.3,675.59 44.8,675.79 45.3,676.07 45.8,675.79 46.3,674.28 46.8,672.38 47.3,672.37 47.8,674.39 48.3,675.96 48.8,675.69 49.3,674.30 49.8,673.23 50.3,673.15 50.8,673.52 51.3,673.82 51.8,674.17 52.3,674.80 52.8,675.64 53.3,676.46 53.8,677.08 54.3,677.35 54.8,677.35 55.3,677.35 55.8,677.35 56.3,677.35 56.8,676.25 57.3,674.26 57.8,673.78 58.3,675.54 58.8,677.16 59.3,677.35 59.8,677.35 60.3,677.35 60.8,677.07 61.3,676.35 61.8,675.45 62.3,674.66 62.8,674.25 63.3,674.24 63.8,674.36 64.3,674.34 64.8,674.16 65.3,674.04 65.8,674.23 66.3,674.75 66.8,675.39 67.3,675.82 67.8,675.76 68.3,675.17 68.8,674.27 69.3,673.48 69.8,673.06 70.3,672.99 70.8,672.99 71.3,672.89 71.8,672.82 72.3,673.03 72.8,673.67 73.3,674.61 73.8,675.49 74.3,675.92 74.8,675.80 75.3,675.56 75.8,675.79 76.3,676.49 76.8,677.21 77.3,677.35 77.8,677.35 78.3,677.35 78.8,677.35 79.3,677.35 79.8,677.17 80.3,676.69 80.8,676.22 81.3,675.92 81.8,675.79 82.3,675.66 82.8,675.39 83.3,675.09 83.8,675.04 84.3,675.38 84.8,675.91 85.3,676.21 85.8,675.98 86.3,675.30 86.8,674.63 87.3,674.51 87.8,675.02 88.3,675.75 88.8,676.14 89.3,675.90 89.8,675.12 90.3,674.17 90.8,673.51 91.3,673.47 91.8,674.08 92.3,675.08 92.8,676.11 93.3,676.91 93.8,677.35 94.3,677.35 94.8,677.35 95.3,677.35 95.8,676.85 96.3,676.00 96.8,675.47 97.3,675.62 97.8,675.97 98.3,675.89 98.8,675.30 99.3,674.55 99.8,674.00 100.3,673.81 100.8,673.96 101.3,674.36 101.8,674.93 102.3,675.57 102.8,676.17 103.3,676.51 103.8,676.37 104.3,675.67 104.8,674.74 105.3,673.96 105.8,673.30 106.3,672.54 106.8,671.74 107.3,671.24 107.8,671.28 108.3,671.82 108.8,672.71 109.3,673.73 109.8,674.68 110.3,675.18 110.8,674.81 111.3,674.14 111.8,674.42 112.3,675.30 112.8,675.62 113.3,675.40 113.8,675.19 114.3,675.27 114.8,675.64 115.3,676.14 115.8,676.55 116.3,676.64 116.8,676.19 117.3,675.17 117.8,673.85 118.3,672.74 118.8,672.26 119.3,672.42 119.8,672.84 120.3,673.23 120.8,673.57 121.3,673.99 121.8,674.47 122.3,674.82 122.8,674.93 123.3,674.90 123.8,674.98 124.3,675.35 124.8,675.97 125.3,676.63 125.8,677.15 126.3,677.35 126.8,677.35 127.3,676.99 127.8,676.37 128.3,675.67 128.8,675.19 129.3,675.14 129.8,675.39 130.3,675.60 130.8,675.44 131.3,674.89 131.8,674.24 132.3,673.88 132.8,674.06 133.3,674.73 133.8,675.65 134.3,676.51 134.8,677.14 135.3,677.35 135.8,677.14 136.3,675.73 136.8,674.10 137.3,674.51 137.8,676.29 138.3,677.12 138.8,676.60 139.3,675.10 139.8,673.09 140.3,671.42 140.8,671.13 141.3,671.13 141.8,671.13 142.3,671.57 142.8,672.55 143.3,673.65 143.8,674.40 144.3,674.61 144.8,674.52 145.3,674.55 145.8,674.96 146.3,675.66 146.8,676.37 147.3,676.74 147.8,676.47 148.3,675.60 148.8,674.76 149.3,674.76 149.8,675.66 150.3,676.73 150.8,677.24 151.3,676.74 151.8,674.96 152.3,672.85 152.8,672.46 153.3,673.83 153.8,674.76 154.3,674.26 154.8,673.13 155.3,672.44 155.8,672.58 156.3,672.98 156.8,672.86 157.3,673.27 157.8,675.18 158.3,676.96 158.8,677.35 159.3,677.35 159.8,677.35 160.3,677.35 160.8,677.35 161.3,677.35 161.8,676.52 162.3,675.12 162.8,673.59 163.3,672.62 163.8,672.39 164.3,672.34 164.8,672.00 165.3,671.50 165.8,671.21 166.3,671.33 166.8,671.86 167.3,672.73 167.8,673.87 168.3,675.09 168.8,676.17 169.3,676.96 169.8,677.35 170.3,677.35 170.8,677.35 171.3,677.35 171.8,677.35 172.3,676.82 172.8,675.73 173.3,674.21 173.8,672.60 174.3,671.41 174.8,671.13 175.3,671.13 175.8,671.42 176.3,671.85 176.8,672.09 177.3,672.04 177.8,671.86 178.3,672.01 178.8,672.79 179.3,673.88 179.8,674.67 180.3,675.09 180.8,675.71 181.3,676.63 181.8,677.35 182.3,677.35 182.8,677.35 183.3,677.35 183.8,677.35 184.3,677.35 184.8,677.35 185.3,677.35 185.8,676.98 186.3,676.53 186.8,676.15 187.3,676.04 187.8,676.24 188.3,676.66 188.8,677.11 189.3,677.35 189.8,676.99 190.3,675.16 190.8,673.58 191.3,674.78 191.8,675.91 192.3,674.94 192.8,674.49 193.3,675.91 193.8,677.23 194.3,677.25 194.8,675.54 195.3,672.74 195.8,672.11 196.3,673.81 196.8,674.75 197.3,674.80 197.8,674.92 198.3,674.90 198.8,673.95 199.3,672.30 199.8,671.56 200.3,672.37 200.8,673.42 201.3,673.80 201.8,673.85 202.3,673.60 202.8,672.58 203.3,672.22 203.8,673.82 204.3,675.02 204.8,674.59 205.3,673.63 205.8,673.14 206.3,673.46 206.8,674.21 207.3,674.69 207.8,674.49 208.3,673.90 208.8,673.68 209.3,674.28 209.8,675.45 210.3,676.57 210.8,677.27 211.3,677.35 211.8,677.35 212.3,677.26 212.8,676.83 213.3,676.25 213.8,675.63 214.3,675.13 214.8,674.92 215.3,675.07 215.8,675.53 216.3,676.09 216.8,676.53 217.3,676.62 217.8,676.32 218.3,675.82 218.8,675.47 219.3,675.39 219.8,675.36 220.3,675.09 220.8,674.62 221.3,674.28 221.8,674.31 222.3,674.55 222.8,674.62 223.3,674.42 223.8,674.24 224.3,674.27 224.8,674.29 225.3,674.17 225.8,674.23 226.0,677.8" fill="#1f988b"/>
<text transform="translate(32.80,679.30)" font-size="6.6" text-anchor="end" fill="#231f20" stroke="#231f20" stroke-width="0.08" textLength="20.40" lengthAdjust="spacingAndGlyphs">WT1 #2</text>
<polygon points="37.8,686.7 37.8,686.70 38.3,686.70 38.8,686.70 39.3,686.70 39.8,686.70 40.3,686.70 40.8,686.70 41.3,686.70 41.8,684.22 42.3,684.05 42.8,684.08 43.3,684.18 43.8,684.22 44.3,684.10 44.8,683.81 45.3,683.48 45.8,683.48 46.3,683.48 46.8,683.75 47.3,684.56 47.8,685.38 48.3,685.93 48.8,686.14 49.3,686.05 49.8,685.78 50.3,685.47 50.8,685.24 51.3,685.20 51.8,685.35 52.3,685.60 52.8,685.77 53.3,685.69 53.8,685.31 54.3,684.87 54.8,684.74 55.3,685.10 55.8,685.71 56.3,686.24 56.8,686.25 57.3,686.25 57.8,686.25 58.3,686.25 58.8,686.25 59.3,686.17 59.8,685.96 60.3,685.79 60.8,685.65 61.3,685.47 61.8,685.15 62.3,684.76 62.8,684.47 63.3,684.50 63.8,684.89 64.3,685.47 64.8,686.01 65.3,686.25 65.8,686.25 66.3,686.25 66.8,686.25 67.3,686.25 67.8,686.25 68.3,686.25 68.8,686.70 69.3,686.70 69.8,686.70 70.3,686.70 70.8,686.25 71.3,686.25 71.8,686.25 72.3,685.41 72.8,684.14 73.3,683.48 73.8,683.48 74.3,686.70 74.8,686.70 75.3,686.70 75.8,686.70 76.3,686.70 76.8,685.34 77.3,685.67 77.8,685.70 78.3,685.45 78.8,685.03 79.3,684.58 79.8,684.21 80.3,683.81 80.8,686.70 81.3,686.70 81.8,686.70 82.3,686.70 82.8,686.70 83.3,686.70 83.8,686.25 84.3,686.25 84.8,686.25 85.3,686.25 85.8,686.25 86.3,686.25 86.8,686.25 87.3,686.25 87.8,686.25 88.3,686.25 88.8,686.25 89.3,686.25 89.8,686.25 90.3,686.25 90.8,686.09 91.3,685.85 91.8,685.89 92.3,685.96 92.8,685.77 93.3,685.35 93.8,684.91 94.3,684.59 94.8,684.52 95.3,684.72 95.8,685.11 96.3,685.59 96.8,686.01 97.3,686.25 97.8,686.25 98.3,686.25 98.8,686.25 99.3,686.25 99.8,686.25 100.3,686.25 100.8,686.25 101.3,686.25 101.8,686.25 102.3,686.25 102.8,686.25 103.3,686.25 103.8,686.25 104.3,686.25 104.8,686.25 105.3,686.70 105.8,686.70 106.3,686.70 106.8,686.70 107.3,686.70 107.8,686.25 108.3,686.25 108.8,686.25 109.3,686.25 109.8,686.25 110.3,686.25 110.8,686.25 111.3,686.25 111.8,686.25 112.3,686.25 112.8,686.25 113.3,686.25 113.8,686.25 114.3,686.25 114.8,685.95 115.3,685.56 115.8,685.32 116.3,685.33 116.8,685.52 117.3,685.71 117.8,685.81 118.3,685.88 118.8,685.98 119.3,686.14 119.8,686.25 120.3,686.25 120.8,686.25 121.3,686.25 121.8,686.25 122.3,686.25 122.8,686.25 123.3,686.08 123.8,685.72 124.3,685.38 124.8,685.15 125.3,685.02 125.8,684.92 126.3,684.78 126.8,684.60 127.3,684.40 127.8,684.19 128.3,683.95 128.8,683.74 129.3,683.70 129.8,683.97 130.3,684.53 130.8,685.21 131.3,685.74 131.8,685.92 132.3,685.74 132.8,685.42 133.3,685.34 133.8,685.59 134.3,685.86 134.8,685.79 135.3,685.28 135.8,684.56 136.3,684.03 136.8,684.01 137.3,684.52 137.8,685.28 138.3,685.95 138.8,686.25 139.3,686.12 139.8,685.78 140.3,685.87 140.8,686.25 141.3,686.25 141.8,686.25 142.3,686.25 142.8,686.25 143.3,686.25 143.8,686.25 144.3,686.25 144.8,686.25 145.3,686.25 145.8,686.25 146.3,686.25 146.8,686.25 147.3,686.25 147.8,686.25 148.3,686.25 148.8,686.25 149.3,686.25 149.8,686.25 150.3,686.25 150.8,686.25 151.3,686.25 151.8,686.25 152.3,686.25 152.8,686.25 153.3,686.25 153.8,686.25 154.3,686.25 154.8,686.25 155.3,686.70 155.8,686.70 156.3,686.70 156.8,686.70 157.3,686.25 157.8,686.25 158.3,686.25 158.8,686.25 159.3,686.25 159.8,686.25 160.3,685.97 160.8,685.37 161.3,684.73 161.8,684.28 162.3,684.27 162.8,684.68 163.3,685.33 163.8,685.93 164.3,686.25 164.8,686.25 165.3,686.25 165.8,686.25 166.3,686.25 166.8,686.25 167.3,686.25 167.8,686.25 168.3,686.70 168.8,686.70 169.3,686.70 169.8,686.70 170.3,686.70 170.8,686.70 171.3,686.70 171.8,684.14 172.3,684.21 172.8,684.37 173.3,684.57 173.8,684.88 174.3,685.29 174.8,685.74 175.3,686.12 175.8,686.25 176.3,686.25 176.8,686.25 177.3,686.25 177.8,686.25 178.3,686.25 178.8,686.25 179.3,686.25 179.8,686.25 180.3,686.25 180.8,686.25 181.3,686.25 181.8,686.25 182.3,686.25 182.8,685.78 183.3,684.81 183.8,683.91 184.3,686.70 184.8,686.70 185.3,686.70 185.8,686.70 186.3,684.58 186.8,685.18 187.3,685.75 187.8,686.19 188.3,686.25 188.8,686.25 189.3,686.25 189.8,686.25 190.3,686.25 190.8,686.25 191.3,686.25 191.8,686.25 192.3,686.25 192.8,686.25 193.3,686.25 193.8,686.25 194.3,686.25 194.8,686.25 195.3,686.25 195.8,686.25 196.3,686.25 196.8,686.25 197.3,686.25 197.8,686.25 198.3,686.70 198.8,686.70 199.3,686.70 199.8,686.70 200.3,686.70 200.8,686.70 201.3,686.25 201.8,686.25 202.3,686.25 202.8,686.25 203.3,686.25 203.8,685.75 204.3,685.14 204.8,684.70 205.3,684.70 205.8,685.14 206.3,685.76 206.8,686.25 207.3,686.25 207.8,686.25 208.3,686.25 208.8,686.25 209.3,686.70 209.8,686.70 210.3,686.70 210.8,686.25 211.3,686.25 211.8,686.25 212.3,686.25 212.8,686.25 213.3,686.25 213.8,686.25 214.3,685.43 214.8,684.13 215.3,683.48 215.8,683.48 216.3,683.48 216.8,683.48 217.3,683.48 217.8,683.48 218.3,683.48 218.8,683.82 219.3,684.39 219.8,685.08 220.3,685.72 220.8,686.21 221.3,686.25 221.8,686.25 222.3,686.25 222.8,686.25 223.3,686.25 223.8,685.32 224.3,684.55 224.8,685.22 225.3,686.25 225.8,686.25 226.0,686.7" fill="#1f988b"/>
<text transform="translate(32.80,687.80)" font-size="6.6" text-anchor="end" fill="#231f20" stroke="#231f20" stroke-width="0.08" textLength="20.40" lengthAdjust="spacingAndGlyphs">WT1 #3</text>
<polygon points="37.8,694.7 37.8,694.25 38.3,694.25 38.8,694.21 39.3,693.94 39.8,693.77 40.3,693.82 40.8,694.05 41.3,694.25 41.8,694.25 42.3,694.25 42.8,694.12 43.3,693.84 43.8,693.58 44.3,693.41 44.8,693.27 45.3,693.07 45.8,692.88 46.3,692.90 46.8,693.26 47.3,693.71 47.8,693.99 48.3,694.02 48.8,693.94 49.3,693.89 49.8,693.94 50.3,694.08 50.8,694.25 51.3,694.25 51.8,694.25 52.3,694.25 52.8,694.25 53.3,694.25 53.8,694.05 54.3,694.70 54.8,694.70 55.3,694.70 55.8,694.25 56.3,694.25 56.8,694.25 57.3,694.25 57.8,694.20 58.3,693.87 58.8,693.65 59.3,693.66 59.8,693.80 60.3,693.75 60.8,693.48 61.3,693.32 61.8,693.34 62.3,693.17 62.8,692.75 63.3,692.28 63.8,691.90 64.3,691.69 64.8,694.70 65.3,694.70 65.8,694.70 66.3,693.32 66.8,693.90 67.3,694.25 67.8,694.25 68.3,694.25 68.8,694.25 69.3,694.25 69.8,694.25 70.3,694.18 70.8,693.82 71.3,693.39 71.8,692.97 72.3,692.64 72.8,692.44 73.3,692.35 73.8,692.31 74.3,692.28 74.8,692.24 75.3,692.23 75.8,692.31 76.3,692.53 76.8,692.87 77.3,693.27 77.8,693.56 78.3,693.63 78.8,693.46 79.3,693.24 79.8,693.21 80.3,693.36 80.8,693.50 81.3,693.55 81.8,693.69 82.3,694.00 82.8,694.25 83.3,694.25 83.8,694.70 84.3,694.70 84.8,694.25 85.3,694.03 85.8,694.02 86.3,694.25 86.8,694.25 87.3,694.25 87.8,694.25 88.3,693.41 88.8,693.04 89.3,693.76 89.8,694.25 90.3,694.25 90.8,694.25 91.3,693.66 91.8,693.05 92.3,693.05 92.8,693.65 93.3,694.22 93.8,694.22 94.3,693.47 94.8,692.50 95.3,692.46 95.8,693.42 96.3,694.25 96.8,694.25 97.3,694.25 97.8,694.25 98.3,694.25 98.8,694.25 99.3,694.25 99.8,694.25 100.3,694.25 100.8,694.24 101.3,693.98 101.8,693.70 102.3,693.46 102.8,693.30 103.3,693.24 103.8,693.27 104.3,693.36 104.8,693.45 105.3,693.48 105.8,693.42 106.3,693.37 106.8,693.47 107.3,693.79 107.8,694.17 108.3,694.25 108.8,694.25 109.3,694.25 109.8,694.25 110.3,694.25 110.8,694.25 111.3,694.25 111.8,694.25 112.3,694.25 112.8,694.25 113.3,693.82 113.8,692.32 114.3,691.74 114.8,692.50 115.3,692.69 115.8,692.21 116.3,692.02 116.8,692.46 117.3,693.25 117.8,693.97 118.3,694.25 118.8,694.25 119.3,694.25 119.8,694.25 120.3,694.70 120.8,694.70 121.3,694.70 121.8,693.59 122.3,693.61 122.8,693.78 123.3,694.04 123.8,694.25 124.3,694.25 124.8,693.88 125.3,692.92 125.8,692.04 126.3,694.70 126.8,694.70 127.3,694.70 127.8,694.70 128.3,692.41 128.8,692.22 129.3,691.90 129.8,691.65 130.3,692.00 130.8,692.50 131.3,692.81 131.8,693.27 132.3,693.94 132.8,694.25 133.3,694.25 133.8,694.25 134.3,694.25 134.8,694.25 135.3,693.42 135.8,692.10 136.3,691.65 136.8,692.26 137.3,692.71 137.8,692.73 138.3,692.87 138.8,693.34 139.3,693.91 139.8,694.25 140.3,694.25 140.8,694.16 141.3,693.78 141.8,693.64 142.3,693.87 142.8,694.07 143.3,693.79 143.8,693.06 144.3,692.33 144.8,692.17 145.3,692.73 145.8,693.58 146.3,694.23 146.8,694.25 147.3,694.25 147.8,694.25 148.3,694.25 148.8,694.25 149.3,694.25 149.8,694.11 150.3,693.78 150.8,693.45 151.3,693.21 151.8,693.15 152.3,693.28 152.8,693.56 153.3,693.82 153.8,693.88 154.3,693.66 154.8,693.36 155.3,693.39 155.8,693.81 156.3,694.25 156.8,694.25 157.3,694.25 157.8,694.25 158.3,694.25 158.8,694.25 159.3,694.19 159.8,693.77 160.3,693.22 160.8,692.69 161.3,692.35 161.8,692.35 162.3,692.67 162.8,693.19 163.3,693.64 163.8,693.72 164.3,693.41 164.8,693.28 165.3,693.59 165.8,693.76 166.3,694.70 166.8,694.70 167.3,694.70 167.8,692.11 168.3,692.29 168.8,692.79 169.3,693.41 169.8,693.95 170.3,694.20 170.8,693.80 171.3,692.67 171.8,692.06 172.3,692.88 172.8,693.83 173.3,694.00 173.8,693.74 174.3,693.43 174.8,693.17 175.3,692.92 175.8,692.61 176.3,692.35 176.8,692.36 177.3,692.78 177.8,693.43 178.3,694.01 178.8,694.25 179.3,694.25 179.8,693.89 180.3,693.24 180.8,692.43 181.3,691.67 181.8,691.48 182.3,691.48 182.8,691.48 183.3,691.63 183.8,692.11 184.3,692.45 184.8,692.52 185.3,692.34 185.8,692.07 186.3,691.91 186.8,691.93 187.3,692.14 187.8,692.48 188.3,692.87 188.8,693.29 189.3,693.69 189.8,694.04 190.3,694.25 190.8,694.25 191.3,694.25 191.8,694.25 192.3,694.25 192.8,694.18 193.3,693.83 193.8,693.48 194.3,693.27 194.8,693.29 195.3,693.54 195.8,693.91 196.3,694.24 196.8,694.25 197.3,694.25 197.8,694.25 198.3,694.25 198.8,693.80 199.3,693.18 199.8,692.81 200.3,692.58 200.8,692.27 201.3,692.04 201.8,692.07 202.3,692.29 202.8,692.55 203.3,692.86 203.8,693.25 204.3,693.68 204.8,694.07 205.3,694.25 205.8,694.25 206.3,694.25 206.8,694.22 207.3,694.03 207.8,693.96 208.3,694.05 208.8,694.18 209.3,694.06 209.8,693.49 210.3,692.61 210.8,692.01 211.3,692.21 211.8,693.07 212.3,693.93 212.8,694.25 213.3,694.25 213.8,694.25 214.3,694.25 214.8,694.25 215.3,694.22 215.8,693.73 216.3,693.05 216.8,692.38 217.3,691.99 217.8,692.07 218.3,692.56 218.8,693.18 219.3,693.62 219.8,693.73 220.3,693.51 220.8,694.70 221.3,694.70 221.8,694.70 222.3,694.70 222.8,693.36 223.3,693.83 223.8,694.21 224.3,694.25 224.8,694.25 225.3,694.25 225.8,694.25 226.0,694.7" fill="#111"/>
<text transform="translate(32.80,695.90)" font-size="6.6" text-anchor="end" fill="#231f20" stroke="#231f20" stroke-width="0.08" textLength="21.90" lengthAdjust="spacingAndGlyphs">CTRL #1</text>
<polygon points="37.8,703.7 37.8,703.70 38.3,703.70 38.8,703.70 39.3,703.70 39.8,703.70 40.3,703.70 40.8,703.70 41.3,702.80 41.8,702.72 42.3,702.89 42.8,703.14 43.3,703.25 43.8,703.25 44.3,703.16 44.8,703.08 45.3,703.10 45.8,703.21 46.3,703.25 46.8,703.25 47.3,703.25 47.8,703.25 48.3,703.25 48.8,703.25 49.3,703.25 49.8,703.25 50.3,703.25 50.8,703.25 51.3,703.25 51.8,703.25 52.3,703.70 52.8,703.70 53.3,703.70 53.8,703.70 54.3,703.70 54.8,703.70 55.3,703.70 55.8,702.61 56.3,702.42 56.8,702.67 57.3,703.17 57.8,703.25 58.3,703.25 58.8,703.25 59.3,703.25 59.8,703.25 60.3,703.25 60.8,703.25 61.3,703.25 61.8,703.25 62.3,703.25 62.8,703.25 63.3,703.25 63.8,703.25 64.3,703.25 64.8,703.25 65.3,703.70 65.8,703.70 66.3,703.70 66.8,703.70 67.3,703.70 67.8,703.70 68.3,703.70 68.8,703.70 69.3,702.79 69.8,703.24 70.3,703.25 70.8,703.25 71.3,703.25 71.8,703.25 72.3,703.25 72.8,703.25 73.3,703.25 73.8,703.25 74.3,703.25 74.8,703.25 75.3,703.25 75.8,703.05 76.3,702.81 76.8,702.75 77.3,703.70 77.8,703.70 78.3,703.70 78.8,703.70 79.3,703.70 79.8,703.70 80.3,703.25 80.8,703.25 81.3,703.25 81.8,703.25 82.3,703.25 82.8,703.14 83.3,702.86 83.8,702.79 84.3,702.99 84.8,703.25 85.3,703.25 85.8,703.25 86.3,703.25 86.8,703.06 87.3,702.71 87.8,702.52 88.3,702.64 88.8,702.94 89.3,703.19 89.8,703.16 90.3,702.85 90.8,703.70 91.3,703.70 91.8,703.70 92.3,703.70 92.8,703.70 93.3,703.25 93.8,703.25 94.3,703.25 94.8,703.25 95.3,703.25 95.8,703.25 96.3,703.25 96.8,703.25 97.3,703.25 97.8,703.25 98.3,703.25 98.8,703.25 99.3,702.97 99.8,702.29 100.3,702.45 100.8,703.19 101.3,703.25 101.8,703.25 102.3,703.25 102.8,703.02 103.3,702.64 103.8,702.40 104.3,702.35 104.8,702.37 105.3,702.38 105.8,702.37 106.3,702.46 106.8,702.65 107.3,702.85 107.8,702.98 108.3,703.05 108.8,703.15 109.3,703.70 109.8,703.70 110.3,703.70 110.8,703.70 111.3,703.70 111.8,702.86 112.3,702.50 112.8,702.53 113.3,702.85 113.8,703.02 114.3,703.05 114.8,703.25 115.3,703.25 115.8,703.25 116.3,703.25 116.8,703.25 117.3,703.25 117.8,703.22 118.3,703.01 118.8,702.87 119.3,702.83 119.8,702.83 120.3,702.66 120.8,702.19 121.3,701.98 121.8,701.98 122.3,701.98 122.8,702.13 123.3,702.26 123.8,702.47 124.3,702.79 124.8,703.13 125.3,703.25 125.8,703.25 126.3,703.25 126.8,703.25 127.3,703.70 127.8,703.70 128.3,703.70 128.8,703.70 129.3,703.70 129.8,703.70 130.3,703.70 130.8,703.25 131.3,703.25 131.8,703.25 132.3,703.25 132.8,703.25 133.3,703.25 133.8,703.25 134.3,703.70 134.8,703.70 135.3,703.70 135.8,703.70 136.3,703.70 136.8,703.25 137.3,703.25 137.8,703.23 138.3,703.21 138.8,703.25 139.3,703.25 139.8,703.25 140.3,703.25 140.8,703.25 141.3,703.10 141.8,703.02 142.3,703.19 142.8,703.25 143.3,703.25 143.8,703.25 144.3,703.25 144.8,703.25 145.3,703.25 145.8,703.25 146.3,703.70 146.8,703.70 147.3,703.70 147.8,703.70 148.3,702.96 148.8,702.95 149.3,703.06 149.8,703.25 150.3,703.25 150.8,703.25 151.3,703.25 151.8,703.25 152.3,703.25 152.8,703.25 153.3,703.25 153.8,703.25 154.3,703.25 154.8,703.25 155.3,703.25 155.8,703.08 156.3,702.83 156.8,702.67 157.3,702.66 157.8,702.83 158.3,703.08 158.8,703.25 159.3,703.25 159.8,703.25 160.3,703.25 160.8,703.25 161.3,703.25 161.8,703.25 162.3,703.25 162.8,703.25 163.3,703.25 163.8,703.25 164.3,703.25 164.8,703.25 165.3,703.25 165.8,703.70 166.3,703.70 166.8,703.70 167.3,703.70 167.8,703.25 168.3,703.25 168.8,703.08 169.3,703.11 169.8,703.25 170.3,703.25 170.8,703.25 171.3,703.25 171.8,703.25 172.3,703.25 172.8,703.25 173.3,703.25 173.8,703.25 174.3,703.25 174.8,703.25 175.3,703.25 175.8,703.25 176.3,703.25 176.8,703.25 177.3,703.25 177.8,703.01 178.3,702.73 178.8,702.51 179.3,702.42 179.8,702.51 180.3,702.73 180.8,703.01 181.3,703.25 181.8,703.25 182.3,703.25 182.8,703.25 183.3,703.25 183.8,703.25 184.3,703.25 184.8,703.25 185.3,703.25 185.8,703.25 186.3,703.25 186.8,703.25 187.3,703.25 187.8,703.25 188.3,703.25 188.8,703.25 189.3,703.25 189.8,703.25 190.3,703.25 190.8,703.25 191.3,703.25 191.8,703.25 192.3,703.25 192.8,703.25 193.3,703.25 193.8,703.25 194.3,703.70 194.8,703.70 195.3,703.70 195.8,703.70 196.3,703.70 196.8,703.25 197.3,703.25 197.8,703.25 198.3,703.25 198.8,703.25 199.3,703.25 199.8,703.25 200.3,703.25 200.8,703.25 201.3,703.25 201.8,703.25 202.3,703.25 202.8,703.25 203.3,703.25 203.8,703.25 204.3,703.25 204.8,703.25 205.3,703.25 205.8,703.25 206.3,703.25 206.8,703.25 207.3,703.25 207.8,703.25 208.3,703.16 208.8,702.92 209.3,702.71 209.8,702.58 210.3,702.50 210.8,702.45 211.3,703.70 211.8,703.70 212.3,703.70 212.8,703.70 213.3,702.73 213.8,703.03 214.3,703.25 214.8,703.25 215.3,703.19 215.8,703.05 216.3,703.03 216.8,703.02 217.3,702.65 217.8,702.35 218.3,702.79 218.8,703.21 219.3,702.92 219.8,702.50 220.3,702.76 220.8,703.25 221.3,703.25 221.8,703.25 222.3,703.25 222.8,703.25 223.3,703.70 223.8,703.70 224.3,703.70 224.8,703.70 225.3,703.70 225.8,703.25 226.0,703.7" fill="#111"/>
<text transform="translate(32.80,704.10)" font-size="6.6" text-anchor="end" fill="#231f20" stroke="#231f20" stroke-width="0.08" textLength="21.90" lengthAdjust="spacingAndGlyphs">CTRL #2</text>
<polygon points="37.8,711.8 37.8,711.80 38.3,711.80 38.8,711.80 39.3,711.80 39.8,711.35 40.3,711.35 40.8,711.35 41.3,711.35 41.8,711.35 42.3,711.35 42.8,711.35 43.3,711.35 43.8,711.35 44.3,711.80 44.8,711.80 45.3,711.80 45.8,711.80 46.3,711.80 46.8,711.80 47.3,711.80 47.8,710.74 48.3,710.98 48.8,711.25 49.3,711.35 49.8,711.35 50.3,711.35 50.8,711.35 51.3,711.35 51.8,711.35 52.3,711.35 52.8,711.35 53.3,711.35 53.8,710.99 54.3,710.48 54.8,710.16 55.3,710.23 55.8,710.65 56.3,711.15 56.8,711.35 57.3,711.35 57.8,711.35 58.3,711.35 58.8,711.35 59.3,711.35 59.8,711.35 60.3,711.80 60.8,711.80 61.3,711.80 61.8,711.80 62.3,711.80 62.8,711.28 63.3,710.88 63.8,710.48 64.3,710.27 64.8,710.37 65.3,710.71 65.8,711.13 66.3,711.35 66.8,711.35 67.3,711.35 67.8,711.35 68.3,711.03 68.8,710.72 69.3,710.68 69.8,710.95 70.3,711.31 70.8,711.35 71.3,711.13 71.8,710.88 72.3,711.24 72.8,711.35 73.3,711.35 73.8,711.35 74.3,711.35 74.8,711.35 75.3,711.35 75.8,711.35 76.3,711.33 76.8,711.16 77.3,711.12 77.8,711.24 78.3,711.35 78.8,711.35 79.3,711.35 79.8,711.35 80.3,711.35 80.8,711.35 81.3,711.35 81.8,711.35 82.3,711.35 82.8,711.35 83.3,711.35 83.8,711.35 84.3,711.35 84.8,711.35 85.3,711.35 85.8,711.35 86.3,711.35 86.8,711.35 87.3,711.35 87.8,711.35 88.3,711.35 88.8,711.80 89.3,711.80 89.8,711.80 90.3,711.80 90.8,711.80 91.3,711.35 91.8,711.35 92.3,711.35 92.8,711.35 93.3,711.15 93.8,710.84 94.3,710.51 94.8,710.20 95.3,709.96 95.8,709.84 96.3,709.90 96.8,710.15 97.3,710.53 97.8,710.95 98.3,711.31 98.8,711.35 99.3,711.35 99.8,711.35 100.3,711.35 100.8,711.35 101.3,711.35 101.8,711.35 102.3,711.35 102.8,711.35 103.3,711.35 103.8,711.35 104.3,711.35 104.8,711.35 105.3,711.10 105.8,710.80 106.3,710.98 106.8,711.35 107.3,711.35 107.8,711.35 108.3,711.29 108.8,710.98 109.3,710.87 109.8,710.81 110.3,710.67 110.8,710.68 111.3,711.00 111.8,711.35 112.3,711.35 112.8,711.35 113.3,711.35 113.8,711.35 114.3,711.35 114.8,711.35 115.3,711.35 115.8,711.35 116.3,711.35 116.8,711.35 117.3,711.35 117.8,711.35 118.3,711.80 118.8,711.80 119.3,711.80 119.8,711.80 120.3,710.90 120.8,710.58 121.3,710.27 121.8,710.01 122.3,709.89 122.8,709.99 123.3,710.24 123.8,710.49 124.3,710.60 124.8,710.66 125.3,710.83 125.8,711.14 126.3,711.35 126.8,711.35 127.3,711.15 127.8,710.44 128.3,710.07 128.8,710.41 129.3,710.85 129.8,711.80 130.3,711.80 130.8,711.80 131.3,711.80 131.8,711.80 132.3,711.80 132.8,711.80 133.3,711.35 133.8,711.35 134.3,711.35 134.8,711.35 135.3,711.35 135.8,711.35 136.3,711.35 136.8,711.09 137.3,710.95 137.8,711.04 138.3,711.30 138.8,711.35 139.3,711.35 139.8,711.35 140.3,711.35 140.8,711.35 141.3,711.35 141.8,711.35 142.3,711.35 142.8,711.35 143.3,711.35 143.8,711.13 144.3,710.78 144.8,710.46 145.3,710.29 145.8,710.34 146.3,710.59 146.8,710.93 147.3,711.27 147.8,711.35 148.3,711.35 148.8,711.35 149.3,711.35 149.8,711.35 150.3,711.35 150.8,711.35 151.3,711.35 151.8,711.35 152.3,711.35 152.8,711.35 153.3,711.26 153.8,711.21 154.3,711.35 154.8,711.35 155.3,711.35 155.8,711.35 156.3,711.35 156.8,711.35 157.3,711.35 157.8,711.26 158.3,710.91 158.8,710.69 159.3,710.75 159.8,711.05 160.3,711.35 160.8,711.35 161.3,711.35 161.8,711.35 162.3,711.35 162.8,711.35 163.3,711.35 163.8,711.35 164.3,711.35 164.8,711.35 165.3,711.35 165.8,711.35 166.3,711.35 166.8,711.35 167.3,711.35 167.8,711.35 168.3,711.35 168.8,711.35 169.3,711.10 169.8,710.69 170.3,710.53 170.8,710.75 171.3,711.16 171.8,711.35 172.3,711.35 172.8,711.23 173.3,710.93 173.8,710.83 174.3,711.03 174.8,711.35 175.3,711.35 175.8,711.35 176.3,711.35 176.8,711.35 177.3,711.35 177.8,711.23 178.3,710.68 178.8,710.27 179.3,710.36 179.8,710.86 180.3,711.35 180.8,711.35 181.3,711.35 181.8,710.93 182.3,710.29 182.8,710.52 183.3,711.11 183.8,711.14 184.3,710.99 184.8,711.25 185.3,711.35 185.8,711.35 186.3,711.35 186.8,711.35 187.3,711.35 187.8,711.80 188.3,711.80 188.8,711.80 189.3,711.80 189.8,711.80 190.3,711.35 190.8,711.35 191.3,711.35 191.8,711.35 192.3,711.35 192.8,711.35 193.3,711.35 193.8,711.35 194.3,711.35 194.8,711.35 195.3,711.35 195.8,711.35 196.3,711.35 196.8,711.27 197.3,710.88 197.8,710.44 198.3,710.08 198.8,709.89 199.3,709.86 199.8,709.92 200.3,709.99 200.8,710.07 201.3,710.24 201.8,710.51 202.3,710.86 202.8,711.20 203.3,711.35 203.8,711.35 204.3,711.35 204.8,711.35 205.3,711.35 205.8,711.33 206.3,711.35 206.8,711.35 207.3,711.35 207.8,711.35 208.3,711.35 208.8,711.35 209.3,711.35 209.8,711.25 210.3,710.72 210.8,710.54 211.3,710.94 211.8,711.35 212.3,711.35 212.8,711.35 213.3,711.35 213.8,711.35 214.3,711.35 214.8,711.35 215.3,711.35 215.8,711.35 216.3,711.35 216.8,711.35 217.3,711.35 217.8,711.35 218.3,711.22 218.8,711.04 219.3,711.16 219.8,711.35 220.3,711.35 220.8,711.35 221.3,711.35 221.8,711.35 222.3,711.35 222.8,711.35 223.3,711.35 223.8,711.35 224.3,711.35 224.8,711.35 225.3,711.35 225.8,711.80 226.0,711.8" fill="#111"/>
<text transform="translate(32.80,712.50)" font-size="6.6" text-anchor="end" fill="#231f20" stroke="#231f20" stroke-width="0.08" textLength="21.90" lengthAdjust="spacingAndGlyphs">CTRL #3</text>
</svg>
</body></html>
